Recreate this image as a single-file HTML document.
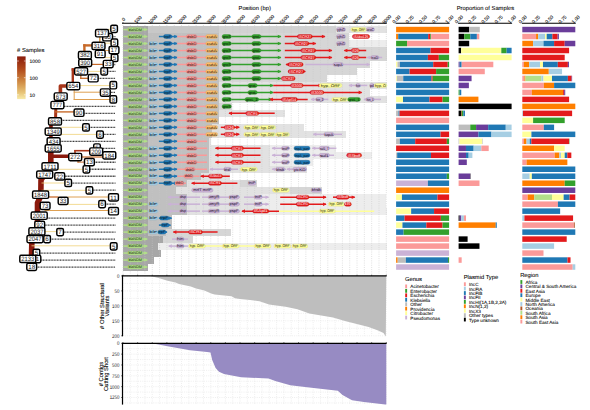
<!DOCTYPE html><html><head><meta charset="utf-8"><style>html,body{margin:0;padding:0;background:#fff;width:590px;height:410px;overflow:hidden}svg{display:block}text{font-family:"Liberation Sans",sans-serif;text-rendering:geometricPrecision}.d{stroke:#000;stroke-width:0.08px}.e{stroke:#000;stroke-width:0.07px}.t{stroke:#000;stroke-width:0.08px}.f{stroke:#111;stroke-width:0.13px}</style></head><body>
<svg width="590" height="410" viewBox="0 0 590 410">
<rect width="590" height="410" fill="#fff"/>
<rect x="122.50" y="26.06" width="25.70" height="6.985" fill="#a7a7a7" shape-rendering="crispEdges"/>
<rect x="148.20" y="26.06" width="70.80" height="6.985" fill="#c8c8c8" shape-rendering="crispEdges"/>
<rect x="219.00" y="26.06" width="117.00" height="6.985" fill="#d2d2d2" shape-rendering="crispEdges"/>
<rect x="336.00" y="26.06" width="50.60" height="6.985" fill="#e2e2e2" shape-rendering="crispEdges"/>
<rect x="122.50" y="33.04" width="25.70" height="6.985" fill="#a7a7a7" shape-rendering="crispEdges"/>
<rect x="148.20" y="33.04" width="70.80" height="6.985" fill="#c0c0c0" shape-rendering="crispEdges"/>
<rect x="219.00" y="33.04" width="130.00" height="6.985" fill="#d6d6d6" shape-rendering="crispEdges"/>
<rect x="122.50" y="40.03" width="25.70" height="6.985" fill="#a7a7a7" shape-rendering="crispEdges"/>
<rect x="148.20" y="40.03" width="70.80" height="6.985" fill="#c0c0c0" shape-rendering="crispEdges"/>
<rect x="219.00" y="40.03" width="130.00" height="6.985" fill="#d6d6d6" shape-rendering="crispEdges"/>
<rect x="349.00" y="40.03" width="37.60" height="6.985" fill="#ededed" shape-rendering="crispEdges"/>
<rect x="122.50" y="47.01" width="25.70" height="6.985" fill="#a7a7a7" shape-rendering="crispEdges"/>
<rect x="148.20" y="47.01" width="70.80" height="6.985" fill="#c0c0c0" shape-rendering="crispEdges"/>
<rect x="219.00" y="47.01" width="167.60" height="6.985" fill="#d6d6d6" shape-rendering="crispEdges"/>
<rect x="122.50" y="54.00" width="25.70" height="6.985" fill="#a7a7a7" shape-rendering="crispEdges"/>
<rect x="148.20" y="54.00" width="70.80" height="6.985" fill="#c0c0c0" shape-rendering="crispEdges"/>
<rect x="219.00" y="54.00" width="167.60" height="6.985" fill="#d6d6d6" shape-rendering="crispEdges"/>
<rect x="122.50" y="60.98" width="25.70" height="6.985" fill="#a7a7a7" shape-rendering="crispEdges"/>
<rect x="148.20" y="60.98" width="70.80" height="6.985" fill="#c0c0c0" shape-rendering="crispEdges"/>
<rect x="219.00" y="60.98" width="151.00" height="6.985" fill="#d6d6d6" shape-rendering="crispEdges"/>
<rect x="122.50" y="67.97" width="25.70" height="6.985" fill="#a7a7a7" shape-rendering="crispEdges"/>
<rect x="148.20" y="67.97" width="70.80" height="6.985" fill="#c0c0c0" shape-rendering="crispEdges"/>
<rect x="219.00" y="67.97" width="138.00" height="6.985" fill="#d6d6d6" shape-rendering="crispEdges"/>
<rect x="122.50" y="74.95" width="25.70" height="6.985" fill="#a7a7a7" shape-rendering="crispEdges"/>
<rect x="148.20" y="74.95" width="70.80" height="6.985" fill="#c0c0c0" shape-rendering="crispEdges"/>
<rect x="219.00" y="74.95" width="108.00" height="6.985" fill="#d6d6d6" shape-rendering="crispEdges"/>
<rect x="122.50" y="81.94" width="25.70" height="6.985" fill="#a7a7a7" shape-rendering="crispEdges"/>
<rect x="148.20" y="81.94" width="70.80" height="6.985" fill="#c0c0c0" shape-rendering="crispEdges"/>
<rect x="219.00" y="81.94" width="167.60" height="6.985" fill="#e2e2e2" shape-rendering="crispEdges"/>
<rect x="122.50" y="88.92" width="25.70" height="6.985" fill="#a7a7a7" shape-rendering="crispEdges"/>
<rect x="148.20" y="88.92" width="70.80" height="6.985" fill="#c0c0c0" shape-rendering="crispEdges"/>
<rect x="219.00" y="88.92" width="151.00" height="6.985" fill="#e2e2e2" shape-rendering="crispEdges"/>
<rect x="122.50" y="95.91" width="25.70" height="6.985" fill="#a7a7a7" shape-rendering="crispEdges"/>
<rect x="148.20" y="95.91" width="70.80" height="6.985" fill="#c0c0c0" shape-rendering="crispEdges"/>
<rect x="219.00" y="95.91" width="167.60" height="6.985" fill="#e2e2e2" shape-rendering="crispEdges"/>
<rect x="122.50" y="102.89" width="25.70" height="6.985" fill="#a7a7a7" shape-rendering="crispEdges"/>
<rect x="148.20" y="102.89" width="70.80" height="6.985" fill="#c0c0c0" shape-rendering="crispEdges"/>
<rect x="219.00" y="102.89" width="13.00" height="6.985" fill="#d6d6d6" shape-rendering="crispEdges"/>
<rect x="122.50" y="109.88" width="25.70" height="6.985" fill="#a7a7a7" shape-rendering="crispEdges"/>
<rect x="148.20" y="109.88" width="70.30" height="6.985" fill="#c0c0c0" shape-rendering="crispEdges"/>
<rect x="218.50" y="109.88" width="66.50" height="6.985" fill="#e2e2e2" shape-rendering="crispEdges"/>
<rect x="122.50" y="116.86" width="25.70" height="6.985" fill="#a7a7a7" shape-rendering="crispEdges"/>
<rect x="148.20" y="116.86" width="70.30" height="6.985" fill="#c0c0c0" shape-rendering="crispEdges"/>
<rect x="122.50" y="123.85" width="25.70" height="6.985" fill="#a7a7a7" shape-rendering="crispEdges"/>
<rect x="148.20" y="123.85" width="63.80" height="6.985" fill="#c0c0c0" shape-rendering="crispEdges"/>
<rect x="212.00" y="123.85" width="92.00" height="6.985" fill="#e2e2e2" shape-rendering="crispEdges"/>
<rect x="122.50" y="130.83" width="25.70" height="6.985" fill="#a7a7a7" shape-rendering="crispEdges"/>
<rect x="148.20" y="130.83" width="63.80" height="6.985" fill="#c0c0c0" shape-rendering="crispEdges"/>
<rect x="212.00" y="130.83" width="133.50" height="6.985" fill="#e2e2e2" shape-rendering="crispEdges"/>
<rect x="122.50" y="137.82" width="25.70" height="6.985" fill="#a7a7a7" shape-rendering="crispEdges"/>
<rect x="148.20" y="137.82" width="60.80" height="6.985" fill="#c0c0c0" shape-rendering="crispEdges"/>
<rect x="209.00" y="137.82" width="1.70" height="6.985" fill="#e2e2e2" shape-rendering="crispEdges"/>
<rect x="122.50" y="144.80" width="25.70" height="6.985" fill="#a7a7a7" shape-rendering="crispEdges"/>
<rect x="148.20" y="144.80" width="60.30" height="6.985" fill="#c0c0c0" shape-rendering="crispEdges"/>
<rect x="208.50" y="144.80" width="61.50" height="6.985" fill="#e2e2e2" shape-rendering="crispEdges"/>
<rect x="270.00" y="144.80" width="66.40" height="6.985" fill="#ededed" shape-rendering="crispEdges"/>
<rect x="122.50" y="151.79" width="25.70" height="6.985" fill="#a7a7a7" shape-rendering="crispEdges"/>
<rect x="148.20" y="151.79" width="60.30" height="6.985" fill="#c0c0c0" shape-rendering="crispEdges"/>
<rect x="208.50" y="151.79" width="61.50" height="6.985" fill="#e2e2e2" shape-rendering="crispEdges"/>
<rect x="270.00" y="151.79" width="102.00" height="6.985" fill="#ededed" shape-rendering="crispEdges"/>
<rect x="122.50" y="158.77" width="25.70" height="6.985" fill="#a7a7a7" shape-rendering="crispEdges"/>
<rect x="148.20" y="158.77" width="60.30" height="6.985" fill="#c0c0c0" shape-rendering="crispEdges"/>
<rect x="208.50" y="158.77" width="61.50" height="6.985" fill="#e2e2e2" shape-rendering="crispEdges"/>
<rect x="270.00" y="158.77" width="43.40" height="6.985" fill="#ededed" shape-rendering="crispEdges"/>
<rect x="122.50" y="165.76" width="25.70" height="6.985" fill="#a7a7a7" shape-rendering="crispEdges"/>
<rect x="148.20" y="165.76" width="60.30" height="6.985" fill="#c0c0c0" shape-rendering="crispEdges"/>
<rect x="208.50" y="165.76" width="98.10" height="6.985" fill="#e2e2e2" shape-rendering="crispEdges"/>
<rect x="122.50" y="172.74" width="25.70" height="6.985" fill="#a7a7a7" shape-rendering="crispEdges"/>
<rect x="148.20" y="172.74" width="52.60" height="6.985" fill="#c0c0c0" shape-rendering="crispEdges"/>
<rect x="200.80" y="172.74" width="29.00" height="6.985" fill="#e2e2e2" shape-rendering="crispEdges"/>
<rect x="122.50" y="179.73" width="25.70" height="6.985" fill="#a7a7a7" shape-rendering="crispEdges"/>
<rect x="148.20" y="179.73" width="38.80" height="6.985" fill="#c0c0c0" shape-rendering="crispEdges"/>
<rect x="187.00" y="179.73" width="53.00" height="6.985" fill="#e2e2e2" shape-rendering="crispEdges"/>
<rect x="240.00" y="179.73" width="16.50" height="6.985" fill="#d6d6d6" shape-rendering="crispEdges"/>
<rect x="122.50" y="186.71" width="25.70" height="6.985" fill="#a7a7a7" shape-rendering="crispEdges"/>
<rect x="148.20" y="186.71" width="28.20" height="6.985" fill="#c0c0c0" shape-rendering="crispEdges"/>
<rect x="176.40" y="186.71" width="113.60" height="6.985" fill="#e2e2e2" shape-rendering="crispEdges"/>
<rect x="290.00" y="186.71" width="31.50" height="6.985" fill="#d6d6d6" shape-rendering="crispEdges"/>
<rect x="122.50" y="193.70" width="25.70" height="6.985" fill="#a7a7a7" shape-rendering="crispEdges"/>
<rect x="148.20" y="193.70" width="38.30" height="6.985" fill="#c0c0c0" shape-rendering="crispEdges"/>
<rect x="186.50" y="193.70" width="68.50" height="6.985" fill="#e2e2e2" shape-rendering="crispEdges"/>
<rect x="255.00" y="193.70" width="130.60" height="6.985" fill="#ededed" shape-rendering="crispEdges"/>
<rect x="122.50" y="200.68" width="25.70" height="6.985" fill="#a7a7a7" shape-rendering="crispEdges"/>
<rect x="148.20" y="200.68" width="38.30" height="6.985" fill="#c0c0c0" shape-rendering="crispEdges"/>
<rect x="186.50" y="200.68" width="68.50" height="6.985" fill="#e2e2e2" shape-rendering="crispEdges"/>
<rect x="255.00" y="200.68" width="130.60" height="6.985" fill="#ededed" shape-rendering="crispEdges"/>
<rect x="122.50" y="207.67" width="25.70" height="6.985" fill="#a7a7a7" shape-rendering="crispEdges"/>
<rect x="148.20" y="207.67" width="38.30" height="6.985" fill="#c0c0c0" shape-rendering="crispEdges"/>
<rect x="186.50" y="207.67" width="68.50" height="6.985" fill="#e2e2e2" shape-rendering="crispEdges"/>
<rect x="255.00" y="207.67" width="131.60" height="6.985" fill="#ededed" shape-rendering="crispEdges"/>
<rect x="122.50" y="214.65" width="25.70" height="6.985" fill="#a7a7a7" shape-rendering="crispEdges"/>
<rect x="148.20" y="214.65" width="23.60" height="6.985" fill="#c0c0c0" shape-rendering="crispEdges"/>
<rect x="122.50" y="221.64" width="25.70" height="6.985" fill="#a7a7a7" shape-rendering="crispEdges"/>
<rect x="148.20" y="221.64" width="23.60" height="6.985" fill="#c0c0c0" shape-rendering="crispEdges"/>
<rect x="122.50" y="228.62" width="25.70" height="6.985" fill="#a7a7a7" shape-rendering="crispEdges"/>
<rect x="148.20" y="228.62" width="17.60" height="6.985" fill="#c0c0c0" shape-rendering="crispEdges"/>
<rect x="165.80" y="228.62" width="65.50" height="6.985" fill="#d6d6d6" shape-rendering="crispEdges"/>
<rect x="122.50" y="235.61" width="40.20" height="6.985" fill="#a7a7a7" shape-rendering="crispEdges"/>
<rect x="162.70" y="235.61" width="30.50" height="6.985" fill="#d6d6d6" shape-rendering="crispEdges"/>
<rect x="122.50" y="242.59" width="35.50" height="6.985" fill="#a7a7a7" shape-rendering="crispEdges"/>
<rect x="158.00" y="242.59" width="228.60" height="6.985" fill="#ededed" shape-rendering="crispEdges"/>
<rect x="122.50" y="249.58" width="38.70" height="6.985" fill="#a7a7a7" shape-rendering="crispEdges"/>
<rect x="122.50" y="256.56" width="31.20" height="6.985" fill="#a7a7a7" shape-rendering="crispEdges"/>
<rect x="122.50" y="263.55" width="25.80" height="6.985" fill="#a7a7a7" shape-rendering="crispEdges"/>
<line x1="123.00" y1="25" x2="123.00" y2="274" stroke="#c8c8c8" stroke-width="0.6" stroke-dasharray="0.9,1.3"/>
<line x1="130.31" y1="25" x2="130.31" y2="274" stroke="#c8c8c8" stroke-width="0.6" stroke-dasharray="0.9,1.3"/>
<line x1="137.63" y1="25" x2="137.63" y2="274" stroke="#c8c8c8" stroke-width="0.6" stroke-dasharray="0.9,1.3"/>
<line x1="144.94" y1="25" x2="144.94" y2="274" stroke="#c8c8c8" stroke-width="0.6" stroke-dasharray="0.9,1.3"/>
<line x1="152.26" y1="25" x2="152.26" y2="274" stroke="#c8c8c8" stroke-width="0.6" stroke-dasharray="0.9,1.3"/>
<line x1="159.57" y1="25" x2="159.57" y2="274" stroke="#c8c8c8" stroke-width="0.6" stroke-dasharray="0.9,1.3"/>
<line x1="166.88" y1="25" x2="166.88" y2="274" stroke="#c8c8c8" stroke-width="0.6" stroke-dasharray="0.9,1.3"/>
<line x1="174.20" y1="25" x2="174.20" y2="274" stroke="#c8c8c8" stroke-width="0.6" stroke-dasharray="0.9,1.3"/>
<line x1="181.51" y1="25" x2="181.51" y2="274" stroke="#c8c8c8" stroke-width="0.6" stroke-dasharray="0.9,1.3"/>
<line x1="188.82" y1="25" x2="188.82" y2="274" stroke="#c8c8c8" stroke-width="0.6" stroke-dasharray="0.9,1.3"/>
<line x1="196.14" y1="25" x2="196.14" y2="274" stroke="#c8c8c8" stroke-width="0.6" stroke-dasharray="0.9,1.3"/>
<line x1="203.45" y1="25" x2="203.45" y2="274" stroke="#c8c8c8" stroke-width="0.6" stroke-dasharray="0.9,1.3"/>
<line x1="210.77" y1="25" x2="210.77" y2="274" stroke="#c8c8c8" stroke-width="0.6" stroke-dasharray="0.9,1.3"/>
<line x1="218.08" y1="25" x2="218.08" y2="274" stroke="#c8c8c8" stroke-width="0.6" stroke-dasharray="0.9,1.3"/>
<line x1="225.39" y1="25" x2="225.39" y2="274" stroke="#c8c8c8" stroke-width="0.6" stroke-dasharray="0.9,1.3"/>
<line x1="232.71" y1="25" x2="232.71" y2="274" stroke="#c8c8c8" stroke-width="0.6" stroke-dasharray="0.9,1.3"/>
<line x1="240.02" y1="25" x2="240.02" y2="274" stroke="#c8c8c8" stroke-width="0.6" stroke-dasharray="0.9,1.3"/>
<line x1="247.34" y1="25" x2="247.34" y2="274" stroke="#c8c8c8" stroke-width="0.6" stroke-dasharray="0.9,1.3"/>
<line x1="254.65" y1="25" x2="254.65" y2="274" stroke="#c8c8c8" stroke-width="0.6" stroke-dasharray="0.9,1.3"/>
<line x1="261.96" y1="25" x2="261.96" y2="274" stroke="#c8c8c8" stroke-width="0.6" stroke-dasharray="0.9,1.3"/>
<line x1="269.28" y1="25" x2="269.28" y2="274" stroke="#c8c8c8" stroke-width="0.6" stroke-dasharray="0.9,1.3"/>
<line x1="276.59" y1="25" x2="276.59" y2="274" stroke="#c8c8c8" stroke-width="0.6" stroke-dasharray="0.9,1.3"/>
<line x1="283.91" y1="25" x2="283.91" y2="274" stroke="#c8c8c8" stroke-width="0.6" stroke-dasharray="0.9,1.3"/>
<line x1="291.22" y1="25" x2="291.22" y2="274" stroke="#c8c8c8" stroke-width="0.6" stroke-dasharray="0.9,1.3"/>
<line x1="298.53" y1="25" x2="298.53" y2="274" stroke="#c8c8c8" stroke-width="0.6" stroke-dasharray="0.9,1.3"/>
<line x1="305.85" y1="25" x2="305.85" y2="274" stroke="#c8c8c8" stroke-width="0.6" stroke-dasharray="0.9,1.3"/>
<line x1="313.16" y1="25" x2="313.16" y2="274" stroke="#c8c8c8" stroke-width="0.6" stroke-dasharray="0.9,1.3"/>
<line x1="320.48" y1="25" x2="320.48" y2="274" stroke="#c8c8c8" stroke-width="0.6" stroke-dasharray="0.9,1.3"/>
<line x1="327.79" y1="25" x2="327.79" y2="274" stroke="#c8c8c8" stroke-width="0.6" stroke-dasharray="0.9,1.3"/>
<line x1="335.10" y1="25" x2="335.10" y2="274" stroke="#c8c8c8" stroke-width="0.6" stroke-dasharray="0.9,1.3"/>
<line x1="342.42" y1="25" x2="342.42" y2="274" stroke="#c8c8c8" stroke-width="0.6" stroke-dasharray="0.9,1.3"/>
<line x1="349.73" y1="25" x2="349.73" y2="274" stroke="#c8c8c8" stroke-width="0.6" stroke-dasharray="0.9,1.3"/>
<line x1="357.04" y1="25" x2="357.04" y2="274" stroke="#c8c8c8" stroke-width="0.6" stroke-dasharray="0.9,1.3"/>
<line x1="364.36" y1="25" x2="364.36" y2="274" stroke="#c8c8c8" stroke-width="0.6" stroke-dasharray="0.9,1.3"/>
<line x1="371.67" y1="25" x2="371.67" y2="274" stroke="#c8c8c8" stroke-width="0.6" stroke-dasharray="0.9,1.3"/>
<line x1="378.99" y1="25" x2="378.99" y2="274" stroke="#c8c8c8" stroke-width="0.6" stroke-dasharray="0.9,1.3"/>
<line x1="386.30" y1="25" x2="386.30" y2="274" stroke="#c8c8c8" stroke-width="0.6" stroke-dasharray="0.9,1.3"/>
<line x1="123.40" y1="29.55" x2="147.20" y2="29.55" stroke="#b2df8a" stroke-width="1.5"/>
<path d="M147.80,29.55 L144.20,27.75 L144.20,31.35Z" fill="#b2df8a"/>
<rect x="127.30" y="27.60" width="15.60" height="3.9" rx="1.9" fill="#b2df8a" stroke="#97bd75" stroke-width="0.4"/>
<text x="135.10" y="30.80" font-size="3.8" text-anchor="middle" fill="#0a2005" textLength="13.42" lengthAdjust="spacingAndGlyphs">blaNDM</text>
<rect x="336.40" y="27.60" width="9.10" height="3.9" rx="1.9" fill="#cab2d6" stroke="#ab97b5" stroke-width="0.4"/>
<text x="340.95" y="30.80" font-size="3.8" text-anchor="middle" fill="#100818" textLength="7.83" lengthAdjust="spacingAndGlyphs">yjhG</text>
<rect x="351.00" y="27.60" width="15.20" height="3.9" rx="1.9" fill="#ffff99" stroke="#d8d882" stroke-width="0.4"/>
<text x="358.60" y="30.80" font-size="3.8" text-anchor="middle" fill="#101000" textLength="13.07" lengthAdjust="spacingAndGlyphs">hyp. ORF</text>
<rect x="366.20" y="27.60" width="8.30" height="3.9" rx="1.9" fill="#cab2d6" stroke="#ab97b5" stroke-width="0.4"/>
<text x="370.35" y="30.80" font-size="3.8" text-anchor="middle" fill="#100818" textLength="7.14" lengthAdjust="spacingAndGlyphs">aroC</text>
<line x1="123.40" y1="36.54" x2="147.20" y2="36.54" stroke="#b2df8a" stroke-width="1.5"/>
<path d="M147.80,36.54 L144.20,34.74 L144.20,38.34Z" fill="#b2df8a"/>
<rect x="127.30" y="34.59" width="15.60" height="3.9" rx="1.9" fill="#b2df8a" stroke="#97bd75" stroke-width="0.4"/>
<text x="135.10" y="37.79" font-size="3.8" text-anchor="middle" fill="#0a2005" textLength="13.42" lengthAdjust="spacingAndGlyphs">blaNDM</text>
<line x1="158.90" y1="36.54" x2="177.20" y2="36.54" stroke="#1f78b4" stroke-width="1.5"/>
<path d="M177.80,36.54 L174.20,34.74 L174.20,38.34Z" fill="#1f78b4"/>
<rect x="163.50" y="34.59" width="8.40" height="3.9" rx="1.9" fill="#1f78b4" stroke="#1a6699" stroke-width="0.4"/>
<text x="167.70" y="37.79" font-size="3.8" text-anchor="middle" fill="#000810" textLength="7.22" lengthAdjust="spacingAndGlyphs">trpF</text>
<line x1="177.20" y1="36.54" x2="206.50" y2="36.54" stroke="#fb9a99" stroke-width="1.5"/>
<rect x="186.40" y="34.59" width="10.60" height="3.9" rx="1.9" fill="#fb9a99" stroke="#d58282" stroke-width="0.4"/>
<text x="191.70" y="37.79" font-size="3.8" text-anchor="middle" fill="#300808" textLength="9.12" lengthAdjust="spacingAndGlyphs">dsbD</text>
<rect x="205.80" y="34.59" width="11.80" height="3.9" rx="1.9" fill="#fdbf6f" stroke="#d7a25e" stroke-width="0.4"/>
<text x="211.70" y="37.79" font-size="3.8" text-anchor="middle" fill="#201000" textLength="10.15" lengthAdjust="spacingAndGlyphs">cutA</text>
<rect x="222.10" y="34.59" width="9.20" height="3.9" rx="1.9" fill="#33a02c" stroke="#2b8825" stroke-width="0.4"/>
<text x="226.70" y="37.79" font-size="3.8" text-anchor="middle" fill="#000a00" textLength="7.91" lengthAdjust="spacingAndGlyphs">groS</text>
<line x1="231.30" y1="36.54" x2="280.80" y2="36.54" stroke="#33a02c" stroke-width="1.5"/>
<path d="M281.40,36.54 L277.80,34.74 L277.80,38.34Z" fill="#33a02c"/>
<rect x="251.90" y="34.59" width="9.10" height="3.9" rx="1.9" fill="#33a02c" stroke="#2b8825" stroke-width="0.4"/>
<text x="256.45" y="37.79" font-size="3.8" text-anchor="middle" fill="#000a00" textLength="7.83" lengthAdjust="spacingAndGlyphs">groL</text>
<line x1="284.80" y1="36.54" x2="324.90" y2="36.54" stroke="#e31a1c" stroke-width="1.5"/>
<path d="M325.50,36.54 L321.90,34.74 L321.90,38.34Z" fill="#e31a1c"/>
<rect x="297.40" y="34.59" width="14.90" height="3.9" rx="1.9" fill="#e31a1c" stroke="#c01617" stroke-width="0.4"/>
<text x="304.85" y="37.79" font-size="3.8" text-anchor="middle" fill="#ffffff" textLength="12.81" lengthAdjust="spacingAndGlyphs">ISCR27</text>
<rect x="336.40" y="34.59" width="9.10" height="3.9" rx="1.9" fill="#cab2d6" stroke="#ab97b5" stroke-width="0.4"/>
<text x="340.95" y="37.79" font-size="3.8" text-anchor="middle" fill="#100818" textLength="7.83" lengthAdjust="spacingAndGlyphs">yjhG</text>
<rect x="352.40" y="34.59" width="17.20" height="3.9" rx="1.9" fill="#e31a1c" stroke="#c01617" stroke-width="0.4"/>
<text x="361.00" y="37.79" font-size="3.8" text-anchor="middle" fill="#ffffff" textLength="14.79" lengthAdjust="spacingAndGlyphs">ISAba125</text>
<line x1="123.40" y1="43.52" x2="147.20" y2="43.52" stroke="#b2df8a" stroke-width="1.5"/>
<path d="M147.80,43.52 L144.20,41.72 L144.20,45.32Z" fill="#b2df8a"/>
<rect x="127.30" y="41.57" width="15.60" height="3.9" rx="1.9" fill="#b2df8a" stroke="#97bd75" stroke-width="0.4"/>
<text x="135.10" y="44.77" font-size="3.8" text-anchor="middle" fill="#0a2005" textLength="13.42" lengthAdjust="spacingAndGlyphs">blaNDM</text>
<line x1="147.80" y1="43.52" x2="158.50" y2="43.52" stroke="#a6cee3" stroke-width="1.5"/>
<rect x="148.60" y="41.57" width="9.00" height="3.9" rx="1.9" fill="#a6cee3" stroke="#8dafc0" stroke-width="0.4"/>
<text x="153.10" y="44.77" font-size="3.8" text-anchor="middle" fill="#05182a" textLength="7.74" lengthAdjust="spacingAndGlyphs">ble</text>
<line x1="158.90" y1="43.52" x2="177.20" y2="43.52" stroke="#1f78b4" stroke-width="1.5"/>
<path d="M177.80,43.52 L174.20,41.72 L174.20,45.32Z" fill="#1f78b4"/>
<rect x="163.50" y="41.57" width="8.40" height="3.9" rx="1.9" fill="#1f78b4" stroke="#1a6699" stroke-width="0.4"/>
<text x="167.70" y="44.77" font-size="3.8" text-anchor="middle" fill="#000810" textLength="7.22" lengthAdjust="spacingAndGlyphs">trpF</text>
<line x1="177.20" y1="43.52" x2="206.50" y2="43.52" stroke="#fb9a99" stroke-width="1.5"/>
<rect x="186.40" y="41.57" width="10.60" height="3.9" rx="1.9" fill="#fb9a99" stroke="#d58282" stroke-width="0.4"/>
<text x="191.70" y="44.77" font-size="3.8" text-anchor="middle" fill="#300808" textLength="9.12" lengthAdjust="spacingAndGlyphs">dsbD</text>
<rect x="205.80" y="41.57" width="11.80" height="3.9" rx="1.9" fill="#fdbf6f" stroke="#d7a25e" stroke-width="0.4"/>
<text x="211.70" y="44.77" font-size="3.8" text-anchor="middle" fill="#201000" textLength="10.15" lengthAdjust="spacingAndGlyphs">cutA</text>
<rect x="222.10" y="41.57" width="9.20" height="3.9" rx="1.9" fill="#33a02c" stroke="#2b8825" stroke-width="0.4"/>
<text x="226.70" y="44.77" font-size="3.8" text-anchor="middle" fill="#000a00" textLength="7.91" lengthAdjust="spacingAndGlyphs">groS</text>
<line x1="231.30" y1="43.52" x2="280.80" y2="43.52" stroke="#33a02c" stroke-width="1.5"/>
<path d="M281.40,43.52 L277.80,41.72 L277.80,45.32Z" fill="#33a02c"/>
<rect x="251.90" y="41.57" width="9.10" height="3.9" rx="1.9" fill="#33a02c" stroke="#2b8825" stroke-width="0.4"/>
<text x="256.45" y="44.77" font-size="3.8" text-anchor="middle" fill="#000a00" textLength="7.83" lengthAdjust="spacingAndGlyphs">groL</text>
<line x1="284.80" y1="43.52" x2="315.70" y2="43.52" stroke="#e31a1c" stroke-width="1.5"/>
<path d="M316.30,43.52 L312.70,41.72 L312.70,45.32Z" fill="#e31a1c"/>
<rect x="294.00" y="41.57" width="14.90" height="3.9" rx="1.9" fill="#e31a1c" stroke="#c01617" stroke-width="0.4"/>
<text x="301.45" y="44.77" font-size="3.8" text-anchor="middle" fill="#ffffff" textLength="12.81" lengthAdjust="spacingAndGlyphs">ISCR27</text>
<rect x="336.40" y="41.57" width="9.10" height="3.9" rx="1.9" fill="#cab2d6" stroke="#ab97b5" stroke-width="0.4"/>
<text x="340.95" y="44.77" font-size="3.8" text-anchor="middle" fill="#100818" textLength="7.83" lengthAdjust="spacingAndGlyphs">yjhG</text>
<line x1="123.40" y1="50.51" x2="147.20" y2="50.51" stroke="#b2df8a" stroke-width="1.5"/>
<path d="M147.80,50.51 L144.20,48.71 L144.20,52.30Z" fill="#b2df8a"/>
<rect x="127.30" y="48.55" width="15.60" height="3.9" rx="1.9" fill="#b2df8a" stroke="#97bd75" stroke-width="0.4"/>
<text x="135.10" y="51.76" font-size="3.8" text-anchor="middle" fill="#0a2005" textLength="13.42" lengthAdjust="spacingAndGlyphs">blaNDM</text>
<line x1="147.80" y1="50.51" x2="158.50" y2="50.51" stroke="#a6cee3" stroke-width="1.5"/>
<rect x="148.60" y="48.55" width="9.00" height="3.9" rx="1.9" fill="#a6cee3" stroke="#8dafc0" stroke-width="0.4"/>
<text x="153.10" y="51.76" font-size="3.8" text-anchor="middle" fill="#05182a" textLength="7.74" lengthAdjust="spacingAndGlyphs">ble</text>
<line x1="158.90" y1="50.51" x2="177.20" y2="50.51" stroke="#1f78b4" stroke-width="1.5"/>
<path d="M177.80,50.51 L174.20,48.71 L174.20,52.30Z" fill="#1f78b4"/>
<rect x="163.50" y="48.55" width="8.40" height="3.9" rx="1.9" fill="#1f78b4" stroke="#1a6699" stroke-width="0.4"/>
<text x="167.70" y="51.76" font-size="3.8" text-anchor="middle" fill="#000810" textLength="7.22" lengthAdjust="spacingAndGlyphs">trpF</text>
<line x1="177.20" y1="50.51" x2="206.50" y2="50.51" stroke="#fb9a99" stroke-width="1.5"/>
<rect x="186.40" y="48.55" width="10.60" height="3.9" rx="1.9" fill="#fb9a99" stroke="#d58282" stroke-width="0.4"/>
<text x="191.70" y="51.76" font-size="3.8" text-anchor="middle" fill="#300808" textLength="9.12" lengthAdjust="spacingAndGlyphs">dsbD</text>
<rect x="205.80" y="48.55" width="11.80" height="3.9" rx="1.9" fill="#fdbf6f" stroke="#d7a25e" stroke-width="0.4"/>
<text x="211.70" y="51.76" font-size="3.8" text-anchor="middle" fill="#201000" textLength="10.15" lengthAdjust="spacingAndGlyphs">cutA</text>
<rect x="222.10" y="48.55" width="9.20" height="3.9" rx="1.9" fill="#33a02c" stroke="#2b8825" stroke-width="0.4"/>
<text x="226.70" y="51.76" font-size="3.8" text-anchor="middle" fill="#000a00" textLength="7.91" lengthAdjust="spacingAndGlyphs">groS</text>
<line x1="231.30" y1="50.51" x2="280.80" y2="50.51" stroke="#33a02c" stroke-width="1.5"/>
<path d="M281.40,50.51 L277.80,48.71 L277.80,52.30Z" fill="#33a02c"/>
<rect x="251.90" y="48.55" width="9.10" height="3.9" rx="1.9" fill="#33a02c" stroke="#2b8825" stroke-width="0.4"/>
<text x="256.45" y="51.76" font-size="3.8" text-anchor="middle" fill="#000a00" textLength="7.83" lengthAdjust="spacingAndGlyphs">groL</text>
<line x1="284.80" y1="50.51" x2="331.80" y2="50.51" stroke="#e31a1c" stroke-width="1.5"/>
<path d="M332.40,50.51 L328.80,48.71 L328.80,52.30Z" fill="#e31a1c"/>
<rect x="300.80" y="48.55" width="14.90" height="3.9" rx="1.9" fill="#e31a1c" stroke="#c01617" stroke-width="0.4"/>
<text x="308.25" y="51.76" font-size="3.8" text-anchor="middle" fill="#ffffff" textLength="12.81" lengthAdjust="spacingAndGlyphs">ISCR27</text>
<line x1="344.40" y1="50.51" x2="366.20" y2="50.51" stroke="#e31a1c" stroke-width="1.5"/>
<path d="M343.80,50.51 L347.40,48.71 L347.40,52.30Z" fill="#e31a1c"/>
<rect x="351.30" y="48.55" width="8.00" height="3.9" rx="1.9" fill="#e31a1c" stroke="#c01617" stroke-width="0.4"/>
<text x="355.30" y="51.76" font-size="3.8" text-anchor="middle" fill="#ffffff" textLength="6.88" lengthAdjust="spacingAndGlyphs">IS26</text>
<line x1="123.40" y1="57.49" x2="147.20" y2="57.49" stroke="#b2df8a" stroke-width="1.5"/>
<path d="M147.80,57.49 L144.20,55.69 L144.20,59.29Z" fill="#b2df8a"/>
<rect x="127.30" y="55.54" width="15.60" height="3.9" rx="1.9" fill="#b2df8a" stroke="#97bd75" stroke-width="0.4"/>
<text x="135.10" y="58.74" font-size="3.8" text-anchor="middle" fill="#0a2005" textLength="13.42" lengthAdjust="spacingAndGlyphs">blaNDM</text>
<line x1="147.80" y1="57.49" x2="158.50" y2="57.49" stroke="#a6cee3" stroke-width="1.5"/>
<rect x="148.60" y="55.54" width="9.00" height="3.9" rx="1.9" fill="#a6cee3" stroke="#8dafc0" stroke-width="0.4"/>
<text x="153.10" y="58.74" font-size="3.8" text-anchor="middle" fill="#05182a" textLength="7.74" lengthAdjust="spacingAndGlyphs">ble</text>
<line x1="158.90" y1="57.49" x2="177.20" y2="57.49" stroke="#1f78b4" stroke-width="1.5"/>
<path d="M177.80,57.49 L174.20,55.69 L174.20,59.29Z" fill="#1f78b4"/>
<rect x="163.50" y="55.54" width="8.40" height="3.9" rx="1.9" fill="#1f78b4" stroke="#1a6699" stroke-width="0.4"/>
<text x="167.70" y="58.74" font-size="3.8" text-anchor="middle" fill="#000810" textLength="7.22" lengthAdjust="spacingAndGlyphs">trpF</text>
<line x1="177.20" y1="57.49" x2="206.50" y2="57.49" stroke="#fb9a99" stroke-width="1.5"/>
<rect x="186.40" y="55.54" width="10.60" height="3.9" rx="1.9" fill="#fb9a99" stroke="#d58282" stroke-width="0.4"/>
<text x="191.70" y="58.74" font-size="3.8" text-anchor="middle" fill="#300808" textLength="9.12" lengthAdjust="spacingAndGlyphs">dsbD</text>
<rect x="205.80" y="55.54" width="11.80" height="3.9" rx="1.9" fill="#fdbf6f" stroke="#d7a25e" stroke-width="0.4"/>
<text x="211.70" y="58.74" font-size="3.8" text-anchor="middle" fill="#201000" textLength="10.15" lengthAdjust="spacingAndGlyphs">cutA</text>
<rect x="222.10" y="55.54" width="9.20" height="3.9" rx="1.9" fill="#33a02c" stroke="#2b8825" stroke-width="0.4"/>
<text x="226.70" y="58.74" font-size="3.8" text-anchor="middle" fill="#000a00" textLength="7.91" lengthAdjust="spacingAndGlyphs">groS</text>
<line x1="231.30" y1="57.49" x2="280.80" y2="57.49" stroke="#33a02c" stroke-width="1.5"/>
<path d="M281.40,57.49 L277.80,55.69 L277.80,59.29Z" fill="#33a02c"/>
<rect x="251.90" y="55.54" width="9.10" height="3.9" rx="1.9" fill="#33a02c" stroke="#2b8825" stroke-width="0.4"/>
<text x="256.45" y="58.74" font-size="3.8" text-anchor="middle" fill="#000a00" textLength="7.83" lengthAdjust="spacingAndGlyphs">groL</text>
<line x1="284.80" y1="57.49" x2="331.80" y2="57.49" stroke="#e31a1c" stroke-width="1.5"/>
<path d="M332.40,57.49 L328.80,55.69 L328.80,59.29Z" fill="#e31a1c"/>
<rect x="300.80" y="55.54" width="14.90" height="3.9" rx="1.9" fill="#e31a1c" stroke="#c01617" stroke-width="0.4"/>
<text x="308.25" y="58.74" font-size="3.8" text-anchor="middle" fill="#ffffff" textLength="12.81" lengthAdjust="spacingAndGlyphs">ISCR27</text>
<line x1="344.40" y1="57.49" x2="366.20" y2="57.49" stroke="#e31a1c" stroke-width="1.5"/>
<path d="M343.80,57.49 L347.40,55.69 L347.40,59.29Z" fill="#e31a1c"/>
<rect x="351.30" y="55.54" width="8.00" height="3.9" rx="1.9" fill="#e31a1c" stroke="#c01617" stroke-width="0.4"/>
<text x="355.30" y="58.74" font-size="3.8" text-anchor="middle" fill="#ffffff" textLength="6.88" lengthAdjust="spacingAndGlyphs">IS26</text>
<line x1="367.30" y1="57.49" x2="382.20" y2="57.49" stroke="#cab2d6" stroke-width="1.5"/>
<path d="M366.70,57.49 L370.30,55.69 L370.30,59.29Z" fill="#cab2d6"/>
<rect x="370.70" y="55.54" width="8.10" height="3.9" rx="1.9" fill="#cab2d6" stroke="#ab97b5" stroke-width="0.4"/>
<text x="374.75" y="58.74" font-size="3.8" text-anchor="middle" fill="#100818" textLength="6.97" lengthAdjust="spacingAndGlyphs">traD</text>
<line x1="123.40" y1="64.48" x2="147.20" y2="64.48" stroke="#b2df8a" stroke-width="1.5"/>
<path d="M147.80,64.48 L144.20,62.68 L144.20,66.28Z" fill="#b2df8a"/>
<rect x="127.30" y="62.53" width="15.60" height="3.9" rx="1.9" fill="#b2df8a" stroke="#97bd75" stroke-width="0.4"/>
<text x="135.10" y="65.73" font-size="3.8" text-anchor="middle" fill="#0a2005" textLength="13.42" lengthAdjust="spacingAndGlyphs">blaNDM</text>
<line x1="147.80" y1="64.48" x2="158.50" y2="64.48" stroke="#a6cee3" stroke-width="1.5"/>
<rect x="148.60" y="62.53" width="9.00" height="3.9" rx="1.9" fill="#a6cee3" stroke="#8dafc0" stroke-width="0.4"/>
<text x="153.10" y="65.73" font-size="3.8" text-anchor="middle" fill="#05182a" textLength="7.74" lengthAdjust="spacingAndGlyphs">ble</text>
<line x1="158.90" y1="64.48" x2="177.20" y2="64.48" stroke="#1f78b4" stroke-width="1.5"/>
<path d="M177.80,64.48 L174.20,62.68 L174.20,66.28Z" fill="#1f78b4"/>
<rect x="163.50" y="62.53" width="8.40" height="3.9" rx="1.9" fill="#1f78b4" stroke="#1a6699" stroke-width="0.4"/>
<text x="167.70" y="65.73" font-size="3.8" text-anchor="middle" fill="#000810" textLength="7.22" lengthAdjust="spacingAndGlyphs">trpF</text>
<line x1="177.20" y1="64.48" x2="206.50" y2="64.48" stroke="#fb9a99" stroke-width="1.5"/>
<rect x="186.40" y="62.53" width="10.60" height="3.9" rx="1.9" fill="#fb9a99" stroke="#d58282" stroke-width="0.4"/>
<text x="191.70" y="65.73" font-size="3.8" text-anchor="middle" fill="#300808" textLength="9.12" lengthAdjust="spacingAndGlyphs">dsbD</text>
<rect x="205.80" y="62.53" width="11.80" height="3.9" rx="1.9" fill="#fdbf6f" stroke="#d7a25e" stroke-width="0.4"/>
<text x="211.70" y="65.73" font-size="3.8" text-anchor="middle" fill="#201000" textLength="10.15" lengthAdjust="spacingAndGlyphs">cutA</text>
<rect x="222.10" y="62.53" width="9.20" height="3.9" rx="1.9" fill="#33a02c" stroke="#2b8825" stroke-width="0.4"/>
<text x="226.70" y="65.73" font-size="3.8" text-anchor="middle" fill="#000a00" textLength="7.91" lengthAdjust="spacingAndGlyphs">groS</text>
<line x1="231.30" y1="64.48" x2="280.80" y2="64.48" stroke="#33a02c" stroke-width="1.5"/>
<path d="M281.40,64.48 L277.80,62.68 L277.80,66.28Z" fill="#33a02c"/>
<rect x="251.90" y="62.53" width="9.10" height="3.9" rx="1.9" fill="#33a02c" stroke="#2b8825" stroke-width="0.4"/>
<text x="256.45" y="65.73" font-size="3.8" text-anchor="middle" fill="#000a00" textLength="7.83" lengthAdjust="spacingAndGlyphs">groL</text>
<line x1="286.00" y1="64.48" x2="303.00" y2="64.48" stroke="#e31a1c" stroke-width="1.5"/>
<path d="M285.40,64.48 L289.00,62.68 L289.00,66.28Z" fill="#e31a1c"/>
<rect x="288.20" y="62.53" width="14.90" height="3.9" rx="1.9" fill="#e31a1c" stroke="#c01617" stroke-width="0.4"/>
<text x="295.65" y="65.73" font-size="3.8" text-anchor="middle" fill="#ffffff" textLength="12.81" lengthAdjust="spacingAndGlyphs">ISCR27</text>
<line x1="305.30" y1="64.48" x2="369.60" y2="64.48" stroke="#cab2d6" stroke-width="1.5"/>
<path d="M370.20,64.48 L366.60,62.68 L366.60,66.28Z" fill="#cab2d6"/>
<rect x="333.00" y="62.53" width="10.20" height="3.9" rx="1.9" fill="#cab2d6" stroke="#ab97b5" stroke-width="0.4"/>
<text x="338.10" y="65.73" font-size="3.8" text-anchor="middle" fill="#100818" textLength="8.77" lengthAdjust="spacingAndGlyphs">sapA</text>
<line x1="123.40" y1="71.46" x2="147.20" y2="71.46" stroke="#b2df8a" stroke-width="1.5"/>
<path d="M147.80,71.46 L144.20,69.66 L144.20,73.26Z" fill="#b2df8a"/>
<rect x="127.30" y="69.51" width="15.60" height="3.9" rx="1.9" fill="#b2df8a" stroke="#97bd75" stroke-width="0.4"/>
<text x="135.10" y="72.71" font-size="3.8" text-anchor="middle" fill="#0a2005" textLength="13.42" lengthAdjust="spacingAndGlyphs">blaNDM</text>
<line x1="147.80" y1="71.46" x2="158.50" y2="71.46" stroke="#a6cee3" stroke-width="1.5"/>
<rect x="148.60" y="69.51" width="9.00" height="3.9" rx="1.9" fill="#a6cee3" stroke="#8dafc0" stroke-width="0.4"/>
<text x="153.10" y="72.71" font-size="3.8" text-anchor="middle" fill="#05182a" textLength="7.74" lengthAdjust="spacingAndGlyphs">ble</text>
<line x1="158.90" y1="71.46" x2="177.20" y2="71.46" stroke="#1f78b4" stroke-width="1.5"/>
<path d="M177.80,71.46 L174.20,69.66 L174.20,73.26Z" fill="#1f78b4"/>
<rect x="163.50" y="69.51" width="8.40" height="3.9" rx="1.9" fill="#1f78b4" stroke="#1a6699" stroke-width="0.4"/>
<text x="167.70" y="72.71" font-size="3.8" text-anchor="middle" fill="#000810" textLength="7.22" lengthAdjust="spacingAndGlyphs">trpF</text>
<line x1="177.20" y1="71.46" x2="206.50" y2="71.46" stroke="#fb9a99" stroke-width="1.5"/>
<rect x="186.40" y="69.51" width="10.60" height="3.9" rx="1.9" fill="#fb9a99" stroke="#d58282" stroke-width="0.4"/>
<text x="191.70" y="72.71" font-size="3.8" text-anchor="middle" fill="#300808" textLength="9.12" lengthAdjust="spacingAndGlyphs">dsbD</text>
<rect x="205.80" y="69.51" width="11.80" height="3.9" rx="1.9" fill="#fdbf6f" stroke="#d7a25e" stroke-width="0.4"/>
<text x="211.70" y="72.71" font-size="3.8" text-anchor="middle" fill="#201000" textLength="10.15" lengthAdjust="spacingAndGlyphs">cutA</text>
<rect x="222.10" y="69.51" width="9.20" height="3.9" rx="1.9" fill="#33a02c" stroke="#2b8825" stroke-width="0.4"/>
<text x="226.70" y="72.71" font-size="3.8" text-anchor="middle" fill="#000a00" textLength="7.91" lengthAdjust="spacingAndGlyphs">groS</text>
<line x1="231.30" y1="71.46" x2="280.80" y2="71.46" stroke="#33a02c" stroke-width="1.5"/>
<path d="M281.40,71.46 L277.80,69.66 L277.80,73.26Z" fill="#33a02c"/>
<rect x="251.90" y="69.51" width="9.10" height="3.9" rx="1.9" fill="#33a02c" stroke="#2b8825" stroke-width="0.4"/>
<text x="256.45" y="72.71" font-size="3.8" text-anchor="middle" fill="#000a00" textLength="7.83" lengthAdjust="spacingAndGlyphs">groL</text>
<line x1="288.20" y1="71.46" x2="305.30" y2="71.46" stroke="#e31a1c" stroke-width="1.5"/>
<path d="M305.90,71.46 L302.30,69.66 L302.30,73.26Z" fill="#e31a1c"/>
<rect x="288.20" y="69.51" width="16.10" height="3.9" rx="1.9" fill="#e31a1c" stroke="#c01617" stroke-width="0.4"/>
<text x="296.25" y="72.71" font-size="3.8" text-anchor="middle" fill="#ffffff" textLength="13.85" lengthAdjust="spacingAndGlyphs">ISCR27</text>
<line x1="123.40" y1="78.45" x2="147.20" y2="78.45" stroke="#b2df8a" stroke-width="1.5"/>
<path d="M147.80,78.45 L144.20,76.65 L144.20,80.25Z" fill="#b2df8a"/>
<rect x="127.30" y="76.50" width="15.60" height="3.9" rx="1.9" fill="#b2df8a" stroke="#97bd75" stroke-width="0.4"/>
<text x="135.10" y="79.70" font-size="3.8" text-anchor="middle" fill="#0a2005" textLength="13.42" lengthAdjust="spacingAndGlyphs">blaNDM</text>
<line x1="147.80" y1="78.45" x2="158.50" y2="78.45" stroke="#a6cee3" stroke-width="1.5"/>
<rect x="148.60" y="76.50" width="9.00" height="3.9" rx="1.9" fill="#a6cee3" stroke="#8dafc0" stroke-width="0.4"/>
<text x="153.10" y="79.70" font-size="3.8" text-anchor="middle" fill="#05182a" textLength="7.74" lengthAdjust="spacingAndGlyphs">ble</text>
<line x1="158.90" y1="78.45" x2="177.20" y2="78.45" stroke="#1f78b4" stroke-width="1.5"/>
<path d="M177.80,78.45 L174.20,76.65 L174.20,80.25Z" fill="#1f78b4"/>
<rect x="163.50" y="76.50" width="8.40" height="3.9" rx="1.9" fill="#1f78b4" stroke="#1a6699" stroke-width="0.4"/>
<text x="167.70" y="79.70" font-size="3.8" text-anchor="middle" fill="#000810" textLength="7.22" lengthAdjust="spacingAndGlyphs">trpF</text>
<line x1="177.20" y1="78.45" x2="206.50" y2="78.45" stroke="#fb9a99" stroke-width="1.5"/>
<rect x="186.40" y="76.50" width="10.60" height="3.9" rx="1.9" fill="#fb9a99" stroke="#d58282" stroke-width="0.4"/>
<text x="191.70" y="79.70" font-size="3.8" text-anchor="middle" fill="#300808" textLength="9.12" lengthAdjust="spacingAndGlyphs">dsbD</text>
<rect x="205.80" y="76.50" width="11.80" height="3.9" rx="1.9" fill="#fdbf6f" stroke="#d7a25e" stroke-width="0.4"/>
<text x="211.70" y="79.70" font-size="3.8" text-anchor="middle" fill="#201000" textLength="10.15" lengthAdjust="spacingAndGlyphs">cutA</text>
<rect x="222.10" y="76.50" width="9.20" height="3.9" rx="1.9" fill="#33a02c" stroke="#2b8825" stroke-width="0.4"/>
<text x="226.70" y="79.70" font-size="3.8" text-anchor="middle" fill="#000a00" textLength="7.91" lengthAdjust="spacingAndGlyphs">groS</text>
<line x1="231.30" y1="78.45" x2="280.80" y2="78.45" stroke="#33a02c" stroke-width="1.5"/>
<path d="M281.40,78.45 L277.80,76.65 L277.80,80.25Z" fill="#33a02c"/>
<rect x="251.90" y="76.50" width="9.10" height="3.9" rx="1.9" fill="#33a02c" stroke="#2b8825" stroke-width="0.4"/>
<text x="256.45" y="79.70" font-size="3.8" text-anchor="middle" fill="#000a00" textLength="7.83" lengthAdjust="spacingAndGlyphs">groL</text>
<rect x="281.40" y="76.50" width="13.70" height="3.9" rx="1.9" fill="#e31a1c" stroke="#c01617" stroke-width="0.4"/>
<text x="288.25" y="79.70" font-size="3.8" text-anchor="middle" fill="#ffffff" textLength="11.78" lengthAdjust="spacingAndGlyphs">ISCR27</text>
<line x1="123.40" y1="85.43" x2="147.20" y2="85.43" stroke="#b2df8a" stroke-width="1.5"/>
<path d="M147.80,85.43 L144.20,83.63 L144.20,87.23Z" fill="#b2df8a"/>
<rect x="127.30" y="83.48" width="15.60" height="3.9" rx="1.9" fill="#b2df8a" stroke="#97bd75" stroke-width="0.4"/>
<text x="135.10" y="86.68" font-size="3.8" text-anchor="middle" fill="#0a2005" textLength="13.42" lengthAdjust="spacingAndGlyphs">blaNDM</text>
<line x1="147.80" y1="85.43" x2="158.50" y2="85.43" stroke="#a6cee3" stroke-width="1.5"/>
<rect x="148.60" y="83.48" width="9.00" height="3.9" rx="1.9" fill="#a6cee3" stroke="#8dafc0" stroke-width="0.4"/>
<text x="153.10" y="86.68" font-size="3.8" text-anchor="middle" fill="#05182a" textLength="7.74" lengthAdjust="spacingAndGlyphs">ble</text>
<line x1="158.90" y1="85.43" x2="177.20" y2="85.43" stroke="#1f78b4" stroke-width="1.5"/>
<path d="M177.80,85.43 L174.20,83.63 L174.20,87.23Z" fill="#1f78b4"/>
<rect x="163.50" y="83.48" width="8.40" height="3.9" rx="1.9" fill="#1f78b4" stroke="#1a6699" stroke-width="0.4"/>
<text x="167.70" y="86.68" font-size="3.8" text-anchor="middle" fill="#000810" textLength="7.22" lengthAdjust="spacingAndGlyphs">trpF</text>
<line x1="177.20" y1="85.43" x2="206.50" y2="85.43" stroke="#fb9a99" stroke-width="1.5"/>
<rect x="186.40" y="83.48" width="10.60" height="3.9" rx="1.9" fill="#fb9a99" stroke="#d58282" stroke-width="0.4"/>
<text x="191.70" y="86.68" font-size="3.8" text-anchor="middle" fill="#300808" textLength="9.12" lengthAdjust="spacingAndGlyphs">dsbD</text>
<rect x="205.80" y="83.48" width="11.80" height="3.9" rx="1.9" fill="#fdbf6f" stroke="#d7a25e" stroke-width="0.4"/>
<text x="211.70" y="86.68" font-size="3.8" text-anchor="middle" fill="#201000" textLength="10.15" lengthAdjust="spacingAndGlyphs">cutA</text>
<rect x="222.10" y="83.48" width="9.20" height="3.9" rx="1.9" fill="#33a02c" stroke="#2b8825" stroke-width="0.4"/>
<text x="226.70" y="86.68" font-size="3.8" text-anchor="middle" fill="#000a00" textLength="7.91" lengthAdjust="spacingAndGlyphs">groS</text>
<line x1="231.30" y1="85.43" x2="273.20" y2="85.43" stroke="#33a02c" stroke-width="1.5"/>
<path d="M273.80,85.43 L270.20,83.63 L270.20,87.23Z" fill="#33a02c"/>
<rect x="248.00" y="83.48" width="9.20" height="3.9" rx="1.9" fill="#33a02c" stroke="#2b8825" stroke-width="0.4"/>
<text x="252.60" y="86.68" font-size="3.8" text-anchor="middle" fill="#000a00" textLength="7.91" lengthAdjust="spacingAndGlyphs">groL</text>
<line x1="273.30" y1="85.43" x2="321.50" y2="85.43" stroke="#e31a1c" stroke-width="1.5"/>
<path d="M322.10,85.43 L318.50,83.63 L318.50,87.23Z" fill="#e31a1c"/>
<rect x="290.50" y="83.48" width="12.60" height="3.9" rx="1.9" fill="#e31a1c" stroke="#c01617" stroke-width="0.4"/>
<text x="296.80" y="86.68" font-size="3.8" text-anchor="middle" fill="#ffffff" textLength="10.84" lengthAdjust="spacingAndGlyphs">IS3000</text>
<rect x="319.20" y="83.48" width="22.80" height="3.9" rx="1.9" fill="#ffff99" stroke="#d8d882" stroke-width="0.4"/>
<text x="330.60" y="86.68" font-size="3.8" text-anchor="middle" fill="#101000" textLength="19.61" lengthAdjust="spacingAndGlyphs">hyp. ORF</text>
<line x1="349.00" y1="85.43" x2="367.30" y2="85.43" stroke="#cab2d6" stroke-width="1.5"/>
<path d="M348.40,85.43 L352.00,83.63 L352.00,87.23Z" fill="#cab2d6"/>
<rect x="355.80" y="83.48" width="4.60" height="3.9" rx="1.9" fill="#cab2d6" stroke="#ab97b5" stroke-width="0.4"/>
<text x="358.10" y="86.68" font-size="3.8" text-anchor="middle" fill="#100818" textLength="3.96" lengthAdjust="spacingAndGlyphs">hin</text>
<rect x="369.60" y="83.48" width="4.60" height="3.9" rx="1.9" fill="#cab2d6" stroke="#ab97b5" stroke-width="0.4"/>
<text x="371.90" y="86.68" font-size="3.8" text-anchor="middle" fill="#100818" textLength="3.96" lengthAdjust="spacingAndGlyphs">pil</text>
<rect x="374.20" y="83.48" width="12.60" height="3.9" rx="1.9" fill="#ffff99" stroke="#d8d882" stroke-width="0.4"/>
<text x="380.50" y="86.68" font-size="3.8" text-anchor="middle" fill="#101000" textLength="10.84" lengthAdjust="spacingAndGlyphs">hyp. O</text>
<line x1="123.40" y1="92.42" x2="147.20" y2="92.42" stroke="#b2df8a" stroke-width="1.5"/>
<path d="M147.80,92.42 L144.20,90.62 L144.20,94.22Z" fill="#b2df8a"/>
<rect x="127.30" y="90.47" width="15.60" height="3.9" rx="1.9" fill="#b2df8a" stroke="#97bd75" stroke-width="0.4"/>
<text x="135.10" y="93.67" font-size="3.8" text-anchor="middle" fill="#0a2005" textLength="13.42" lengthAdjust="spacingAndGlyphs">blaNDM</text>
<line x1="147.80" y1="92.42" x2="158.50" y2="92.42" stroke="#a6cee3" stroke-width="1.5"/>
<rect x="148.60" y="90.47" width="9.00" height="3.9" rx="1.9" fill="#a6cee3" stroke="#8dafc0" stroke-width="0.4"/>
<text x="153.10" y="93.67" font-size="3.8" text-anchor="middle" fill="#05182a" textLength="7.74" lengthAdjust="spacingAndGlyphs">ble</text>
<line x1="158.90" y1="92.42" x2="177.20" y2="92.42" stroke="#1f78b4" stroke-width="1.5"/>
<path d="M177.80,92.42 L174.20,90.62 L174.20,94.22Z" fill="#1f78b4"/>
<rect x="163.50" y="90.47" width="8.40" height="3.9" rx="1.9" fill="#1f78b4" stroke="#1a6699" stroke-width="0.4"/>
<text x="167.70" y="93.67" font-size="3.8" text-anchor="middle" fill="#000810" textLength="7.22" lengthAdjust="spacingAndGlyphs">trpF</text>
<line x1="177.20" y1="92.42" x2="206.50" y2="92.42" stroke="#fb9a99" stroke-width="1.5"/>
<rect x="186.40" y="90.47" width="10.60" height="3.9" rx="1.9" fill="#fb9a99" stroke="#d58282" stroke-width="0.4"/>
<text x="191.70" y="93.67" font-size="3.8" text-anchor="middle" fill="#300808" textLength="9.12" lengthAdjust="spacingAndGlyphs">dsbD</text>
<rect x="205.80" y="90.47" width="11.80" height="3.9" rx="1.9" fill="#fdbf6f" stroke="#d7a25e" stroke-width="0.4"/>
<text x="211.70" y="93.67" font-size="3.8" text-anchor="middle" fill="#201000" textLength="10.15" lengthAdjust="spacingAndGlyphs">cutA</text>
<rect x="222.10" y="90.47" width="9.20" height="3.9" rx="1.9" fill="#33a02c" stroke="#2b8825" stroke-width="0.4"/>
<text x="226.70" y="93.67" font-size="3.8" text-anchor="middle" fill="#000a00" textLength="7.91" lengthAdjust="spacingAndGlyphs">groS</text>
<line x1="231.30" y1="92.42" x2="273.20" y2="92.42" stroke="#33a02c" stroke-width="1.5"/>
<path d="M273.80,92.42 L270.20,90.62 L270.20,94.22Z" fill="#33a02c"/>
<rect x="248.00" y="90.47" width="9.20" height="3.9" rx="1.9" fill="#33a02c" stroke="#2b8825" stroke-width="0.4"/>
<text x="252.60" y="93.67" font-size="3.8" text-anchor="middle" fill="#000a00" textLength="7.91" lengthAdjust="spacingAndGlyphs">groL</text>
<line x1="273.30" y1="92.42" x2="361.60" y2="92.42" stroke="#e31a1c" stroke-width="1.5"/>
<path d="M362.20,92.42 L358.60,90.62 L358.60,94.22Z" fill="#e31a1c"/>
<rect x="310.00" y="90.47" width="13.80" height="3.9" rx="1.9" fill="#e31a1c" stroke="#c01617" stroke-width="0.4"/>
<text x="316.90" y="93.67" font-size="3.8" text-anchor="middle" fill="#ffffff" textLength="11.87" lengthAdjust="spacingAndGlyphs">IS3000</text>
<line x1="123.40" y1="99.40" x2="147.20" y2="99.40" stroke="#b2df8a" stroke-width="1.5"/>
<path d="M147.80,99.40 L144.20,97.60 L144.20,101.20Z" fill="#b2df8a"/>
<rect x="127.30" y="97.45" width="15.60" height="3.9" rx="1.9" fill="#b2df8a" stroke="#97bd75" stroke-width="0.4"/>
<text x="135.10" y="100.65" font-size="3.8" text-anchor="middle" fill="#0a2005" textLength="13.42" lengthAdjust="spacingAndGlyphs">blaNDM</text>
<line x1="147.80" y1="99.40" x2="158.50" y2="99.40" stroke="#a6cee3" stroke-width="1.5"/>
<rect x="148.60" y="97.45" width="9.00" height="3.9" rx="1.9" fill="#a6cee3" stroke="#8dafc0" stroke-width="0.4"/>
<text x="153.10" y="100.65" font-size="3.8" text-anchor="middle" fill="#05182a" textLength="7.74" lengthAdjust="spacingAndGlyphs">ble</text>
<line x1="158.90" y1="99.40" x2="177.20" y2="99.40" stroke="#1f78b4" stroke-width="1.5"/>
<path d="M177.80,99.40 L174.20,97.60 L174.20,101.20Z" fill="#1f78b4"/>
<rect x="163.50" y="97.45" width="8.40" height="3.9" rx="1.9" fill="#1f78b4" stroke="#1a6699" stroke-width="0.4"/>
<text x="167.70" y="100.65" font-size="3.8" text-anchor="middle" fill="#000810" textLength="7.22" lengthAdjust="spacingAndGlyphs">trpF</text>
<line x1="177.20" y1="99.40" x2="206.50" y2="99.40" stroke="#fb9a99" stroke-width="1.5"/>
<rect x="186.40" y="97.45" width="10.60" height="3.9" rx="1.9" fill="#fb9a99" stroke="#d58282" stroke-width="0.4"/>
<text x="191.70" y="100.65" font-size="3.8" text-anchor="middle" fill="#300808" textLength="9.12" lengthAdjust="spacingAndGlyphs">dsbD</text>
<rect x="205.80" y="97.45" width="11.80" height="3.9" rx="1.9" fill="#fdbf6f" stroke="#d7a25e" stroke-width="0.4"/>
<text x="211.70" y="100.65" font-size="3.8" text-anchor="middle" fill="#201000" textLength="10.15" lengthAdjust="spacingAndGlyphs">cutA</text>
<rect x="222.10" y="97.45" width="9.20" height="3.9" rx="1.9" fill="#33a02c" stroke="#2b8825" stroke-width="0.4"/>
<text x="226.70" y="100.65" font-size="3.8" text-anchor="middle" fill="#000a00" textLength="7.91" lengthAdjust="spacingAndGlyphs">groS</text>
<line x1="231.30" y1="99.40" x2="271.70" y2="99.40" stroke="#33a02c" stroke-width="1.5"/>
<path d="M272.30,99.40 L268.70,97.60 L268.70,101.20Z" fill="#33a02c"/>
<rect x="245.00" y="97.45" width="13.70" height="3.9" rx="1.9" fill="#33a02c" stroke="#2b8825" stroke-width="0.4"/>
<text x="251.85" y="100.65" font-size="3.8" text-anchor="middle" fill="#000a00" textLength="11.78" lengthAdjust="spacingAndGlyphs">groL_2</text>
<line x1="269.90" y1="99.40" x2="307.70" y2="99.40" stroke="#e31a1c" stroke-width="1.5"/>
<path d="M269.30,99.40 L272.90,97.60 L272.90,101.20Z" fill="#e31a1c"/>
<rect x="281.40" y="97.45" width="16.00" height="3.9" rx="1.9" fill="#e31a1c" stroke="#c01617" stroke-width="0.4"/>
<text x="289.40" y="100.65" font-size="3.8" text-anchor="middle" fill="#ffffff" textLength="13.76" lengthAdjust="spacingAndGlyphs">ISApl14</text>
<line x1="311.20" y1="99.40" x2="328.30" y2="99.40" stroke="#cab2d6" stroke-width="1.5"/>
<path d="M310.60,99.40 L314.20,97.60 L314.20,101.20Z" fill="#cab2d6"/>
<rect x="315.70" y="97.45" width="8.10" height="3.9" rx="1.9" fill="#cab2d6" stroke="#ab97b5" stroke-width="0.4"/>
<text x="319.75" y="100.65" font-size="3.8" text-anchor="middle" fill="#100818" textLength="6.97" lengthAdjust="spacingAndGlyphs">hin_2</text>
<rect x="331.80" y="97.45" width="16.00" height="3.9" rx="1.9" fill="#ffff99" stroke="#d8d882" stroke-width="0.4"/>
<text x="339.80" y="100.65" font-size="3.8" text-anchor="middle" fill="#101000" textLength="13.76" lengthAdjust="spacingAndGlyphs">hyp. ORF</text>
<rect x="347.80" y="97.45" width="12.60" height="3.9" rx="1.9" fill="#33a02c" stroke="#2b8825" stroke-width="0.4"/>
<text x="354.10" y="100.65" font-size="3.8" text-anchor="middle" fill="#000a00" textLength="10.84" lengthAdjust="spacingAndGlyphs">groL_1</text>
<line x1="364.00" y1="99.40" x2="381.00" y2="99.40" stroke="#cab2d6" stroke-width="1.5"/>
<path d="M363.40,99.40 L367.00,97.60 L367.00,101.20Z" fill="#cab2d6"/>
<rect x="366.20" y="97.45" width="8.00" height="3.9" rx="1.9" fill="#cab2d6" stroke="#ab97b5" stroke-width="0.4"/>
<text x="370.20" y="100.65" font-size="3.8" text-anchor="middle" fill="#100818" textLength="6.88" lengthAdjust="spacingAndGlyphs">hin_1</text>
<line x1="123.40" y1="106.39" x2="147.20" y2="106.39" stroke="#b2df8a" stroke-width="1.5"/>
<path d="M147.80,106.39 L144.20,104.59 L144.20,108.19Z" fill="#b2df8a"/>
<rect x="127.30" y="104.44" width="15.60" height="3.9" rx="1.9" fill="#b2df8a" stroke="#97bd75" stroke-width="0.4"/>
<text x="135.10" y="107.64" font-size="3.8" text-anchor="middle" fill="#0a2005" textLength="13.42" lengthAdjust="spacingAndGlyphs">blaNDM</text>
<line x1="147.80" y1="106.39" x2="158.50" y2="106.39" stroke="#a6cee3" stroke-width="1.5"/>
<rect x="148.60" y="104.44" width="9.00" height="3.9" rx="1.9" fill="#a6cee3" stroke="#8dafc0" stroke-width="0.4"/>
<text x="153.10" y="107.64" font-size="3.8" text-anchor="middle" fill="#05182a" textLength="7.74" lengthAdjust="spacingAndGlyphs">ble</text>
<line x1="158.90" y1="106.39" x2="177.20" y2="106.39" stroke="#1f78b4" stroke-width="1.5"/>
<path d="M177.80,106.39 L174.20,104.59 L174.20,108.19Z" fill="#1f78b4"/>
<rect x="163.50" y="104.44" width="8.40" height="3.9" rx="1.9" fill="#1f78b4" stroke="#1a6699" stroke-width="0.4"/>
<text x="167.70" y="107.64" font-size="3.8" text-anchor="middle" fill="#000810" textLength="7.22" lengthAdjust="spacingAndGlyphs">trpF</text>
<line x1="177.20" y1="106.39" x2="206.50" y2="106.39" stroke="#fb9a99" stroke-width="1.5"/>
<rect x="186.40" y="104.44" width="10.60" height="3.9" rx="1.9" fill="#fb9a99" stroke="#d58282" stroke-width="0.4"/>
<text x="191.70" y="107.64" font-size="3.8" text-anchor="middle" fill="#300808" textLength="9.12" lengthAdjust="spacingAndGlyphs">dsbD</text>
<rect x="205.80" y="104.44" width="11.80" height="3.9" rx="1.9" fill="#fdbf6f" stroke="#d7a25e" stroke-width="0.4"/>
<text x="211.70" y="107.64" font-size="3.8" text-anchor="middle" fill="#201000" textLength="10.15" lengthAdjust="spacingAndGlyphs">cutA</text>
<rect x="222.10" y="104.44" width="9.20" height="3.9" rx="1.9" fill="#33a02c" stroke="#2b8825" stroke-width="0.4"/>
<text x="226.70" y="107.64" font-size="3.8" text-anchor="middle" fill="#000a00" textLength="7.91" lengthAdjust="spacingAndGlyphs">groS</text>
<line x1="123.40" y1="113.37" x2="147.20" y2="113.37" stroke="#b2df8a" stroke-width="1.5"/>
<path d="M147.80,113.37 L144.20,111.57 L144.20,115.17Z" fill="#b2df8a"/>
<rect x="127.30" y="111.42" width="15.60" height="3.9" rx="1.9" fill="#b2df8a" stroke="#97bd75" stroke-width="0.4"/>
<text x="135.10" y="114.62" font-size="3.8" text-anchor="middle" fill="#0a2005" textLength="13.42" lengthAdjust="spacingAndGlyphs">blaNDM</text>
<line x1="147.80" y1="113.37" x2="158.50" y2="113.37" stroke="#a6cee3" stroke-width="1.5"/>
<rect x="148.60" y="111.42" width="9.00" height="3.9" rx="1.9" fill="#a6cee3" stroke="#8dafc0" stroke-width="0.4"/>
<text x="153.10" y="114.62" font-size="3.8" text-anchor="middle" fill="#05182a" textLength="7.74" lengthAdjust="spacingAndGlyphs">ble</text>
<line x1="158.90" y1="113.37" x2="177.20" y2="113.37" stroke="#1f78b4" stroke-width="1.5"/>
<path d="M177.80,113.37 L174.20,111.57 L174.20,115.17Z" fill="#1f78b4"/>
<rect x="163.50" y="111.42" width="8.40" height="3.9" rx="1.9" fill="#1f78b4" stroke="#1a6699" stroke-width="0.4"/>
<text x="167.70" y="114.62" font-size="3.8" text-anchor="middle" fill="#000810" textLength="7.22" lengthAdjust="spacingAndGlyphs">trpF</text>
<line x1="177.20" y1="113.37" x2="206.50" y2="113.37" stroke="#fb9a99" stroke-width="1.5"/>
<rect x="186.40" y="111.42" width="10.60" height="3.9" rx="1.9" fill="#fb9a99" stroke="#d58282" stroke-width="0.4"/>
<text x="191.70" y="114.62" font-size="3.8" text-anchor="middle" fill="#300808" textLength="9.12" lengthAdjust="spacingAndGlyphs">dsbD</text>
<rect x="205.80" y="111.42" width="11.80" height="3.9" rx="1.9" fill="#fdbf6f" stroke="#d7a25e" stroke-width="0.4"/>
<text x="211.70" y="114.62" font-size="3.8" text-anchor="middle" fill="#201000" textLength="10.15" lengthAdjust="spacingAndGlyphs">cutA</text>
<line x1="229.00" y1="113.37" x2="274.70" y2="113.37" stroke="#e31a1c" stroke-width="1.5"/>
<path d="M228.40,113.37 L232.00,111.57 L232.00,115.17Z" fill="#e31a1c"/>
<rect x="245.80" y="111.42" width="12.90" height="3.9" rx="1.9" fill="#e31a1c" stroke="#c01617" stroke-width="0.4"/>
<text x="252.25" y="114.62" font-size="3.8" text-anchor="middle" fill="#ffffff" textLength="11.09" lengthAdjust="spacingAndGlyphs">ISCR1</text>
<line x1="123.40" y1="120.36" x2="147.20" y2="120.36" stroke="#b2df8a" stroke-width="1.5"/>
<path d="M147.80,120.36 L144.20,118.56 L144.20,122.16Z" fill="#b2df8a"/>
<rect x="127.30" y="118.41" width="15.60" height="3.9" rx="1.9" fill="#b2df8a" stroke="#97bd75" stroke-width="0.4"/>
<text x="135.10" y="121.61" font-size="3.8" text-anchor="middle" fill="#0a2005" textLength="13.42" lengthAdjust="spacingAndGlyphs">blaNDM</text>
<line x1="147.80" y1="120.36" x2="158.50" y2="120.36" stroke="#a6cee3" stroke-width="1.5"/>
<rect x="148.60" y="118.41" width="9.00" height="3.9" rx="1.9" fill="#a6cee3" stroke="#8dafc0" stroke-width="0.4"/>
<text x="153.10" y="121.61" font-size="3.8" text-anchor="middle" fill="#05182a" textLength="7.74" lengthAdjust="spacingAndGlyphs">ble</text>
<line x1="158.90" y1="120.36" x2="177.20" y2="120.36" stroke="#1f78b4" stroke-width="1.5"/>
<path d="M177.80,120.36 L174.20,118.56 L174.20,122.16Z" fill="#1f78b4"/>
<rect x="163.50" y="118.41" width="8.40" height="3.9" rx="1.9" fill="#1f78b4" stroke="#1a6699" stroke-width="0.4"/>
<text x="167.70" y="121.61" font-size="3.8" text-anchor="middle" fill="#000810" textLength="7.22" lengthAdjust="spacingAndGlyphs">trpF</text>
<line x1="177.20" y1="120.36" x2="206.50" y2="120.36" stroke="#fb9a99" stroke-width="1.5"/>
<rect x="186.40" y="118.41" width="10.60" height="3.9" rx="1.9" fill="#fb9a99" stroke="#d58282" stroke-width="0.4"/>
<text x="191.70" y="121.61" font-size="3.8" text-anchor="middle" fill="#300808" textLength="9.12" lengthAdjust="spacingAndGlyphs">dsbD</text>
<rect x="205.80" y="118.41" width="11.80" height="3.9" rx="1.9" fill="#fdbf6f" stroke="#d7a25e" stroke-width="0.4"/>
<text x="211.70" y="121.61" font-size="3.8" text-anchor="middle" fill="#201000" textLength="10.15" lengthAdjust="spacingAndGlyphs">cutA</text>
<line x1="123.40" y1="127.34" x2="147.20" y2="127.34" stroke="#b2df8a" stroke-width="1.5"/>
<path d="M147.80,127.34 L144.20,125.54 L144.20,129.14Z" fill="#b2df8a"/>
<rect x="127.30" y="125.39" width="15.60" height="3.9" rx="1.9" fill="#b2df8a" stroke="#97bd75" stroke-width="0.4"/>
<text x="135.10" y="128.59" font-size="3.8" text-anchor="middle" fill="#0a2005" textLength="13.42" lengthAdjust="spacingAndGlyphs">blaNDM</text>
<line x1="147.80" y1="127.34" x2="158.50" y2="127.34" stroke="#a6cee3" stroke-width="1.5"/>
<rect x="148.60" y="125.39" width="9.00" height="3.9" rx="1.9" fill="#a6cee3" stroke="#8dafc0" stroke-width="0.4"/>
<text x="153.10" y="128.59" font-size="3.8" text-anchor="middle" fill="#05182a" textLength="7.74" lengthAdjust="spacingAndGlyphs">ble</text>
<line x1="158.90" y1="127.34" x2="177.20" y2="127.34" stroke="#1f78b4" stroke-width="1.5"/>
<path d="M177.80,127.34 L174.20,125.54 L174.20,129.14Z" fill="#1f78b4"/>
<rect x="163.50" y="125.39" width="8.40" height="3.9" rx="1.9" fill="#1f78b4" stroke="#1a6699" stroke-width="0.4"/>
<text x="167.70" y="128.59" font-size="3.8" text-anchor="middle" fill="#000810" textLength="7.22" lengthAdjust="spacingAndGlyphs">trpF</text>
<line x1="177.20" y1="127.34" x2="206.50" y2="127.34" stroke="#fb9a99" stroke-width="1.5"/>
<rect x="186.40" y="125.39" width="10.60" height="3.9" rx="1.9" fill="#fb9a99" stroke="#d58282" stroke-width="0.4"/>
<text x="191.70" y="128.59" font-size="3.8" text-anchor="middle" fill="#300808" textLength="9.12" lengthAdjust="spacingAndGlyphs">dsbD</text>
<rect x="205.80" y="125.39" width="11.80" height="3.9" rx="1.9" fill="#fdbf6f" stroke="#d7a25e" stroke-width="0.4"/>
<text x="211.70" y="128.59" font-size="3.8" text-anchor="middle" fill="#201000" textLength="10.15" lengthAdjust="spacingAndGlyphs">cutA</text>
<line x1="220.80" y1="127.34" x2="239.20" y2="127.34" stroke="#e31a1c" stroke-width="1.5"/>
<path d="M239.80,127.34 L236.20,125.54 L236.20,129.14Z" fill="#e31a1c"/>
<rect x="224.30" y="125.39" width="10.30" height="3.9" rx="1.9" fill="#e31a1c" stroke="#c01617" stroke-width="0.4"/>
<text x="229.45" y="128.59" font-size="3.8" text-anchor="middle" fill="#ffffff" textLength="8.86" lengthAdjust="spacingAndGlyphs">IS26</text>
<line x1="123.40" y1="134.33" x2="147.20" y2="134.33" stroke="#b2df8a" stroke-width="1.5"/>
<path d="M147.80,134.33 L144.20,132.53 L144.20,136.13Z" fill="#b2df8a"/>
<rect x="127.30" y="132.38" width="15.60" height="3.9" rx="1.9" fill="#b2df8a" stroke="#97bd75" stroke-width="0.4"/>
<text x="135.10" y="135.58" font-size="3.8" text-anchor="middle" fill="#0a2005" textLength="13.42" lengthAdjust="spacingAndGlyphs">blaNDM</text>
<line x1="147.80" y1="134.33" x2="158.50" y2="134.33" stroke="#a6cee3" stroke-width="1.5"/>
<rect x="148.60" y="132.38" width="9.00" height="3.9" rx="1.9" fill="#a6cee3" stroke="#8dafc0" stroke-width="0.4"/>
<text x="153.10" y="135.58" font-size="3.8" text-anchor="middle" fill="#05182a" textLength="7.74" lengthAdjust="spacingAndGlyphs">ble</text>
<line x1="158.90" y1="134.33" x2="177.20" y2="134.33" stroke="#1f78b4" stroke-width="1.5"/>
<path d="M177.80,134.33 L174.20,132.53 L174.20,136.13Z" fill="#1f78b4"/>
<rect x="163.50" y="132.38" width="8.40" height="3.9" rx="1.9" fill="#1f78b4" stroke="#1a6699" stroke-width="0.4"/>
<text x="167.70" y="135.58" font-size="3.8" text-anchor="middle" fill="#000810" textLength="7.22" lengthAdjust="spacingAndGlyphs">trpF</text>
<line x1="177.20" y1="134.33" x2="206.50" y2="134.33" stroke="#fb9a99" stroke-width="1.5"/>
<rect x="186.40" y="132.38" width="10.60" height="3.9" rx="1.9" fill="#fb9a99" stroke="#d58282" stroke-width="0.4"/>
<text x="191.70" y="135.58" font-size="3.8" text-anchor="middle" fill="#300808" textLength="9.12" lengthAdjust="spacingAndGlyphs">dsbD</text>
<rect x="205.80" y="132.38" width="11.80" height="3.9" rx="1.9" fill="#fdbf6f" stroke="#d7a25e" stroke-width="0.4"/>
<text x="211.70" y="135.58" font-size="3.8" text-anchor="middle" fill="#201000" textLength="10.15" lengthAdjust="spacingAndGlyphs">cutA</text>
<line x1="220.80" y1="134.33" x2="239.20" y2="134.33" stroke="#e31a1c" stroke-width="1.5"/>
<path d="M239.80,134.33 L236.20,132.53 L236.20,136.13Z" fill="#e31a1c"/>
<rect x="224.30" y="132.38" width="10.30" height="3.9" rx="1.9" fill="#e31a1c" stroke="#c01617" stroke-width="0.4"/>
<text x="229.45" y="135.58" font-size="3.8" text-anchor="middle" fill="#ffffff" textLength="8.86" lengthAdjust="spacingAndGlyphs">IS26</text>
<rect x="243.80" y="125.39" width="15.70" height="3.9" rx="1.9" fill="#ffff99" stroke="#d8d882" stroke-width="0.4"/>
<text x="251.65" y="128.59" font-size="3.8" text-anchor="middle" fill="#101000" textLength="13.50" lengthAdjust="spacingAndGlyphs">hyp. ORF</text>
<rect x="259.80" y="125.39" width="15.80" height="3.9" rx="1.9" fill="#ffff99" stroke="#d8d882" stroke-width="0.4"/>
<text x="267.70" y="128.59" font-size="3.8" text-anchor="middle" fill="#101000" textLength="13.59" lengthAdjust="spacingAndGlyphs">hyp. ORF</text>
<rect x="243.80" y="132.38" width="15.70" height="3.9" rx="1.9" fill="#ffff99" stroke="#d8d882" stroke-width="0.4"/>
<text x="251.65" y="135.58" font-size="3.8" text-anchor="middle" fill="#101000" textLength="13.50" lengthAdjust="spacingAndGlyphs">hyp. ORF</text>
<rect x="259.80" y="132.38" width="15.80" height="3.9" rx="1.9" fill="#ffff99" stroke="#d8d882" stroke-width="0.4"/>
<text x="267.70" y="135.58" font-size="3.8" text-anchor="middle" fill="#101000" textLength="13.59" lengthAdjust="spacingAndGlyphs">hyp. ORF</text>
<rect x="275.80" y="132.38" width="13.60" height="3.9" rx="1.9" fill="#ffff99" stroke="#d8d882" stroke-width="0.4"/>
<text x="282.60" y="135.58" font-size="3.8" text-anchor="middle" fill="#101000" textLength="11.70" lengthAdjust="spacingAndGlyphs">hyp. ORF</text>
<line x1="313.40" y1="134.33" x2="342.00" y2="134.33" stroke="#cab2d6" stroke-width="1.5"/>
<path d="M312.80,134.33 L316.40,132.53 L316.40,136.13Z" fill="#cab2d6"/>
<rect x="323.80" y="132.38" width="10.20" height="3.9" rx="1.9" fill="#cab2d6" stroke="#ab97b5" stroke-width="0.4"/>
<text x="328.90" y="135.58" font-size="3.8" text-anchor="middle" fill="#100818" textLength="8.77" lengthAdjust="spacingAndGlyphs">tapA</text>
<line x1="123.40" y1="141.31" x2="147.20" y2="141.31" stroke="#b2df8a" stroke-width="1.5"/>
<path d="M147.80,141.31 L144.20,139.51 L144.20,143.11Z" fill="#b2df8a"/>
<rect x="127.30" y="139.36" width="15.60" height="3.9" rx="1.9" fill="#b2df8a" stroke="#97bd75" stroke-width="0.4"/>
<text x="135.10" y="142.56" font-size="3.8" text-anchor="middle" fill="#0a2005" textLength="13.42" lengthAdjust="spacingAndGlyphs">blaNDM</text>
<line x1="158.90" y1="141.31" x2="177.20" y2="141.31" stroke="#1f78b4" stroke-width="1.5"/>
<path d="M177.80,141.31 L174.20,139.51 L174.20,143.11Z" fill="#1f78b4"/>
<rect x="163.50" y="139.36" width="8.40" height="3.9" rx="1.9" fill="#1f78b4" stroke="#1a6699" stroke-width="0.4"/>
<text x="167.70" y="142.56" font-size="3.8" text-anchor="middle" fill="#000810" textLength="7.22" lengthAdjust="spacingAndGlyphs">trpF</text>
<line x1="177.20" y1="141.31" x2="207.00" y2="141.31" stroke="#fb9a99" stroke-width="1.5"/>
<rect x="186.40" y="139.36" width="10.60" height="3.9" rx="1.9" fill="#fb9a99" stroke="#d58282" stroke-width="0.4"/>
<text x="191.70" y="142.56" font-size="3.8" text-anchor="middle" fill="#300808" textLength="9.12" lengthAdjust="spacingAndGlyphs">dsbD</text>
<line x1="123.40" y1="148.30" x2="147.20" y2="148.30" stroke="#b2df8a" stroke-width="1.5"/>
<path d="M147.80,148.30 L144.20,146.50 L144.20,150.10Z" fill="#b2df8a"/>
<rect x="127.30" y="146.35" width="15.60" height="3.9" rx="1.9" fill="#b2df8a" stroke="#97bd75" stroke-width="0.4"/>
<text x="135.10" y="149.55" font-size="3.8" text-anchor="middle" fill="#0a2005" textLength="13.42" lengthAdjust="spacingAndGlyphs">blaNDM</text>
<line x1="147.80" y1="148.30" x2="158.50" y2="148.30" stroke="#a6cee3" stroke-width="1.5"/>
<rect x="148.60" y="146.35" width="9.00" height="3.9" rx="1.9" fill="#a6cee3" stroke="#8dafc0" stroke-width="0.4"/>
<text x="153.10" y="149.55" font-size="3.8" text-anchor="middle" fill="#05182a" textLength="7.74" lengthAdjust="spacingAndGlyphs">ble</text>
<line x1="158.90" y1="148.30" x2="177.20" y2="148.30" stroke="#1f78b4" stroke-width="1.5"/>
<path d="M177.80,148.30 L174.20,146.50 L174.20,150.10Z" fill="#1f78b4"/>
<rect x="163.50" y="146.35" width="8.40" height="3.9" rx="1.9" fill="#1f78b4" stroke="#1a6699" stroke-width="0.4"/>
<text x="167.70" y="149.55" font-size="3.8" text-anchor="middle" fill="#000810" textLength="7.22" lengthAdjust="spacingAndGlyphs">trpF</text>
<line x1="177.20" y1="148.30" x2="207.00" y2="148.30" stroke="#fb9a99" stroke-width="1.5"/>
<rect x="186.40" y="146.35" width="10.60" height="3.9" rx="1.9" fill="#fb9a99" stroke="#d58282" stroke-width="0.4"/>
<text x="191.70" y="149.55" font-size="3.8" text-anchor="middle" fill="#300808" textLength="9.12" lengthAdjust="spacingAndGlyphs">dsbD</text>
<line x1="215.50" y1="148.30" x2="260.50" y2="148.30" stroke="#e31a1c" stroke-width="1.5"/>
<path d="M214.90,148.30 L218.50,146.50 L218.50,150.10Z" fill="#e31a1c"/>
<rect x="231.30" y="146.35" width="12.20" height="3.9" rx="1.9" fill="#e31a1c" stroke="#c01617" stroke-width="0.4"/>
<text x="237.40" y="149.55" font-size="3.8" text-anchor="middle" fill="#ffffff" textLength="10.49" lengthAdjust="spacingAndGlyphs">ISCR1</text>
<line x1="272.20" y1="148.30" x2="290.00" y2="148.30" stroke="#cab2d6" stroke-width="1.5"/>
<path d="M271.60,148.30 L275.20,146.50 L275.20,150.10Z" fill="#cab2d6"/>
<rect x="281.40" y="146.35" width="8.00" height="3.9" rx="1.9" fill="#cab2d6" stroke="#ab97b5" stroke-width="0.4"/>
<text x="285.40" y="149.55" font-size="3.8" text-anchor="middle" fill="#100818" textLength="6.88" lengthAdjust="spacingAndGlyphs">tniP</text>
<rect x="294.00" y="146.35" width="16.00" height="3.9" rx="1.9" fill="#1f78b4" stroke="#1a6699" stroke-width="0.4"/>
<text x="302.00" y="149.55" font-size="3.8" text-anchor="middle" fill="#000810" textLength="13.76" lengthAdjust="spacingAndGlyphs">tnpA_part</text>
<line x1="123.40" y1="155.28" x2="147.20" y2="155.28" stroke="#b2df8a" stroke-width="1.5"/>
<path d="M147.80,155.28 L144.20,153.48 L144.20,157.08Z" fill="#b2df8a"/>
<rect x="127.30" y="153.33" width="15.60" height="3.9" rx="1.9" fill="#b2df8a" stroke="#97bd75" stroke-width="0.4"/>
<text x="135.10" y="156.53" font-size="3.8" text-anchor="middle" fill="#0a2005" textLength="13.42" lengthAdjust="spacingAndGlyphs">blaNDM</text>
<line x1="147.80" y1="155.28" x2="158.50" y2="155.28" stroke="#a6cee3" stroke-width="1.5"/>
<rect x="148.60" y="153.33" width="9.00" height="3.9" rx="1.9" fill="#a6cee3" stroke="#8dafc0" stroke-width="0.4"/>
<text x="153.10" y="156.53" font-size="3.8" text-anchor="middle" fill="#05182a" textLength="7.74" lengthAdjust="spacingAndGlyphs">ble</text>
<line x1="158.90" y1="155.28" x2="177.20" y2="155.28" stroke="#1f78b4" stroke-width="1.5"/>
<path d="M177.80,155.28 L174.20,153.48 L174.20,157.08Z" fill="#1f78b4"/>
<rect x="163.50" y="153.33" width="8.40" height="3.9" rx="1.9" fill="#1f78b4" stroke="#1a6699" stroke-width="0.4"/>
<text x="167.70" y="156.53" font-size="3.8" text-anchor="middle" fill="#000810" textLength="7.22" lengthAdjust="spacingAndGlyphs">trpF</text>
<line x1="177.20" y1="155.28" x2="207.00" y2="155.28" stroke="#fb9a99" stroke-width="1.5"/>
<rect x="186.40" y="153.33" width="10.60" height="3.9" rx="1.9" fill="#fb9a99" stroke="#d58282" stroke-width="0.4"/>
<text x="191.70" y="156.53" font-size="3.8" text-anchor="middle" fill="#300808" textLength="9.12" lengthAdjust="spacingAndGlyphs">dsbD</text>
<line x1="215.50" y1="155.28" x2="260.50" y2="155.28" stroke="#e31a1c" stroke-width="1.5"/>
<path d="M214.90,155.28 L218.50,153.48 L218.50,157.08Z" fill="#e31a1c"/>
<rect x="231.30" y="153.33" width="12.20" height="3.9" rx="1.9" fill="#e31a1c" stroke="#c01617" stroke-width="0.4"/>
<text x="237.40" y="156.53" font-size="3.8" text-anchor="middle" fill="#ffffff" textLength="10.49" lengthAdjust="spacingAndGlyphs">ISCR1</text>
<line x1="272.20" y1="155.28" x2="290.00" y2="155.28" stroke="#cab2d6" stroke-width="1.5"/>
<path d="M271.60,155.28 L275.20,153.48 L275.20,157.08Z" fill="#cab2d6"/>
<rect x="281.40" y="153.33" width="8.00" height="3.9" rx="1.9" fill="#cab2d6" stroke="#ab97b5" stroke-width="0.4"/>
<text x="285.40" y="156.53" font-size="3.8" text-anchor="middle" fill="#100818" textLength="6.88" lengthAdjust="spacingAndGlyphs">tniP</text>
<rect x="294.00" y="153.33" width="16.00" height="3.9" rx="1.9" fill="#1f78b4" stroke="#1a6699" stroke-width="0.4"/>
<text x="302.00" y="156.53" font-size="3.8" text-anchor="middle" fill="#000810" textLength="13.76" lengthAdjust="spacingAndGlyphs">tnpA_part</text>
<line x1="123.40" y1="162.27" x2="147.20" y2="162.27" stroke="#b2df8a" stroke-width="1.5"/>
<path d="M147.80,162.27 L144.20,160.47 L144.20,164.07Z" fill="#b2df8a"/>
<rect x="127.30" y="160.32" width="15.60" height="3.9" rx="1.9" fill="#b2df8a" stroke="#97bd75" stroke-width="0.4"/>
<text x="135.10" y="163.52" font-size="3.8" text-anchor="middle" fill="#0a2005" textLength="13.42" lengthAdjust="spacingAndGlyphs">blaNDM</text>
<line x1="147.80" y1="162.27" x2="158.50" y2="162.27" stroke="#a6cee3" stroke-width="1.5"/>
<rect x="148.60" y="160.32" width="9.00" height="3.9" rx="1.9" fill="#a6cee3" stroke="#8dafc0" stroke-width="0.4"/>
<text x="153.10" y="163.52" font-size="3.8" text-anchor="middle" fill="#05182a" textLength="7.74" lengthAdjust="spacingAndGlyphs">ble</text>
<line x1="158.90" y1="162.27" x2="177.20" y2="162.27" stroke="#1f78b4" stroke-width="1.5"/>
<path d="M177.80,162.27 L174.20,160.47 L174.20,164.07Z" fill="#1f78b4"/>
<rect x="163.50" y="160.32" width="8.40" height="3.9" rx="1.9" fill="#1f78b4" stroke="#1a6699" stroke-width="0.4"/>
<text x="167.70" y="163.52" font-size="3.8" text-anchor="middle" fill="#000810" textLength="7.22" lengthAdjust="spacingAndGlyphs">trpF</text>
<line x1="177.20" y1="162.27" x2="207.00" y2="162.27" stroke="#fb9a99" stroke-width="1.5"/>
<rect x="186.40" y="160.32" width="10.60" height="3.9" rx="1.9" fill="#fb9a99" stroke="#d58282" stroke-width="0.4"/>
<text x="191.70" y="163.52" font-size="3.8" text-anchor="middle" fill="#300808" textLength="9.12" lengthAdjust="spacingAndGlyphs">dsbD</text>
<line x1="215.50" y1="162.27" x2="260.50" y2="162.27" stroke="#e31a1c" stroke-width="1.5"/>
<path d="M214.90,162.27 L218.50,160.47 L218.50,164.07Z" fill="#e31a1c"/>
<rect x="231.30" y="160.32" width="12.20" height="3.9" rx="1.9" fill="#e31a1c" stroke="#c01617" stroke-width="0.4"/>
<text x="237.40" y="163.52" font-size="3.8" text-anchor="middle" fill="#ffffff" textLength="10.49" lengthAdjust="spacingAndGlyphs">ISCR1</text>
<line x1="272.20" y1="162.27" x2="290.00" y2="162.27" stroke="#cab2d6" stroke-width="1.5"/>
<path d="M271.60,162.27 L275.20,160.47 L275.20,164.07Z" fill="#cab2d6"/>
<rect x="281.40" y="160.32" width="8.00" height="3.9" rx="1.9" fill="#cab2d6" stroke="#ab97b5" stroke-width="0.4"/>
<text x="285.40" y="163.52" font-size="3.8" text-anchor="middle" fill="#100818" textLength="6.88" lengthAdjust="spacingAndGlyphs">tniP</text>
<rect x="294.00" y="160.32" width="16.00" height="3.9" rx="1.9" fill="#1f78b4" stroke="#1a6699" stroke-width="0.4"/>
<text x="302.00" y="163.52" font-size="3.8" text-anchor="middle" fill="#000810" textLength="13.76" lengthAdjust="spacingAndGlyphs">tnpA_part</text>
<line x1="312.30" y1="148.30" x2="336.40" y2="148.30" stroke="#cab2d6" stroke-width="1.5"/>
<path d="M311.70,148.30 L315.30,146.50 L315.30,150.10Z" fill="#cab2d6"/>
<rect x="319.20" y="146.35" width="10.30" height="3.9" rx="1.9" fill="#cab2d6" stroke="#ab97b5" stroke-width="0.4"/>
<text x="324.35" y="149.55" font-size="3.8" text-anchor="middle" fill="#100818" textLength="8.86" lengthAdjust="spacingAndGlyphs">sul1_T</text>
<line x1="312.30" y1="155.28" x2="334.00" y2="155.28" stroke="#cab2d6" stroke-width="1.5"/>
<path d="M311.70,155.28 L315.30,153.48 L315.30,157.08Z" fill="#cab2d6"/>
<rect x="319.20" y="153.33" width="10.30" height="3.9" rx="1.9" fill="#cab2d6" stroke="#ab97b5" stroke-width="0.4"/>
<text x="324.35" y="156.53" font-size="3.8" text-anchor="middle" fill="#100818" textLength="8.86" lengthAdjust="spacingAndGlyphs">sul1</text>
<rect x="346.70" y="153.33" width="14.90" height="3.9" rx="1.9" fill="#e31a1c" stroke="#c01617" stroke-width="0.4"/>
<text x="354.15" y="156.53" font-size="3.8" text-anchor="middle" fill="#ffffff" textLength="12.81" lengthAdjust="spacingAndGlyphs">ISSbo8</text>
<line x1="123.40" y1="169.25" x2="147.20" y2="169.25" stroke="#b2df8a" stroke-width="1.5"/>
<path d="M147.80,169.25 L144.20,167.45 L144.20,171.05Z" fill="#b2df8a"/>
<rect x="127.30" y="167.30" width="15.60" height="3.9" rx="1.9" fill="#b2df8a" stroke="#97bd75" stroke-width="0.4"/>
<text x="135.10" y="170.50" font-size="3.8" text-anchor="middle" fill="#0a2005" textLength="13.42" lengthAdjust="spacingAndGlyphs">blaNDM</text>
<line x1="147.80" y1="169.25" x2="158.50" y2="169.25" stroke="#a6cee3" stroke-width="1.5"/>
<rect x="148.60" y="167.30" width="9.00" height="3.9" rx="1.9" fill="#a6cee3" stroke="#8dafc0" stroke-width="0.4"/>
<text x="153.10" y="170.50" font-size="3.8" text-anchor="middle" fill="#05182a" textLength="7.74" lengthAdjust="spacingAndGlyphs">ble</text>
<line x1="158.90" y1="169.25" x2="177.20" y2="169.25" stroke="#1f78b4" stroke-width="1.5"/>
<path d="M177.80,169.25 L174.20,167.45 L174.20,171.05Z" fill="#1f78b4"/>
<rect x="163.50" y="167.30" width="8.40" height="3.9" rx="1.9" fill="#1f78b4" stroke="#1a6699" stroke-width="0.4"/>
<text x="167.70" y="170.50" font-size="3.8" text-anchor="middle" fill="#000810" textLength="7.22" lengthAdjust="spacingAndGlyphs">trpF</text>
<line x1="177.20" y1="169.25" x2="207.00" y2="169.25" stroke="#fb9a99" stroke-width="1.5"/>
<rect x="185.00" y="167.30" width="10.00" height="3.9" rx="1.9" fill="#fb9a99" stroke="#d58282" stroke-width="0.4"/>
<text x="190.00" y="170.50" font-size="3.8" text-anchor="middle" fill="#300808" textLength="8.60" lengthAdjust="spacingAndGlyphs">dsbD</text>
<line x1="210.00" y1="169.25" x2="238.00" y2="169.25" stroke="#cab2d6" stroke-width="1.5"/>
<path d="M209.40,169.25 L213.00,167.45 L213.00,171.05Z" fill="#cab2d6"/>
<rect x="223.70" y="167.30" width="7.60" height="3.9" rx="1.9" fill="#cab2d6" stroke="#ab97b5" stroke-width="0.4"/>
<text x="227.50" y="170.50" font-size="3.8" text-anchor="middle" fill="#100818" textLength="6.54" lengthAdjust="spacingAndGlyphs">bhsE</text>
<rect x="240.50" y="167.30" width="16.80" height="3.9" rx="1.9" fill="#ffff99" stroke="#d8d882" stroke-width="0.4"/>
<text x="248.90" y="170.50" font-size="3.8" text-anchor="middle" fill="#101000" textLength="14.45" lengthAdjust="spacingAndGlyphs">hyp. ORF</text>
<line x1="272.20" y1="169.25" x2="286.00" y2="169.25" stroke="#cab2d6" stroke-width="1.5"/>
<path d="M271.60,169.25 L275.20,167.45 L275.20,171.05Z" fill="#cab2d6"/>
<rect x="275.60" y="167.30" width="9.20" height="3.9" rx="1.9" fill="#cab2d6" stroke="#ab97b5" stroke-width="0.4"/>
<text x="280.20" y="170.50" font-size="3.8" text-anchor="middle" fill="#100818" textLength="7.91" lengthAdjust="spacingAndGlyphs">bhsB</text>
<line x1="287.00" y1="169.25" x2="306.60" y2="169.25" stroke="#cab2d6" stroke-width="1.5"/>
<path d="M286.40,169.25 L290.00,167.45 L290.00,171.05Z" fill="#cab2d6"/>
<rect x="292.80" y="167.30" width="13.80" height="3.9" rx="1.9" fill="#cab2d6" stroke="#ab97b5" stroke-width="0.4"/>
<text x="299.70" y="170.50" font-size="3.8" text-anchor="middle" fill="#100818" textLength="11.87" lengthAdjust="spacingAndGlyphs">yicKD</text>
<line x1="123.40" y1="176.24" x2="147.20" y2="176.24" stroke="#b2df8a" stroke-width="1.5"/>
<path d="M147.80,176.24 L144.20,174.44 L144.20,178.04Z" fill="#b2df8a"/>
<rect x="127.30" y="174.29" width="15.60" height="3.9" rx="1.9" fill="#b2df8a" stroke="#97bd75" stroke-width="0.4"/>
<text x="135.10" y="177.49" font-size="3.8" text-anchor="middle" fill="#0a2005" textLength="13.42" lengthAdjust="spacingAndGlyphs">blaNDM</text>
<line x1="147.80" y1="176.24" x2="158.50" y2="176.24" stroke="#a6cee3" stroke-width="1.5"/>
<rect x="148.60" y="174.29" width="9.00" height="3.9" rx="1.9" fill="#a6cee3" stroke="#8dafc0" stroke-width="0.4"/>
<text x="153.10" y="177.49" font-size="3.8" text-anchor="middle" fill="#05182a" textLength="7.74" lengthAdjust="spacingAndGlyphs">ble</text>
<line x1="158.90" y1="176.24" x2="177.20" y2="176.24" stroke="#1f78b4" stroke-width="1.5"/>
<path d="M177.80,176.24 L174.20,174.44 L174.20,178.04Z" fill="#1f78b4"/>
<rect x="163.50" y="174.29" width="8.40" height="3.9" rx="1.9" fill="#1f78b4" stroke="#1a6699" stroke-width="0.4"/>
<text x="167.70" y="177.49" font-size="3.8" text-anchor="middle" fill="#000810" textLength="7.22" lengthAdjust="spacingAndGlyphs">trpF</text>
<line x1="177.20" y1="176.24" x2="199.50" y2="176.24" stroke="#fb9a99" stroke-width="1.5"/>
<rect x="184.00" y="174.29" width="9.20" height="3.9" rx="1.9" fill="#fb9a99" stroke="#d58282" stroke-width="0.4"/>
<text x="188.60" y="177.49" font-size="3.8" text-anchor="middle" fill="#300808" textLength="7.91" lengthAdjust="spacingAndGlyphs">dsbD</text>
<line x1="200.80" y1="176.24" x2="229.80" y2="176.24" stroke="#e31a1c" stroke-width="1.5"/>
<path d="M200.20,176.24 L203.80,174.44 L203.80,178.04Z" fill="#e31a1c"/>
<rect x="208.50" y="174.29" width="14.00" height="3.9" rx="1.9" fill="#e31a1c" stroke="#c01617" stroke-width="0.4"/>
<text x="215.50" y="177.49" font-size="3.8" text-anchor="middle" fill="#ffffff" textLength="12.04" lengthAdjust="spacingAndGlyphs">ISAba14</text>
<line x1="123.40" y1="183.22" x2="147.20" y2="183.22" stroke="#b2df8a" stroke-width="1.5"/>
<path d="M147.80,183.22 L144.20,181.42 L144.20,185.02Z" fill="#b2df8a"/>
<rect x="127.30" y="181.27" width="15.60" height="3.9" rx="1.9" fill="#b2df8a" stroke="#97bd75" stroke-width="0.4"/>
<text x="135.10" y="184.47" font-size="3.8" text-anchor="middle" fill="#0a2005" textLength="13.42" lengthAdjust="spacingAndGlyphs">blaNDM</text>
<line x1="147.80" y1="183.22" x2="158.50" y2="183.22" stroke="#a6cee3" stroke-width="1.5"/>
<rect x="148.60" y="181.27" width="9.00" height="3.9" rx="1.9" fill="#a6cee3" stroke="#8dafc0" stroke-width="0.4"/>
<text x="153.10" y="184.47" font-size="3.8" text-anchor="middle" fill="#05182a" textLength="7.74" lengthAdjust="spacingAndGlyphs">ble</text>
<line x1="158.90" y1="183.22" x2="177.20" y2="183.22" stroke="#1f78b4" stroke-width="1.5"/>
<path d="M177.80,183.22 L174.20,181.42 L174.20,185.02Z" fill="#1f78b4"/>
<rect x="163.50" y="181.27" width="8.40" height="3.9" rx="1.9" fill="#1f78b4" stroke="#1a6699" stroke-width="0.4"/>
<text x="167.70" y="184.47" font-size="3.8" text-anchor="middle" fill="#000810" textLength="7.22" lengthAdjust="spacingAndGlyphs">trpF</text>
<line x1="177.20" y1="183.22" x2="186.00" y2="183.22" stroke="#fb9a99" stroke-width="1.5"/>
<rect x="175.00" y="181.27" width="9.00" height="3.9" rx="1.9" fill="#fb9a99" stroke="#d58282" stroke-width="0.4"/>
<text x="179.50" y="184.47" font-size="3.8" text-anchor="middle" fill="#300808" textLength="7.74" lengthAdjust="spacingAndGlyphs">dsbD</text>
<line x1="191.70" y1="183.22" x2="237.40" y2="183.22" stroke="#e31a1c" stroke-width="1.5"/>
<path d="M191.10,183.22 L194.70,181.42 L194.70,185.02Z" fill="#e31a1c"/>
<rect x="208.50" y="181.27" width="13.00" height="3.9" rx="1.9" fill="#e31a1c" stroke="#c01617" stroke-width="0.4"/>
<text x="215.00" y="184.47" font-size="3.8" text-anchor="middle" fill="#ffffff" textLength="11.18" lengthAdjust="spacingAndGlyphs">ISCR1</text>
<rect x="248.00" y="181.27" width="7.80" height="3.9" rx="1.9" fill="#cab2d6" stroke="#ab97b5" stroke-width="0.4"/>
<text x="251.90" y="184.47" font-size="3.8" text-anchor="middle" fill="#100818" textLength="6.71" lengthAdjust="spacingAndGlyphs">tniP</text>
<line x1="123.40" y1="190.21" x2="147.20" y2="190.21" stroke="#b2df8a" stroke-width="1.5"/>
<path d="M147.80,190.21 L144.20,188.41 L144.20,192.01Z" fill="#b2df8a"/>
<rect x="127.30" y="188.26" width="15.60" height="3.9" rx="1.9" fill="#b2df8a" stroke="#97bd75" stroke-width="0.4"/>
<text x="135.10" y="191.46" font-size="3.8" text-anchor="middle" fill="#0a2005" textLength="13.42" lengthAdjust="spacingAndGlyphs">blaNDM</text>
<rect x="191.70" y="188.26" width="21.30" height="3.9" rx="1.9" fill="#cab2d6" stroke="#ab97b5" stroke-width="0.4"/>
<text x="202.35" y="191.46" font-size="3.8" text-anchor="middle" fill="#100818" textLength="18.32" lengthAdjust="spacingAndGlyphs">mrfT mrfP</text>
<rect x="272.50" y="188.26" width="16.80" height="3.9" rx="1.9" fill="#ffff99" stroke="#d8d882" stroke-width="0.4"/>
<text x="280.90" y="191.46" font-size="3.8" text-anchor="middle" fill="#101000" textLength="14.45" lengthAdjust="spacingAndGlyphs">hyp. ORF</text>
<rect x="311.00" y="188.26" width="10.50" height="3.9" rx="1.9" fill="#cab2d6" stroke="#ab97b5" stroke-width="0.4"/>
<text x="316.25" y="191.46" font-size="3.8" text-anchor="middle" fill="#100818" textLength="9.03" lengthAdjust="spacingAndGlyphs">bhsB</text>
<line x1="123.40" y1="197.19" x2="147.20" y2="197.19" stroke="#b2df8a" stroke-width="1.5"/>
<path d="M147.80,197.19 L144.20,195.39 L144.20,198.99Z" fill="#b2df8a"/>
<rect x="127.30" y="195.24" width="15.60" height="3.9" rx="1.9" fill="#b2df8a" stroke="#97bd75" stroke-width="0.4"/>
<text x="135.10" y="198.44" font-size="3.8" text-anchor="middle" fill="#0a2005" textLength="13.42" lengthAdjust="spacingAndGlyphs">blaNDM</text>
<line x1="168.10" y1="197.19" x2="200.00" y2="197.19" stroke="#cab2d6" stroke-width="1.5"/>
<path d="M167.50,197.19 L171.10,195.39 L171.10,198.99Z" fill="#cab2d6"/>
<rect x="179.60" y="195.24" width="6.90" height="3.9" rx="1.9" fill="#cab2d6" stroke="#ab97b5" stroke-width="0.4"/>
<text x="183.05" y="198.44" font-size="3.8" text-anchor="middle" fill="#100818" textLength="5.93" lengthAdjust="spacingAndGlyphs">dsp</text>
<line x1="202.00" y1="197.19" x2="226.00" y2="197.19" stroke="#cab2d6" stroke-width="1.5"/>
<rect x="208.20" y="195.24" width="11.50" height="3.9" rx="1.9" fill="#cab2d6" stroke="#ab97b5" stroke-width="0.4"/>
<text x="213.95" y="198.44" font-size="3.8" text-anchor="middle" fill="#100818" textLength="9.89" lengthAdjust="spacingAndGlyphs">amyR</text>
<line x1="226.00" y1="197.19" x2="240.00" y2="197.19" stroke="#cab2d6" stroke-width="1.5"/>
<rect x="228.90" y="195.24" width="10.30" height="3.9" rx="1.9" fill="#cab2d6" stroke="#ab97b5" stroke-width="0.4"/>
<text x="234.05" y="198.44" font-size="3.8" text-anchor="middle" fill="#100818" textLength="8.86" lengthAdjust="spacingAndGlyphs">pspF</text>
<line x1="244.00" y1="197.19" x2="268.50" y2="197.19" stroke="#cab2d6" stroke-width="1.5"/>
<path d="M269.10,197.19 L265.50,195.39 L265.50,198.99Z" fill="#cab2d6"/>
<rect x="254.20" y="195.24" width="8.00" height="3.9" rx="1.9" fill="#cab2d6" stroke="#ab97b5" stroke-width="0.4"/>
<text x="258.20" y="198.44" font-size="3.8" text-anchor="middle" fill="#100818" textLength="6.88" lengthAdjust="spacingAndGlyphs">tniP</text>
<line x1="123.40" y1="204.18" x2="147.20" y2="204.18" stroke="#b2df8a" stroke-width="1.5"/>
<path d="M147.80,204.18 L144.20,202.38 L144.20,205.98Z" fill="#b2df8a"/>
<rect x="127.30" y="202.23" width="15.60" height="3.9" rx="1.9" fill="#b2df8a" stroke="#97bd75" stroke-width="0.4"/>
<text x="135.10" y="205.43" font-size="3.8" text-anchor="middle" fill="#0a2005" textLength="13.42" lengthAdjust="spacingAndGlyphs">blaNDM</text>
<line x1="147.80" y1="204.18" x2="158.50" y2="204.18" stroke="#a6cee3" stroke-width="1.5"/>
<rect x="148.60" y="202.23" width="9.00" height="3.9" rx="1.9" fill="#a6cee3" stroke="#8dafc0" stroke-width="0.4"/>
<text x="153.10" y="205.43" font-size="3.8" text-anchor="middle" fill="#05182a" textLength="7.74" lengthAdjust="spacingAndGlyphs">ble</text>
<line x1="168.10" y1="204.18" x2="200.00" y2="204.18" stroke="#cab2d6" stroke-width="1.5"/>
<path d="M167.50,204.18 L171.10,202.38 L171.10,205.98Z" fill="#cab2d6"/>
<rect x="179.60" y="202.23" width="6.90" height="3.9" rx="1.9" fill="#cab2d6" stroke="#ab97b5" stroke-width="0.4"/>
<text x="183.05" y="205.43" font-size="3.8" text-anchor="middle" fill="#100818" textLength="5.93" lengthAdjust="spacingAndGlyphs">dsp</text>
<line x1="202.00" y1="204.18" x2="226.00" y2="204.18" stroke="#cab2d6" stroke-width="1.5"/>
<rect x="208.20" y="202.23" width="11.50" height="3.9" rx="1.9" fill="#cab2d6" stroke="#ab97b5" stroke-width="0.4"/>
<text x="213.95" y="205.43" font-size="3.8" text-anchor="middle" fill="#100818" textLength="9.89" lengthAdjust="spacingAndGlyphs">amyR</text>
<line x1="226.00" y1="204.18" x2="240.00" y2="204.18" stroke="#cab2d6" stroke-width="1.5"/>
<rect x="228.90" y="202.23" width="10.30" height="3.9" rx="1.9" fill="#cab2d6" stroke="#ab97b5" stroke-width="0.4"/>
<text x="234.05" y="205.43" font-size="3.8" text-anchor="middle" fill="#100818" textLength="8.86" lengthAdjust="spacingAndGlyphs">pspF</text>
<line x1="244.00" y1="204.18" x2="268.50" y2="204.18" stroke="#cab2d6" stroke-width="1.5"/>
<path d="M269.10,204.18 L265.50,202.38 L265.50,205.98Z" fill="#cab2d6"/>
<rect x="254.20" y="202.23" width="8.00" height="3.9" rx="1.9" fill="#cab2d6" stroke="#ab97b5" stroke-width="0.4"/>
<text x="258.20" y="205.43" font-size="3.8" text-anchor="middle" fill="#100818" textLength="6.88" lengthAdjust="spacingAndGlyphs">tniP</text>
<line x1="123.40" y1="211.16" x2="147.20" y2="211.16" stroke="#b2df8a" stroke-width="1.5"/>
<path d="M147.80,211.16 L144.20,209.36 L144.20,212.96Z" fill="#b2df8a"/>
<rect x="127.30" y="209.21" width="15.60" height="3.9" rx="1.9" fill="#b2df8a" stroke="#97bd75" stroke-width="0.4"/>
<text x="135.10" y="212.41" font-size="3.8" text-anchor="middle" fill="#0a2005" textLength="13.42" lengthAdjust="spacingAndGlyphs">blaNDM</text>
<line x1="147.80" y1="211.16" x2="158.50" y2="211.16" stroke="#a6cee3" stroke-width="1.5"/>
<rect x="148.60" y="209.21" width="9.00" height="3.9" rx="1.9" fill="#a6cee3" stroke="#8dafc0" stroke-width="0.4"/>
<text x="153.10" y="212.41" font-size="3.8" text-anchor="middle" fill="#05182a" textLength="7.74" lengthAdjust="spacingAndGlyphs">ble</text>
<line x1="168.10" y1="211.16" x2="200.00" y2="211.16" stroke="#cab2d6" stroke-width="1.5"/>
<path d="M167.50,211.16 L171.10,209.36 L171.10,212.96Z" fill="#cab2d6"/>
<rect x="179.60" y="209.21" width="6.90" height="3.9" rx="1.9" fill="#cab2d6" stroke="#ab97b5" stroke-width="0.4"/>
<text x="183.05" y="212.41" font-size="3.8" text-anchor="middle" fill="#100818" textLength="5.93" lengthAdjust="spacingAndGlyphs">dsp</text>
<line x1="202.00" y1="211.16" x2="226.00" y2="211.16" stroke="#cab2d6" stroke-width="1.5"/>
<rect x="208.20" y="209.21" width="11.50" height="3.9" rx="1.9" fill="#cab2d6" stroke="#ab97b5" stroke-width="0.4"/>
<text x="213.95" y="212.41" font-size="3.8" text-anchor="middle" fill="#100818" textLength="9.89" lengthAdjust="spacingAndGlyphs">amyR</text>
<line x1="226.00" y1="211.16" x2="240.00" y2="211.16" stroke="#cab2d6" stroke-width="1.5"/>
<rect x="228.90" y="209.21" width="10.30" height="3.9" rx="1.9" fill="#cab2d6" stroke="#ab97b5" stroke-width="0.4"/>
<text x="234.05" y="212.41" font-size="3.8" text-anchor="middle" fill="#100818" textLength="8.86" lengthAdjust="spacingAndGlyphs">pspF</text>
<line x1="280.20" y1="197.19" x2="326.00" y2="197.19" stroke="#e31a1c" stroke-width="1.5"/>
<path d="M326.60,197.19 L323.00,195.39 L323.00,198.99Z" fill="#e31a1c"/>
<rect x="296.30" y="195.24" width="12.60" height="3.9" rx="1.9" fill="#e31a1c" stroke="#c01617" stroke-width="0.4"/>
<text x="302.60" y="198.44" font-size="3.8" text-anchor="middle" fill="#ffffff" textLength="10.84" lengthAdjust="spacingAndGlyphs">ISCR1</text>
<line x1="280.20" y1="204.18" x2="326.00" y2="204.18" stroke="#e31a1c" stroke-width="1.5"/>
<path d="M326.60,204.18 L323.00,202.38 L323.00,205.98Z" fill="#e31a1c"/>
<rect x="296.30" y="202.23" width="12.60" height="3.9" rx="1.9" fill="#e31a1c" stroke="#c01617" stroke-width="0.4"/>
<text x="302.60" y="205.43" font-size="3.8" text-anchor="middle" fill="#ffffff" textLength="10.84" lengthAdjust="spacingAndGlyphs">ISCR1</text>
<line x1="333.00" y1="197.19" x2="354.70" y2="197.19" stroke="#e31a1c" stroke-width="1.5"/>
<path d="M355.30,197.19 L351.70,195.39 L351.70,198.99Z" fill="#e31a1c"/>
<rect x="336.40" y="195.24" width="12.60" height="3.9" rx="1.9" fill="#e31a1c" stroke="#c01617" stroke-width="0.4"/>
<text x="342.70" y="198.44" font-size="3.8" text-anchor="middle" fill="#ffffff" textLength="10.84" lengthAdjust="spacingAndGlyphs">ISSbo8</text>
<rect x="328.30" y="202.23" width="16.10" height="3.9" rx="1.9" fill="#ffff99" stroke="#d8d882" stroke-width="0.4"/>
<text x="336.35" y="205.43" font-size="3.8" text-anchor="middle" fill="#101000" textLength="13.85" lengthAdjust="spacingAndGlyphs">hyp. ORF</text>
<rect x="344.40" y="202.23" width="6.90" height="3.9" rx="1.9" fill="#e31a1c" stroke="#c01617" stroke-width="0.4"/>
<text x="347.85" y="205.43" font-size="3.8" text-anchor="middle" fill="#ffffff" textLength="5.93" lengthAdjust="spacingAndGlyphs">IS</text>
<line x1="242.00" y1="211.16" x2="279.00" y2="211.16" stroke="#e31a1c" stroke-width="1.5"/>
<path d="M241.40,211.16 L245.00,209.36 L245.00,212.96Z" fill="#e31a1c"/>
<rect x="252.70" y="209.21" width="16.10" height="3.9" rx="1.9" fill="#e31a1c" stroke="#c01617" stroke-width="0.4"/>
<text x="260.75" y="212.41" font-size="3.8" text-anchor="middle" fill="#ffffff" textLength="13.85" lengthAdjust="spacingAndGlyphs">ISApl1</text>
<line x1="279.00" y1="211.16" x2="374.20" y2="211.16" stroke="#ffff99" stroke-width="1.5"/>
<rect x="319.20" y="209.21" width="16.00" height="3.9" rx="1.9" fill="#ffff99" stroke="#d8d882" stroke-width="0.4"/>
<text x="327.20" y="212.41" font-size="3.8" text-anchor="middle" fill="#101000" textLength="13.76" lengthAdjust="spacingAndGlyphs">hyp. ORF</text>
<line x1="123.40" y1="218.15" x2="147.20" y2="218.15" stroke="#b2df8a" stroke-width="1.5"/>
<path d="M147.80,218.15 L144.20,216.34 L144.20,219.95Z" fill="#b2df8a"/>
<rect x="127.30" y="216.20" width="15.60" height="3.9" rx="1.9" fill="#b2df8a" stroke="#97bd75" stroke-width="0.4"/>
<text x="135.10" y="219.40" font-size="3.8" text-anchor="middle" fill="#0a2005" textLength="13.42" lengthAdjust="spacingAndGlyphs">blaNDM</text>
<line x1="147.80" y1="218.15" x2="158.50" y2="218.15" stroke="#a6cee3" stroke-width="1.5"/>
<rect x="148.60" y="216.20" width="9.00" height="3.9" rx="1.9" fill="#a6cee3" stroke="#8dafc0" stroke-width="0.4"/>
<text x="153.10" y="219.40" font-size="3.8" text-anchor="middle" fill="#05182a" textLength="7.74" lengthAdjust="spacingAndGlyphs">ble</text>
<line x1="158.90" y1="218.15" x2="171.60" y2="218.15" stroke="#1f78b4" stroke-width="1.5"/>
<path d="M172.20,218.15 L168.60,216.34 L168.60,219.95Z" fill="#1f78b4"/>
<rect x="159.70" y="216.20" width="9.10" height="3.9" rx="1.9" fill="#1f78b4" stroke="#1a6699" stroke-width="0.4"/>
<text x="164.25" y="219.40" font-size="3.8" text-anchor="middle" fill="#000810" textLength="7.83" lengthAdjust="spacingAndGlyphs">trpF</text>
<line x1="123.40" y1="225.13" x2="147.20" y2="225.13" stroke="#b2df8a" stroke-width="1.5"/>
<path d="M147.80,225.13 L144.20,223.33 L144.20,226.93Z" fill="#b2df8a"/>
<rect x="127.30" y="223.18" width="15.60" height="3.9" rx="1.9" fill="#b2df8a" stroke="#97bd75" stroke-width="0.4"/>
<text x="135.10" y="226.38" font-size="3.8" text-anchor="middle" fill="#0a2005" textLength="13.42" lengthAdjust="spacingAndGlyphs">blaNDM</text>
<line x1="158.90" y1="225.13" x2="170.50" y2="225.13" stroke="#1f78b4" stroke-width="1.5"/>
<path d="M171.10,225.13 L167.50,223.33 L167.50,226.93Z" fill="#1f78b4"/>
<rect x="161.20" y="223.18" width="7.60" height="3.9" rx="1.9" fill="#1f78b4" stroke="#1a6699" stroke-width="0.4"/>
<text x="165.00" y="226.38" font-size="3.8" text-anchor="middle" fill="#000810" textLength="6.54" lengthAdjust="spacingAndGlyphs">trpF</text>
<line x1="123.40" y1="232.12" x2="147.20" y2="232.12" stroke="#b2df8a" stroke-width="1.5"/>
<path d="M147.80,232.12 L144.20,230.31 L144.20,233.92Z" fill="#b2df8a"/>
<rect x="127.30" y="230.17" width="15.60" height="3.9" rx="1.9" fill="#b2df8a" stroke="#97bd75" stroke-width="0.4"/>
<text x="135.10" y="233.37" font-size="3.8" text-anchor="middle" fill="#0a2005" textLength="13.42" lengthAdjust="spacingAndGlyphs">blaNDM</text>
<line x1="147.80" y1="232.12" x2="158.50" y2="232.12" stroke="#a6cee3" stroke-width="1.5"/>
<rect x="148.60" y="230.17" width="9.00" height="3.9" rx="1.9" fill="#a6cee3" stroke="#8dafc0" stroke-width="0.4"/>
<text x="153.10" y="233.37" font-size="3.8" text-anchor="middle" fill="#05182a" textLength="7.74" lengthAdjust="spacingAndGlyphs">ble</text>
<line x1="158.90" y1="232.12" x2="167.00" y2="232.12" stroke="#1f78b4" stroke-width="1.5"/>
<path d="M167.60,232.12 L164.00,230.31 L164.00,233.92Z" fill="#1f78b4"/>
<rect x="158.00" y="230.17" width="7.80" height="3.9" rx="1.9" fill="#1f78b4" stroke="#1a6699" stroke-width="0.4"/>
<text x="161.90" y="233.37" font-size="3.8" text-anchor="middle" fill="#000810" textLength="6.71" lengthAdjust="spacingAndGlyphs">trpF</text>
<line x1="173.40" y1="232.12" x2="217.60" y2="232.12" stroke="#e31a1c" stroke-width="1.5"/>
<path d="M172.80,232.12 L176.40,230.31 L176.40,233.92Z" fill="#e31a1c"/>
<rect x="188.60" y="230.17" width="13.80" height="3.9" rx="1.9" fill="#e31a1c" stroke="#c01617" stroke-width="0.4"/>
<text x="195.50" y="233.37" font-size="3.8" text-anchor="middle" fill="#ffffff" textLength="11.87" lengthAdjust="spacingAndGlyphs">ISCR1</text>
<line x1="123.40" y1="239.10" x2="147.20" y2="239.10" stroke="#b2df8a" stroke-width="1.5"/>
<path d="M147.80,239.10 L144.20,237.30 L144.20,240.90Z" fill="#b2df8a"/>
<rect x="127.30" y="237.15" width="15.60" height="3.9" rx="1.9" fill="#b2df8a" stroke="#97bd75" stroke-width="0.4"/>
<text x="135.10" y="240.35" font-size="3.8" text-anchor="middle" fill="#0a2005" textLength="13.42" lengthAdjust="spacingAndGlyphs">blaNDM</text>
<line x1="172.00" y1="239.10" x2="188.00" y2="239.10" stroke="#cab2d6" stroke-width="1.5"/>
<rect x="176.40" y="237.15" width="7.60" height="3.9" rx="1.9" fill="#cab2d6" stroke="#ab97b5" stroke-width="0.4"/>
<text x="180.20" y="240.35" font-size="3.8" text-anchor="middle" fill="#100818" textLength="6.54" lengthAdjust="spacingAndGlyphs">hin</text>
<line x1="123.40" y1="246.09" x2="147.20" y2="246.09" stroke="#b2df8a" stroke-width="1.5"/>
<path d="M147.80,246.09 L144.20,244.28 L144.20,247.89Z" fill="#b2df8a"/>
<rect x="127.30" y="244.14" width="15.60" height="3.9" rx="1.9" fill="#b2df8a" stroke="#97bd75" stroke-width="0.4"/>
<text x="135.10" y="247.34" font-size="3.8" text-anchor="middle" fill="#0a2005" textLength="13.42" lengthAdjust="spacingAndGlyphs">blaNDM</text>
<line x1="168.80" y1="246.09" x2="188.00" y2="246.09" stroke="#cab2d6" stroke-width="1.5"/>
<path d="M168.20,246.09 L171.80,244.28 L171.80,247.89Z" fill="#cab2d6"/>
<rect x="176.40" y="244.14" width="7.60" height="3.9" rx="1.9" fill="#cab2d6" stroke="#ab97b5" stroke-width="0.4"/>
<text x="180.20" y="247.34" font-size="3.8" text-anchor="middle" fill="#100818" textLength="6.54" lengthAdjust="spacingAndGlyphs">hin</text>
<line x1="205.00" y1="246.09" x2="256.00" y2="246.09" stroke="#ffff99" stroke-width="1.5"/>
<rect x="188.60" y="244.14" width="16.80" height="3.9" rx="1.9" fill="#ffff99" stroke="#d8d882" stroke-width="0.4"/>
<text x="197.00" y="247.34" font-size="3.8" text-anchor="middle" fill="#101000" textLength="14.45" lengthAdjust="spacingAndGlyphs">hyp. ORF</text>
<rect x="222.20" y="244.14" width="16.80" height="3.9" rx="1.9" fill="#ffff99" stroke="#d8d882" stroke-width="0.4"/>
<text x="230.60" y="247.34" font-size="3.8" text-anchor="middle" fill="#101000" textLength="14.45" lengthAdjust="spacingAndGlyphs">hyp. ORF</text>
<rect x="254.20" y="244.14" width="16.80" height="3.9" rx="1.9" fill="#ffff99" stroke="#d8d882" stroke-width="0.4"/>
<text x="262.60" y="247.34" font-size="3.8" text-anchor="middle" fill="#101000" textLength="14.45" lengthAdjust="spacingAndGlyphs">hyp. ORF</text>
<rect x="274.00" y="244.14" width="16.80" height="3.9" rx="1.9" fill="#ffff99" stroke="#d8d882" stroke-width="0.4"/>
<text x="282.40" y="247.34" font-size="3.8" text-anchor="middle" fill="#101000" textLength="14.45" lengthAdjust="spacingAndGlyphs">hyp. ORF</text>
<rect x="292.00" y="244.14" width="15.70" height="3.9" rx="1.9" fill="#ffff99" stroke="#d8d882" stroke-width="0.4"/>
<text x="299.85" y="247.34" font-size="3.8" text-anchor="middle" fill="#101000" textLength="13.50" lengthAdjust="spacingAndGlyphs">hyp. ORF</text>
<line x1="123.40" y1="253.07" x2="147.20" y2="253.07" stroke="#b2df8a" stroke-width="1.5"/>
<path d="M147.80,253.07 L144.20,251.27 L144.20,254.87Z" fill="#b2df8a"/>
<rect x="127.30" y="251.12" width="15.60" height="3.9" rx="1.9" fill="#b2df8a" stroke="#97bd75" stroke-width="0.4"/>
<text x="135.10" y="254.32" font-size="3.8" text-anchor="middle" fill="#0a2005" textLength="13.42" lengthAdjust="spacingAndGlyphs">blaNDM</text>
<line x1="123.40" y1="260.06" x2="147.20" y2="260.06" stroke="#b2df8a" stroke-width="1.5"/>
<path d="M147.80,260.06 L144.20,258.25 L144.20,261.86Z" fill="#b2df8a"/>
<rect x="127.30" y="258.11" width="15.60" height="3.9" rx="1.9" fill="#b2df8a" stroke="#97bd75" stroke-width="0.4"/>
<text x="135.10" y="261.31" font-size="3.8" text-anchor="middle" fill="#0a2005" textLength="13.42" lengthAdjust="spacingAndGlyphs">blaNDM</text>
<line x1="123.40" y1="267.04" x2="147.20" y2="267.04" stroke="#b2df8a" stroke-width="1.5"/>
<path d="M147.80,267.04 L144.20,265.24 L144.20,268.84Z" fill="#b2df8a"/>
<rect x="127.30" y="265.09" width="15.60" height="3.9" rx="1.9" fill="#b2df8a" stroke="#97bd75" stroke-width="0.4"/>
<text x="135.10" y="268.29" font-size="3.8" text-anchor="middle" fill="#0a2005" textLength="13.42" lengthAdjust="spacingAndGlyphs">blaNDM</text>
<line x1="122.0" y1="23.2" x2="386.8" y2="23.2" stroke="#000" stroke-width="1.1"/>
<line x1="123.00" y1="23.2" x2="123.00" y2="22" stroke="#000" stroke-width="0.5"/>
<text x="0" y="1.65" font-size="4.8" class="e" text-anchor="middle" transform="translate(123.50,19.4) rotate(-45)" fill="#111">0</text>
<line x1="137.63" y1="23.2" x2="137.63" y2="22" stroke="#000" stroke-width="0.5"/>
<text x="0" y="1.65" font-size="4.8" class="e" text-anchor="middle" transform="translate(138.13,19.4) rotate(-45)" fill="#111">500</text>
<line x1="152.26" y1="23.2" x2="152.26" y2="22" stroke="#000" stroke-width="0.5"/>
<text x="0" y="1.65" font-size="4.8" class="e" text-anchor="middle" transform="translate(152.76,19.4) rotate(-45)" fill="#111">1000</text>
<line x1="166.88" y1="23.2" x2="166.88" y2="22" stroke="#000" stroke-width="0.5"/>
<text x="0" y="1.65" font-size="4.8" class="e" text-anchor="middle" transform="translate(167.38,19.4) rotate(-45)" fill="#111">1500</text>
<line x1="181.51" y1="23.2" x2="181.51" y2="22" stroke="#000" stroke-width="0.5"/>
<text x="0" y="1.65" font-size="4.8" class="e" text-anchor="middle" transform="translate(182.01,19.4) rotate(-45)" fill="#111">2000</text>
<line x1="196.14" y1="23.2" x2="196.14" y2="22" stroke="#000" stroke-width="0.5"/>
<text x="0" y="1.65" font-size="4.8" class="e" text-anchor="middle" transform="translate(196.64,19.4) rotate(-45)" fill="#111">2500</text>
<line x1="210.77" y1="23.2" x2="210.77" y2="22" stroke="#000" stroke-width="0.5"/>
<text x="0" y="1.65" font-size="4.8" class="e" text-anchor="middle" transform="translate(211.27,19.4) rotate(-45)" fill="#111">3000</text>
<line x1="225.39" y1="23.2" x2="225.39" y2="22" stroke="#000" stroke-width="0.5"/>
<text x="0" y="1.65" font-size="4.8" class="e" text-anchor="middle" transform="translate(225.89,19.4) rotate(-45)" fill="#111">3500</text>
<line x1="240.02" y1="23.2" x2="240.02" y2="22" stroke="#000" stroke-width="0.5"/>
<text x="0" y="1.65" font-size="4.8" class="e" text-anchor="middle" transform="translate(240.52,19.4) rotate(-45)" fill="#111">4000</text>
<line x1="254.65" y1="23.2" x2="254.65" y2="22" stroke="#000" stroke-width="0.5"/>
<text x="0" y="1.65" font-size="4.8" class="e" text-anchor="middle" transform="translate(255.15,19.4) rotate(-45)" fill="#111">4500</text>
<line x1="269.28" y1="23.2" x2="269.28" y2="22" stroke="#000" stroke-width="0.5"/>
<text x="0" y="1.65" font-size="4.8" class="e" text-anchor="middle" transform="translate(269.78,19.4) rotate(-45)" fill="#111">5000</text>
<line x1="283.91" y1="23.2" x2="283.91" y2="22" stroke="#000" stroke-width="0.5"/>
<text x="0" y="1.65" font-size="4.8" class="e" text-anchor="middle" transform="translate(284.41,19.4) rotate(-45)" fill="#111">5500</text>
<line x1="298.53" y1="23.2" x2="298.53" y2="22" stroke="#000" stroke-width="0.5"/>
<text x="0" y="1.65" font-size="4.8" class="e" text-anchor="middle" transform="translate(299.03,19.4) rotate(-45)" fill="#111">6000</text>
<line x1="313.16" y1="23.2" x2="313.16" y2="22" stroke="#000" stroke-width="0.5"/>
<text x="0" y="1.65" font-size="4.8" class="e" text-anchor="middle" transform="translate(313.66,19.4) rotate(-45)" fill="#111">6500</text>
<line x1="327.79" y1="23.2" x2="327.79" y2="22" stroke="#000" stroke-width="0.5"/>
<text x="0" y="1.65" font-size="4.8" class="e" text-anchor="middle" transform="translate(328.29,19.4) rotate(-45)" fill="#111">7000</text>
<line x1="342.42" y1="23.2" x2="342.42" y2="22" stroke="#000" stroke-width="0.5"/>
<text x="0" y="1.65" font-size="4.8" class="e" text-anchor="middle" transform="translate(342.92,19.4) rotate(-45)" fill="#111">7500</text>
<line x1="357.04" y1="23.2" x2="357.04" y2="22" stroke="#000" stroke-width="0.5"/>
<text x="0" y="1.65" font-size="4.8" class="e" text-anchor="middle" transform="translate(357.54,19.4) rotate(-45)" fill="#111">8000</text>
<line x1="371.67" y1="23.2" x2="371.67" y2="22" stroke="#000" stroke-width="0.5"/>
<text x="0" y="1.65" font-size="4.8" class="e" text-anchor="middle" transform="translate(372.17,19.4) rotate(-45)" fill="#111">8500</text>
<line x1="386.30" y1="23.2" x2="386.30" y2="22" stroke="#000" stroke-width="0.5"/>
<text x="0" y="1.65" font-size="4.8" class="e" text-anchor="middle" transform="translate(386.80,19.4) rotate(-45)" fill="#111">9000</text>
<text x="254.7" y="9.9" font-size="5.75" class="t" text-anchor="middle" fill="#000">Position (bp)</text>
<text x="485.4" y="10.1" font-size="5.8" class="t" text-anchor="middle" fill="#000">Proportion of Samples</text>
<line x1="395.6" y1="23.2" x2="449.6" y2="23.2" stroke="#000" stroke-width="1.1"/>
<text x="0" y="1.65" font-size="4.8" class="e" text-anchor="middle" transform="translate(396.50,19.4) rotate(-45)" fill="#111">0.00</text>
<text x="0" y="1.65" font-size="4.8" class="e" text-anchor="middle" transform="translate(409.75,19.4) rotate(-45)" fill="#111">0.25</text>
<text x="0" y="1.65" font-size="4.8" class="e" text-anchor="middle" transform="translate(423.00,19.4) rotate(-45)" fill="#111">0.50</text>
<text x="0" y="1.65" font-size="4.8" class="e" text-anchor="middle" transform="translate(436.25,19.4) rotate(-45)" fill="#111">0.75</text>
<text x="0" y="1.65" font-size="4.8" class="e" text-anchor="middle" transform="translate(449.50,19.4) rotate(-45)" fill="#111">1.00</text>
<line x1="458.1" y1="23.2" x2="512.1" y2="23.2" stroke="#000" stroke-width="1.1"/>
<text x="0" y="1.65" font-size="4.8" class="e" text-anchor="middle" transform="translate(459.00,19.4) rotate(-45)" fill="#111">0.00</text>
<text x="0" y="1.65" font-size="4.8" class="e" text-anchor="middle" transform="translate(472.25,19.4) rotate(-45)" fill="#111">0.25</text>
<text x="0" y="1.65" font-size="4.8" class="e" text-anchor="middle" transform="translate(485.50,19.4) rotate(-45)" fill="#111">0.50</text>
<text x="0" y="1.65" font-size="4.8" class="e" text-anchor="middle" transform="translate(498.75,19.4) rotate(-45)" fill="#111">0.75</text>
<text x="0" y="1.65" font-size="4.8" class="e" text-anchor="middle" transform="translate(512.00,19.4) rotate(-45)" fill="#111">1.00</text>
<line x1="521.8" y1="23.2" x2="575.8" y2="23.2" stroke="#000" stroke-width="1.1"/>
<text x="0" y="1.65" font-size="4.8" class="e" text-anchor="middle" transform="translate(522.70,19.4) rotate(-45)" fill="#111">0.00</text>
<text x="0" y="1.65" font-size="4.8" class="e" text-anchor="middle" transform="translate(535.95,19.4) rotate(-45)" fill="#111">0.25</text>
<text x="0" y="1.65" font-size="4.8" class="e" text-anchor="middle" transform="translate(549.20,19.4) rotate(-45)" fill="#111">0.50</text>
<text x="0" y="1.65" font-size="4.8" class="e" text-anchor="middle" transform="translate(562.45,19.4) rotate(-45)" fill="#111">0.75</text>
<text x="0" y="1.65" font-size="4.8" class="e" text-anchor="middle" transform="translate(575.70,19.4) rotate(-45)" fill="#111">1.00</text>
<rect x="396.10" y="26.80" width="53.00" height="5.5" fill="#ff7f00"/>
<rect x="396.10" y="33.79" width="2.12" height="5.5" fill="#ff7f00"/>
<rect x="398.22" y="33.79" width="29.94" height="5.5" fill="#1f78b4"/>
<rect x="428.17" y="33.79" width="2.12" height="5.5" fill="#e31a1c"/>
<rect x="430.29" y="33.79" width="0.80" height="5.5" fill="#33a02c"/>
<rect x="431.08" y="33.79" width="18.02" height="5.5" fill="#fb9a99"/>
<rect x="396.10" y="40.77" width="10.92" height="5.5" fill="#33a02c"/>
<rect x="407.02" y="40.77" width="42.08" height="5.5" fill="#fb9a99"/>
<rect x="396.10" y="47.76" width="34.45" height="5.5" fill="#1f78b4"/>
<rect x="430.55" y="47.76" width="18.55" height="5.5" fill="#e31a1c"/>
<rect x="396.10" y="54.74" width="31.80" height="5.5" fill="#1f78b4"/>
<rect x="427.90" y="54.74" width="10.92" height="5.5" fill="#e31a1c"/>
<rect x="438.82" y="54.74" width="10.28" height="5.5" fill="#33a02c"/>
<rect x="396.10" y="61.73" width="1.38" height="5.5" fill="#ffff99"/>
<rect x="397.48" y="61.73" width="2.33" height="5.5" fill="#bdbdbd"/>
<rect x="399.81" y="61.73" width="33.39" height="5.5" fill="#1f78b4"/>
<rect x="433.20" y="61.73" width="14.52" height="5.5" fill="#e31a1c"/>
<rect x="447.72" y="61.73" width="1.38" height="5.5" fill="#33a02c"/>
<rect x="396.10" y="68.71" width="13.52" height="5.5" fill="#1f78b4"/>
<rect x="409.62" y="68.71" width="26.50" height="5.5" fill="#e31a1c"/>
<rect x="436.12" y="68.71" width="12.98" height="5.5" fill="#33a02c"/>
<rect x="396.10" y="75.70" width="0.79" height="5.5" fill="#ffff99"/>
<rect x="396.90" y="75.70" width="6.36" height="5.5" fill="#bdbdbd"/>
<rect x="403.25" y="75.70" width="28.25" height="5.5" fill="#1f78b4"/>
<rect x="431.50" y="75.70" width="1.17" height="5.5" fill="#e31a1c"/>
<rect x="432.67" y="75.70" width="16.43" height="5.5" fill="#33a02c"/>
<rect x="396.10" y="82.68" width="53.00" height="5.5" fill="#1f78b4"/>
<rect x="396.10" y="89.67" width="53.00" height="5.5" fill="#1f78b4"/>
<rect x="396.10" y="96.65" width="6.89" height="5.5" fill="#ffff99"/>
<rect x="402.99" y="96.65" width="26.50" height="5.5" fill="#1f78b4"/>
<rect x="429.49" y="96.65" width="13.09" height="5.5" fill="#e31a1c"/>
<rect x="442.58" y="96.65" width="6.52" height="5.5" fill="#33a02c"/>
<rect x="396.10" y="103.64" width="53.00" height="5.5" fill="#1f78b4"/>
<rect x="396.10" y="110.62" width="2.38" height="5.5" fill="#bdbdbd"/>
<rect x="398.49" y="110.62" width="1.06" height="5.5" fill="#1f78b4"/>
<rect x="399.55" y="110.62" width="49.55" height="5.5" fill="#e31a1c"/>
<rect x="396.10" y="117.61" width="53.00" height="5.5" fill="#fb9a99"/>
<rect x="396.10" y="124.59" width="53.00" height="5.5" fill="#1f78b4"/>
<rect x="396.10" y="131.58" width="44.47" height="5.5" fill="#1f78b4"/>
<rect x="440.57" y="131.58" width="8.53" height="5.5" fill="#e31a1c"/>
<rect x="396.10" y="138.56" width="3.71" height="5.5" fill="#bdbdbd"/>
<rect x="399.81" y="138.56" width="15.37" height="5.5" fill="#1f78b4"/>
<rect x="415.18" y="138.56" width="31.69" height="5.5" fill="#e31a1c"/>
<rect x="446.87" y="138.56" width="2.23" height="5.5" fill="#33a02c"/>
<rect x="396.10" y="145.55" width="53.00" height="5.5" fill="#e31a1c"/>
<rect x="396.10" y="152.53" width="1.06" height="5.5" fill="#bdbdbd"/>
<rect x="397.16" y="152.53" width="33.81" height="5.5" fill="#1f78b4"/>
<rect x="430.97" y="152.53" width="18.13" height="5.5" fill="#e31a1c"/>
<rect x="396.10" y="159.52" width="53.00" height="5.5" fill="#1f78b4"/>
<rect x="396.10" y="166.50" width="53.00" height="5.5" fill="#1f78b4"/>
<rect x="396.10" y="173.49" width="50.77" height="5.5" fill="#1f78b4"/>
<rect x="446.87" y="173.49" width="2.23" height="5.5" fill="#33a02c"/>
<rect x="396.10" y="180.47" width="31.80" height="5.5" fill="#cab2d6"/>
<rect x="427.90" y="180.47" width="21.20" height="5.5" fill="#1f78b4"/>
<rect x="396.10" y="187.46" width="53.00" height="5.5" fill="#ff7f00"/>
<rect x="396.10" y="194.44" width="5.83" height="5.5" fill="#ffff99"/>
<rect x="401.93" y="194.44" width="35.51" height="5.5" fill="#1f78b4"/>
<rect x="437.44" y="194.44" width="11.66" height="5.5" fill="#e31a1c"/>
<rect x="396.10" y="201.43" width="53.00" height="5.5" fill="#1f78b4"/>
<rect x="396.10" y="208.41" width="15.05" height="5.5" fill="#ffff99"/>
<rect x="411.15" y="208.41" width="22.90" height="5.5" fill="#1f78b4"/>
<rect x="434.05" y="208.41" width="15.05" height="5.5" fill="#e31a1c"/>
<rect x="396.10" y="215.40" width="8.48" height="5.5" fill="#1f78b4"/>
<rect x="404.58" y="215.40" width="36.30" height="5.5" fill="#e31a1c"/>
<rect x="440.88" y="215.40" width="8.22" height="5.5" fill="#33a02c"/>
<rect x="396.10" y="222.38" width="6.36" height="5.5" fill="#ffff99"/>
<rect x="402.46" y="222.38" width="23.85" height="5.5" fill="#1f78b4"/>
<rect x="426.31" y="222.38" width="16.27" height="5.5" fill="#e31a1c"/>
<rect x="442.58" y="222.38" width="6.52" height="5.5" fill="#33a02c"/>
<rect x="396.10" y="229.37" width="7.53" height="5.5" fill="#1f78b4"/>
<rect x="403.63" y="229.37" width="45.47" height="5.5" fill="#33a02c"/>
<rect x="396.10" y="236.35" width="53.00" height="5.5" fill="#fb9a99"/>
<rect x="396.10" y="243.34" width="53.00" height="5.5" fill="#fb9a99"/>
<rect x="396.10" y="250.32" width="53.00" height="5.5" fill="#cab2d6"/>
<rect x="396.10" y="257.31" width="1.59" height="5.5" fill="#ff7f00"/>
<rect x="397.69" y="257.31" width="8.16" height="5.5" fill="#bdbdbd"/>
<rect x="405.85" y="257.31" width="42.19" height="5.5" fill="#1f78b4"/>
<rect x="448.04" y="257.31" width="1.06" height="5.5" fill="#33a02c"/>
<rect x="396.10" y="264.29" width="53.00" height="5.5" fill="#cab2d6"/>
<rect x="458.60" y="26.80" width="10.60" height="5.5" fill="#000000"/>
<rect x="469.20" y="26.80" width="10.60" height="5.5" fill="#bdbdbd"/>
<rect x="458.60" y="33.79" width="5.62" height="5.5" fill="#000000"/>
<rect x="464.22" y="33.79" width="6.04" height="5.5" fill="#33a02c"/>
<rect x="470.26" y="33.79" width="6.62" height="5.5" fill="#1f78b4"/>
<rect x="476.89" y="33.79" width="2.39" height="5.5" fill="#fb9a99"/>
<rect x="458.60" y="40.77" width="10.60" height="5.5" fill="#000000"/>
<rect x="458.60" y="47.76" width="2.54" height="5.5" fill="#000000"/>
<rect x="461.14" y="47.76" width="40.17" height="5.5" fill="#ffff99"/>
<rect x="501.32" y="47.76" width="5.30" height="5.5" fill="#33a02c"/>
<rect x="506.62" y="47.76" width="4.98" height="5.5" fill="#1f78b4"/>
<rect x="458.60" y="54.74" width="53.00" height="5.5" fill="#ffff99"/>
<rect x="458.60" y="61.73" width="1.06" height="5.5" fill="#6a3d9a"/>
<rect x="459.66" y="61.73" width="2.01" height="5.5" fill="#1f78b4"/>
<rect x="461.67" y="61.73" width="31.64" height="5.5" fill="#fb9a99"/>
<rect x="458.60" y="68.71" width="26.18" height="5.5" fill="#fb9a99"/>
<rect x="458.60" y="75.70" width="12.98" height="5.5" fill="#6a3d9a"/>
<rect x="458.60" y="82.68" width="10.28" height="5.5" fill="#6a3d9a"/>
<rect x="458.60" y="89.67" width="1.06" height="5.5" fill="#33a02c"/>
<rect x="459.66" y="89.67" width="1.59" height="5.5" fill="#1f78b4"/>
<rect x="458.60" y="96.65" width="19.82" height="5.5" fill="#ff7f00"/>
<rect x="458.60" y="103.64" width="53.00" height="5.5" fill="#000000"/>
<rect x="458.60" y="110.62" width="2.38" height="5.5" fill="#000000"/>
<rect x="460.99" y="110.62" width="0.79" height="5.5" fill="#b15928"/>
<rect x="461.78" y="110.62" width="1.59" height="5.5" fill="#33a02c"/>
<rect x="463.37" y="110.62" width="1.59" height="5.5" fill="#1f78b4"/>
<rect x="458.60" y="124.59" width="11.66" height="5.5" fill="#bdbdbd"/>
<rect x="470.26" y="124.59" width="5.83" height="5.5" fill="#33a02c"/>
<rect x="476.09" y="124.59" width="12.08" height="5.5" fill="#6a3d9a"/>
<rect x="488.17" y="124.59" width="17.60" height="5.5" fill="#1f78b4"/>
<rect x="505.77" y="124.59" width="5.83" height="5.5" fill="#a6cee3"/>
<rect x="458.60" y="131.58" width="19.82" height="5.5" fill="#6a3d9a"/>
<rect x="478.42" y="131.58" width="13.04" height="5.5" fill="#1f78b4"/>
<rect x="491.46" y="131.58" width="20.14" height="5.5" fill="#a6cee3"/>
<rect x="458.60" y="138.56" width="0.79" height="5.5" fill="#bdbdbd"/>
<rect x="459.40" y="138.56" width="22.79" height="5.5" fill="#ffff99"/>
<rect x="482.19" y="138.56" width="0.53" height="5.5" fill="#bdbdbd"/>
<rect x="458.60" y="145.55" width="7.37" height="5.5" fill="#6a3d9a"/>
<rect x="465.97" y="145.55" width="7.68" height="5.5" fill="#1f78b4"/>
<rect x="473.65" y="145.55" width="7.69" height="5.5" fill="#a6cee3"/>
<rect x="481.34" y="145.55" width="7.37" height="5.5" fill="#fb9a99"/>
<rect x="458.60" y="152.53" width="7.42" height="5.5" fill="#6a3d9a"/>
<rect x="466.02" y="152.53" width="2.65" height="5.5" fill="#1f78b4"/>
<rect x="468.67" y="152.53" width="3.71" height="5.5" fill="#a6cee3"/>
<rect x="458.60" y="159.52" width="8.21" height="5.5" fill="#6a3d9a"/>
<rect x="458.60" y="173.49" width="11.66" height="5.5" fill="#6a3d9a"/>
<rect x="470.26" y="173.49" width="0.32" height="5.5" fill="#000000"/>
<rect x="458.60" y="180.47" width="20.88" height="5.5" fill="#fb9a99"/>
<rect x="458.60" y="215.40" width="1.06" height="5.5" fill="#000000"/>
<rect x="459.66" y="215.40" width="1.59" height="5.5" fill="#6a3d9a"/>
<rect x="461.25" y="215.40" width="2.65" height="5.5" fill="#a6cee3"/>
<rect x="463.90" y="215.40" width="2.12" height="5.5" fill="#fb9a99"/>
<rect x="458.60" y="222.38" width="37.10" height="5.5" fill="#ff7f00"/>
<rect x="495.70" y="222.38" width="1.06" height="5.5" fill="#1f78b4"/>
<rect x="458.60" y="236.35" width="9.01" height="5.5" fill="#000000"/>
<rect x="458.60" y="243.34" width="20.88" height="5.5" fill="#000000"/>
<rect x="458.60" y="257.31" width="3.07" height="5.5" fill="#fb9a99"/>
<rect x="522.30" y="26.80" width="53.00" height="5.5" fill="#6a3d9a"/>
<rect x="522.30" y="33.79" width="13.78" height="5.5" fill="#fb9a99"/>
<rect x="536.08" y="33.79" width="2.12" height="5.5" fill="#ff7f00"/>
<rect x="538.20" y="33.79" width="6.89" height="5.5" fill="#a6cee3"/>
<rect x="545.09" y="33.79" width="1.59" height="5.5" fill="#ffff99"/>
<rect x="546.68" y="33.79" width="5.72" height="5.5" fill="#1f78b4"/>
<rect x="552.40" y="33.79" width="5.19" height="5.5" fill="#e31a1c"/>
<rect x="557.60" y="33.79" width="1.27" height="5.5" fill="#6a3d9a"/>
<rect x="522.30" y="40.77" width="10.81" height="5.5" fill="#ff7f00"/>
<rect x="533.11" y="40.77" width="10.39" height="5.5" fill="#a6cee3"/>
<rect x="543.50" y="40.77" width="10.60" height="5.5" fill="#1f78b4"/>
<rect x="554.10" y="40.77" width="10.60" height="5.5" fill="#e31a1c"/>
<rect x="564.70" y="40.77" width="10.60" height="5.5" fill="#6a3d9a"/>
<rect x="522.30" y="47.76" width="46.80" height="5.5" fill="#e31a1c"/>
<rect x="522.30" y="54.74" width="42.40" height="5.5" fill="#e31a1c"/>
<rect x="522.30" y="61.73" width="1.59" height="5.5" fill="#fb9a99"/>
<rect x="523.89" y="61.73" width="5.30" height="5.5" fill="#ff7f00"/>
<rect x="529.19" y="61.73" width="10.81" height="5.5" fill="#a6cee3"/>
<rect x="540.00" y="61.73" width="2.97" height="5.5" fill="#ffff99"/>
<rect x="542.97" y="61.73" width="14.84" height="5.5" fill="#1f78b4"/>
<rect x="557.81" y="61.73" width="10.07" height="5.5" fill="#e31a1c"/>
<rect x="567.88" y="61.73" width="1.06" height="5.5" fill="#6a3d9a"/>
<rect x="522.30" y="68.71" width="26.50" height="5.5" fill="#ff7f00"/>
<rect x="548.80" y="68.71" width="13.25" height="5.5" fill="#a6cee3"/>
<rect x="522.30" y="75.70" width="2.12" height="5.5" fill="#fb9a99"/>
<rect x="524.42" y="75.70" width="1.06" height="5.5" fill="#ff7f00"/>
<rect x="525.48" y="75.70" width="15.90" height="5.5" fill="#b2df8a"/>
<rect x="541.38" y="75.70" width="2.12" height="5.5" fill="#a6cee3"/>
<rect x="543.50" y="75.70" width="8.48" height="5.5" fill="#ffff99"/>
<rect x="551.98" y="75.70" width="15.90" height="5.5" fill="#1f78b4"/>
<rect x="567.88" y="75.70" width="3.71" height="5.5" fill="#e31a1c"/>
<rect x="571.59" y="75.70" width="0.53" height="5.5" fill="#6a3d9a"/>
<rect x="522.30" y="82.68" width="21.52" height="5.5" fill="#fb9a99"/>
<rect x="543.82" y="82.68" width="10.28" height="5.5" fill="#ff7f00"/>
<rect x="554.10" y="82.68" width="21.20" height="5.5" fill="#1f78b4"/>
<rect x="522.30" y="89.67" width="9.54" height="5.5" fill="#fb9a99"/>
<rect x="531.84" y="89.67" width="31.27" height="5.5" fill="#ff7f00"/>
<rect x="563.11" y="89.67" width="1.06" height="5.5" fill="#e31a1c"/>
<rect x="564.17" y="89.67" width="1.06" height="5.5" fill="#6a3d9a"/>
<rect x="522.30" y="96.65" width="46.80" height="5.5" fill="#e31a1c"/>
<rect x="522.30" y="103.64" width="53.00" height="5.5" fill="#ff7f00"/>
<rect x="522.30" y="110.62" width="0.64" height="5.5" fill="#a6cee3"/>
<rect x="522.94" y="110.62" width="49.18" height="5.5" fill="#e31a1c"/>
<rect x="522.30" y="117.61" width="10.81" height="5.5" fill="#ffff99"/>
<rect x="533.11" y="117.61" width="31.59" height="5.5" fill="#33a02c"/>
<rect x="522.30" y="124.59" width="21.52" height="5.5" fill="#fb9a99"/>
<rect x="543.82" y="124.59" width="10.28" height="5.5" fill="#1f78b4"/>
<rect x="522.30" y="131.58" width="9.12" height="5.5" fill="#ffff99"/>
<rect x="531.42" y="131.58" width="43.88" height="5.5" fill="#1f78b4"/>
<rect x="522.30" y="138.56" width="1.59" height="5.5" fill="#fb9a99"/>
<rect x="523.89" y="138.56" width="2.65" height="5.5" fill="#ff7f00"/>
<rect x="526.54" y="138.56" width="3.18" height="5.5" fill="#a6cee3"/>
<rect x="529.72" y="138.56" width="1.59" height="5.5" fill="#1f78b4"/>
<rect x="531.31" y="138.56" width="37.79" height="5.5" fill="#e31a1c"/>
<rect x="569.10" y="138.56" width="0.37" height="5.5" fill="#33a02c"/>
<rect x="522.30" y="145.55" width="31.80" height="5.5" fill="#ff7f00"/>
<rect x="554.10" y="145.55" width="10.60" height="5.5" fill="#ffff99"/>
<rect x="522.30" y="152.53" width="32.33" height="5.5" fill="#fb9a99"/>
<rect x="554.63" y="152.53" width="4.77" height="5.5" fill="#ff7f00"/>
<rect x="559.40" y="152.53" width="1.59" height="5.5" fill="#a6cee3"/>
<rect x="560.99" y="152.53" width="3.71" height="5.5" fill="#ffff99"/>
<rect x="564.70" y="152.53" width="2.65" height="5.5" fill="#1f78b4"/>
<rect x="567.35" y="152.53" width="3.98" height="5.5" fill="#e31a1c"/>
<rect x="522.30" y="159.52" width="4.24" height="5.5" fill="#fb9a99"/>
<rect x="526.54" y="159.52" width="40.81" height="5.5" fill="#ff7f00"/>
<rect x="522.30" y="166.50" width="53.00" height="5.5" fill="#1f78b4"/>
<rect x="522.30" y="173.49" width="7.42" height="5.5" fill="#a6cee3"/>
<rect x="529.72" y="173.49" width="2.12" height="5.5" fill="#ffff99"/>
<rect x="531.84" y="173.49" width="43.46" height="5.5" fill="#1f78b4"/>
<rect x="522.30" y="180.47" width="42.40" height="5.5" fill="#ff7f00"/>
<rect x="564.70" y="180.47" width="10.60" height="5.5" fill="#33a02c"/>
<rect x="522.30" y="187.46" width="53.00" height="5.5" fill="#6a3d9a"/>
<rect x="522.30" y="194.44" width="5.30" height="5.5" fill="#fb9a99"/>
<rect x="527.60" y="194.44" width="6.73" height="5.5" fill="#ff7f00"/>
<rect x="534.33" y="194.44" width="17.65" height="5.5" fill="#b2df8a"/>
<rect x="551.98" y="194.44" width="11.66" height="5.5" fill="#ffff99"/>
<rect x="563.64" y="194.44" width="5.99" height="5.5" fill="#1f78b4"/>
<rect x="569.63" y="194.44" width="5.67" height="5.5" fill="#e31a1c"/>
<rect x="522.30" y="201.43" width="35.62" height="5.5" fill="#fb9a99"/>
<rect x="557.92" y="201.43" width="17.38" height="5.5" fill="#1f78b4"/>
<rect x="522.30" y="208.41" width="37.84" height="5.5" fill="#1f78b4"/>
<rect x="522.30" y="215.40" width="2.12" height="5.5" fill="#a6cee3"/>
<rect x="524.42" y="215.40" width="48.65" height="5.5" fill="#e31a1c"/>
<rect x="522.30" y="222.38" width="51.62" height="5.5" fill="#fb9a99"/>
<rect x="573.92" y="222.38" width="0.85" height="5.5" fill="#b15928"/>
<rect x="522.30" y="229.37" width="53.00" height="5.5" fill="#1f78b4"/>
<rect x="522.30" y="236.35" width="44.41" height="5.5" fill="#e31a1c"/>
<rect x="522.30" y="243.34" width="31.80" height="5.5" fill="#a6cee3"/>
<rect x="522.30" y="250.32" width="21.20" height="5.5" fill="#fb9a99"/>
<rect x="522.30" y="257.31" width="45.21" height="5.5" fill="#1f78b4"/>
<rect x="567.51" y="257.31" width="3.02" height="5.5" fill="#e31a1c"/>
<rect x="522.30" y="264.29" width="50.40" height="5.5" fill="#fb9a99"/>
<rect x="572.70" y="264.29" width="2.60" height="5.5" fill="#a6cee3"/>
<text x="405" y="281.10" font-size="5.75" class="t" fill="#000">Genus</text>
<rect x="405.20" y="284.50" width="1.9" height="3.8" fill="#fb9a99"/>
<text x="410.30" y="288.40" font-size="4.65" class="e" fill="#000">Acinetobacter</text>
<rect x="405.20" y="288.95" width="1.9" height="3.8" fill="#33a02c"/>
<text x="410.30" y="292.85" font-size="4.65" class="e" fill="#000">Enterobacter</text>
<rect x="405.20" y="293.40" width="1.9" height="3.8" fill="#e31a1c"/>
<text x="410.30" y="297.30" font-size="4.65" class="e" fill="#000">Escherichia</text>
<rect x="405.20" y="297.85" width="1.9" height="3.8" fill="#1f78b4"/>
<text x="410.30" y="301.75" font-size="4.65" class="e" fill="#000">Klebsiella</text>
<rect x="405.20" y="302.30" width="1.9" height="3.8" fill="#bdbdbd"/>
<text x="410.30" y="306.20" font-size="4.65" class="e" fill="#000">Other</text>
<rect x="405.20" y="306.75" width="1.9" height="3.8" fill="#ff7f00"/>
<text x="410.30" y="310.65" font-size="4.65" class="e" fill="#000">Providencia</text>
<rect x="405.20" y="311.20" width="1.9" height="3.8" fill="#ffff99"/>
<text x="410.30" y="315.10" font-size="4.65" class="e" fill="#000">Citrobacter</text>
<rect x="405.20" y="315.65" width="1.9" height="3.8" fill="#cab2d6"/>
<text x="410.30" y="319.55" font-size="4.65" class="e" fill="#000">Pseudomonas</text>
<text x="463.7" y="278.60" font-size="5.75" class="t" fill="#000">Plasmid Type</text>
<rect x="463.90" y="282.30" width="1.9" height="3.8" fill="#fb9a99"/>
<text x="469.00" y="286.20" font-size="4.65" class="e" fill="#000">IncC</text>
<rect x="463.90" y="286.72" width="1.9" height="3.8" fill="#a6cee3"/>
<text x="469.00" y="290.62" font-size="4.65" class="e" fill="#000">IncFIA</text>
<rect x="463.90" y="291.14" width="1.9" height="3.8" fill="#1f78b4"/>
<text x="469.00" y="295.04" font-size="4.65" class="e" fill="#000">IncFIB</text>
<rect x="463.90" y="295.56" width="1.9" height="3.8" fill="#6a3d9a"/>
<text x="469.00" y="299.46" font-size="4.65" class="e" fill="#000">IncFII</text>
<rect x="463.90" y="299.98" width="1.9" height="3.8" fill="#33a02c"/>
<text x="469.00" y="303.88" font-size="4.65" class="e" fill="#000">IncHI(1A,1B,2,2A)</text>
<rect x="463.90" y="304.40" width="1.9" height="3.8" fill="#ff7f00"/>
<text x="469.00" y="308.30" font-size="4.65" class="e" fill="#000">IncN(1,2)</text>
<rect x="463.90" y="308.82" width="1.9" height="3.8" fill="#ffff99"/>
<text x="469.00" y="312.72" font-size="4.65" class="e" fill="#000">IncX3</text>
<rect x="463.90" y="313.24" width="1.9" height="3.8" fill="#bdbdbd"/>
<text x="469.00" y="317.14" font-size="4.65" class="e" fill="#000">Other types</text>
<rect x="463.90" y="317.66" width="1.9" height="3.8" fill="#000000"/>
<text x="469.00" y="321.56" font-size="4.65" class="e" fill="#000">Type unknown</text>
<text x="520.2" y="276.80" font-size="5.75" class="t" fill="#000">Region</text>
<rect x="520.40" y="280.10" width="1.9" height="3.8" fill="#33a02c"/>
<text x="525.50" y="284.00" font-size="4.65" class="e" fill="#000">Africa</text>
<rect x="520.40" y="284.50" width="1.9" height="3.8" fill="#6a3d9a"/>
<text x="525.50" y="288.40" font-size="4.65" class="e" fill="#000">Central &amp; South America</text>
<rect x="520.40" y="288.90" width="1.9" height="3.8" fill="#e31a1c"/>
<text x="525.50" y="292.80" font-size="4.65" class="e" fill="#000">East Asia</text>
<rect x="520.40" y="293.30" width="1.9" height="3.8" fill="#1f78b4"/>
<text x="525.50" y="297.20" font-size="4.65" class="e" fill="#000">Europe</text>
<rect x="520.40" y="297.70" width="1.9" height="3.8" fill="#ffff99"/>
<text x="525.50" y="301.60" font-size="4.65" class="e" fill="#000">Middle East</text>
<rect x="520.40" y="302.10" width="1.9" height="3.8" fill="#a6cee3"/>
<text x="525.50" y="306.00" font-size="4.65" class="e" fill="#000">North America</text>
<rect x="520.40" y="306.50" width="1.9" height="3.8" fill="#b15928"/>
<text x="525.50" y="310.40" font-size="4.65" class="e" fill="#000">Oceania</text>
<rect x="520.40" y="310.90" width="1.9" height="3.8" fill="#b2df8a"/>
<text x="525.50" y="314.80" font-size="4.65" class="e" fill="#000">South Africa</text>
<rect x="520.40" y="315.30" width="1.9" height="3.8" fill="#ff7f00"/>
<text x="525.50" y="319.20" font-size="4.65" class="e" fill="#000">South Asia</text>
<rect x="520.40" y="319.70" width="1.9" height="3.8" fill="#fb9a99"/>
<text x="525.50" y="323.60" font-size="4.65" class="e" fill="#000">South East Asia</text>
<line x1="122.5" y1="275.90" x2="386.3" y2="275.90" stroke="#dcdcdc" stroke-width="0.5" stroke-dasharray="1,1.2"/>
<line x1="122.5" y1="283.39" x2="386.3" y2="283.39" stroke="#dcdcdc" stroke-width="0.5" stroke-dasharray="1,1.2"/>
<line x1="122.5" y1="290.88" x2="386.3" y2="290.88" stroke="#dcdcdc" stroke-width="0.5" stroke-dasharray="1,1.2"/>
<line x1="122.5" y1="298.36" x2="386.3" y2="298.36" stroke="#dcdcdc" stroke-width="0.5" stroke-dasharray="1,1.2"/>
<line x1="122.5" y1="305.85" x2="386.3" y2="305.85" stroke="#dcdcdc" stroke-width="0.5" stroke-dasharray="1,1.2"/>
<line x1="122.5" y1="313.34" x2="386.3" y2="313.34" stroke="#dcdcdc" stroke-width="0.5" stroke-dasharray="1,1.2"/>
<line x1="122.5" y1="320.82" x2="386.3" y2="320.82" stroke="#dcdcdc" stroke-width="0.5" stroke-dasharray="1,1.2"/>
<line x1="122.5" y1="328.31" x2="386.3" y2="328.31" stroke="#dcdcdc" stroke-width="0.5" stroke-dasharray="1,1.2"/>
<line x1="122.5" y1="335.80" x2="386.3" y2="335.80" stroke="#dcdcdc" stroke-width="0.5" stroke-dasharray="1,1.2"/>
<line x1="123.00" y1="275.9" x2="123.00" y2="335.8" stroke="#dcdcdc" stroke-width="0.5" stroke-dasharray="1,1.2"/>
<line x1="130.31" y1="275.9" x2="130.31" y2="335.8" stroke="#dcdcdc" stroke-width="0.5" stroke-dasharray="1,1.2"/>
<line x1="137.63" y1="275.9" x2="137.63" y2="335.8" stroke="#dcdcdc" stroke-width="0.5" stroke-dasharray="1,1.2"/>
<line x1="144.94" y1="275.9" x2="144.94" y2="335.8" stroke="#dcdcdc" stroke-width="0.5" stroke-dasharray="1,1.2"/>
<line x1="152.26" y1="275.9" x2="152.26" y2="335.8" stroke="#dcdcdc" stroke-width="0.5" stroke-dasharray="1,1.2"/>
<line x1="159.57" y1="275.9" x2="159.57" y2="335.8" stroke="#dcdcdc" stroke-width="0.5" stroke-dasharray="1,1.2"/>
<line x1="166.88" y1="275.9" x2="166.88" y2="335.8" stroke="#dcdcdc" stroke-width="0.5" stroke-dasharray="1,1.2"/>
<line x1="174.20" y1="275.9" x2="174.20" y2="335.8" stroke="#dcdcdc" stroke-width="0.5" stroke-dasharray="1,1.2"/>
<line x1="181.51" y1="275.9" x2="181.51" y2="335.8" stroke="#dcdcdc" stroke-width="0.5" stroke-dasharray="1,1.2"/>
<line x1="188.82" y1="275.9" x2="188.82" y2="335.8" stroke="#dcdcdc" stroke-width="0.5" stroke-dasharray="1,1.2"/>
<line x1="196.14" y1="275.9" x2="196.14" y2="335.8" stroke="#dcdcdc" stroke-width="0.5" stroke-dasharray="1,1.2"/>
<line x1="203.45" y1="275.9" x2="203.45" y2="335.8" stroke="#dcdcdc" stroke-width="0.5" stroke-dasharray="1,1.2"/>
<line x1="210.77" y1="275.9" x2="210.77" y2="335.8" stroke="#dcdcdc" stroke-width="0.5" stroke-dasharray="1,1.2"/>
<line x1="218.08" y1="275.9" x2="218.08" y2="335.8" stroke="#dcdcdc" stroke-width="0.5" stroke-dasharray="1,1.2"/>
<line x1="225.39" y1="275.9" x2="225.39" y2="335.8" stroke="#dcdcdc" stroke-width="0.5" stroke-dasharray="1,1.2"/>
<line x1="232.71" y1="275.9" x2="232.71" y2="335.8" stroke="#dcdcdc" stroke-width="0.5" stroke-dasharray="1,1.2"/>
<line x1="240.02" y1="275.9" x2="240.02" y2="335.8" stroke="#dcdcdc" stroke-width="0.5" stroke-dasharray="1,1.2"/>
<line x1="247.34" y1="275.9" x2="247.34" y2="335.8" stroke="#dcdcdc" stroke-width="0.5" stroke-dasharray="1,1.2"/>
<line x1="254.65" y1="275.9" x2="254.65" y2="335.8" stroke="#dcdcdc" stroke-width="0.5" stroke-dasharray="1,1.2"/>
<line x1="261.96" y1="275.9" x2="261.96" y2="335.8" stroke="#dcdcdc" stroke-width="0.5" stroke-dasharray="1,1.2"/>
<line x1="269.28" y1="275.9" x2="269.28" y2="335.8" stroke="#dcdcdc" stroke-width="0.5" stroke-dasharray="1,1.2"/>
<line x1="276.59" y1="275.9" x2="276.59" y2="335.8" stroke="#dcdcdc" stroke-width="0.5" stroke-dasharray="1,1.2"/>
<line x1="283.91" y1="275.9" x2="283.91" y2="335.8" stroke="#dcdcdc" stroke-width="0.5" stroke-dasharray="1,1.2"/>
<line x1="291.22" y1="275.9" x2="291.22" y2="335.8" stroke="#dcdcdc" stroke-width="0.5" stroke-dasharray="1,1.2"/>
<line x1="298.53" y1="275.9" x2="298.53" y2="335.8" stroke="#dcdcdc" stroke-width="0.5" stroke-dasharray="1,1.2"/>
<line x1="305.85" y1="275.9" x2="305.85" y2="335.8" stroke="#dcdcdc" stroke-width="0.5" stroke-dasharray="1,1.2"/>
<line x1="313.16" y1="275.9" x2="313.16" y2="335.8" stroke="#dcdcdc" stroke-width="0.5" stroke-dasharray="1,1.2"/>
<line x1="320.48" y1="275.9" x2="320.48" y2="335.8" stroke="#dcdcdc" stroke-width="0.5" stroke-dasharray="1,1.2"/>
<line x1="327.79" y1="275.9" x2="327.79" y2="335.8" stroke="#dcdcdc" stroke-width="0.5" stroke-dasharray="1,1.2"/>
<line x1="335.10" y1="275.9" x2="335.10" y2="335.8" stroke="#dcdcdc" stroke-width="0.5" stroke-dasharray="1,1.2"/>
<line x1="342.42" y1="275.9" x2="342.42" y2="335.8" stroke="#dcdcdc" stroke-width="0.5" stroke-dasharray="1,1.2"/>
<line x1="349.73" y1="275.9" x2="349.73" y2="335.8" stroke="#dcdcdc" stroke-width="0.5" stroke-dasharray="1,1.2"/>
<line x1="357.04" y1="275.9" x2="357.04" y2="335.8" stroke="#dcdcdc" stroke-width="0.5" stroke-dasharray="1,1.2"/>
<line x1="364.36" y1="275.9" x2="364.36" y2="335.8" stroke="#dcdcdc" stroke-width="0.5" stroke-dasharray="1,1.2"/>
<line x1="371.67" y1="275.9" x2="371.67" y2="335.8" stroke="#dcdcdc" stroke-width="0.5" stroke-dasharray="1,1.2"/>
<line x1="378.99" y1="275.9" x2="378.99" y2="335.8" stroke="#dcdcdc" stroke-width="0.5" stroke-dasharray="1,1.2"/>
<line x1="386.30" y1="275.9" x2="386.30" y2="335.8" stroke="#dcdcdc" stroke-width="0.5" stroke-dasharray="1,1.2"/>
<path d="M122.5,275.9 L150.2,276.0 L158.6,278.0 L167.5,280.7 L175.6,282.5 L179.0,284.0 L190.8,286.6 L196.0,288.5 L204.4,290.5 L211.2,293.5 L214.6,294.5 L231.5,296.2 L235.0,298.3 L240.0,299.0 L250.0,300.1 L259.5,301.3 L269.0,304.4 L285.6,306.8 L297.5,309.2 L309.3,313.4 L321.2,315.6 L333.0,317.5 L345.0,321.0 L356.8,324.1 L368.6,327.0 L378.1,330.5 L383.5,333.0 L385.8,336.4 L386.3,275.9 Z" fill="#bebebe"/>
<line x1="122.2" y1="275.9" x2="386.6" y2="275.9" stroke="#000" stroke-width="1.2"/>
<line x1="122.5" y1="275.4" x2="122.5" y2="336.3" stroke="#000" stroke-width="1.2"/>
<line x1="121.0" y1="275.90" x2="122.5" y2="275.90" stroke="#000" stroke-width="0.5"/>
<text x="119.4" y="277.75" font-size="5.2" text-anchor="end" fill="#222" textLength="2.43" lengthAdjust="spacingAndGlyphs">0</text>
<line x1="121.0" y1="290.88" x2="122.5" y2="290.88" stroke="#000" stroke-width="0.5"/>
<text x="119.4" y="292.73" font-size="5.2" text-anchor="end" fill="#222" textLength="4.86" lengthAdjust="spacingAndGlyphs">50</text>
<line x1="121.0" y1="305.85" x2="122.5" y2="305.85" stroke="#000" stroke-width="0.5"/>
<text x="119.4" y="307.70" font-size="5.2" text-anchor="end" fill="#222" textLength="7.29" lengthAdjust="spacingAndGlyphs">100</text>
<line x1="121.0" y1="320.82" x2="122.5" y2="320.82" stroke="#000" stroke-width="0.5"/>
<text x="119.4" y="322.68" font-size="5.2" text-anchor="end" fill="#222" textLength="7.29" lengthAdjust="spacingAndGlyphs">150</text>
<line x1="121.0" y1="335.80" x2="122.5" y2="335.80" stroke="#000" stroke-width="0.5"/>
<text x="119.4" y="337.65" font-size="5.2" text-anchor="end" fill="#222" textLength="7.29" lengthAdjust="spacingAndGlyphs">200</text>
<text x="0" y="0" font-size="5.8" class="t" text-anchor="middle" transform="translate(104.0,306) rotate(-90)" fill="#000">&#35; Other Structural</text>
<text x="0" y="0" font-size="5.8" class="t" text-anchor="middle" transform="translate(109.2,306) rotate(-90)" fill="#000">Variants</text>
<line x1="122.5" y1="343.30" x2="386.3" y2="343.30" stroke="#dcdcdc" stroke-width="0.5" stroke-dasharray="1,1.2"/>
<line x1="122.5" y1="348.72" x2="386.3" y2="348.72" stroke="#dcdcdc" stroke-width="0.5" stroke-dasharray="1,1.2"/>
<line x1="122.5" y1="354.14" x2="386.3" y2="354.14" stroke="#dcdcdc" stroke-width="0.5" stroke-dasharray="1,1.2"/>
<line x1="122.5" y1="359.56" x2="386.3" y2="359.56" stroke="#dcdcdc" stroke-width="0.5" stroke-dasharray="1,1.2"/>
<line x1="122.5" y1="364.98" x2="386.3" y2="364.98" stroke="#dcdcdc" stroke-width="0.5" stroke-dasharray="1,1.2"/>
<line x1="122.5" y1="370.40" x2="386.3" y2="370.40" stroke="#dcdcdc" stroke-width="0.5" stroke-dasharray="1,1.2"/>
<line x1="122.5" y1="375.82" x2="386.3" y2="375.82" stroke="#dcdcdc" stroke-width="0.5" stroke-dasharray="1,1.2"/>
<line x1="122.5" y1="381.24" x2="386.3" y2="381.24" stroke="#dcdcdc" stroke-width="0.5" stroke-dasharray="1,1.2"/>
<line x1="122.5" y1="386.66" x2="386.3" y2="386.66" stroke="#dcdcdc" stroke-width="0.5" stroke-dasharray="1,1.2"/>
<line x1="122.5" y1="392.08" x2="386.3" y2="392.08" stroke="#dcdcdc" stroke-width="0.5" stroke-dasharray="1,1.2"/>
<line x1="122.5" y1="397.50" x2="386.3" y2="397.50" stroke="#dcdcdc" stroke-width="0.5" stroke-dasharray="1,1.2"/>
<line x1="122.5" y1="402.92" x2="386.3" y2="402.92" stroke="#dcdcdc" stroke-width="0.5" stroke-dasharray="1,1.2"/>
<line x1="123.00" y1="343.3" x2="123.00" y2="404.6" stroke="#dcdcdc" stroke-width="0.5" stroke-dasharray="1,1.2"/>
<line x1="130.31" y1="343.3" x2="130.31" y2="404.6" stroke="#dcdcdc" stroke-width="0.5" stroke-dasharray="1,1.2"/>
<line x1="137.63" y1="343.3" x2="137.63" y2="404.6" stroke="#dcdcdc" stroke-width="0.5" stroke-dasharray="1,1.2"/>
<line x1="144.94" y1="343.3" x2="144.94" y2="404.6" stroke="#dcdcdc" stroke-width="0.5" stroke-dasharray="1,1.2"/>
<line x1="152.26" y1="343.3" x2="152.26" y2="404.6" stroke="#dcdcdc" stroke-width="0.5" stroke-dasharray="1,1.2"/>
<line x1="159.57" y1="343.3" x2="159.57" y2="404.6" stroke="#dcdcdc" stroke-width="0.5" stroke-dasharray="1,1.2"/>
<line x1="166.88" y1="343.3" x2="166.88" y2="404.6" stroke="#dcdcdc" stroke-width="0.5" stroke-dasharray="1,1.2"/>
<line x1="174.20" y1="343.3" x2="174.20" y2="404.6" stroke="#dcdcdc" stroke-width="0.5" stroke-dasharray="1,1.2"/>
<line x1="181.51" y1="343.3" x2="181.51" y2="404.6" stroke="#dcdcdc" stroke-width="0.5" stroke-dasharray="1,1.2"/>
<line x1="188.82" y1="343.3" x2="188.82" y2="404.6" stroke="#dcdcdc" stroke-width="0.5" stroke-dasharray="1,1.2"/>
<line x1="196.14" y1="343.3" x2="196.14" y2="404.6" stroke="#dcdcdc" stroke-width="0.5" stroke-dasharray="1,1.2"/>
<line x1="203.45" y1="343.3" x2="203.45" y2="404.6" stroke="#dcdcdc" stroke-width="0.5" stroke-dasharray="1,1.2"/>
<line x1="210.77" y1="343.3" x2="210.77" y2="404.6" stroke="#dcdcdc" stroke-width="0.5" stroke-dasharray="1,1.2"/>
<line x1="218.08" y1="343.3" x2="218.08" y2="404.6" stroke="#dcdcdc" stroke-width="0.5" stroke-dasharray="1,1.2"/>
<line x1="225.39" y1="343.3" x2="225.39" y2="404.6" stroke="#dcdcdc" stroke-width="0.5" stroke-dasharray="1,1.2"/>
<line x1="232.71" y1="343.3" x2="232.71" y2="404.6" stroke="#dcdcdc" stroke-width="0.5" stroke-dasharray="1,1.2"/>
<line x1="240.02" y1="343.3" x2="240.02" y2="404.6" stroke="#dcdcdc" stroke-width="0.5" stroke-dasharray="1,1.2"/>
<line x1="247.34" y1="343.3" x2="247.34" y2="404.6" stroke="#dcdcdc" stroke-width="0.5" stroke-dasharray="1,1.2"/>
<line x1="254.65" y1="343.3" x2="254.65" y2="404.6" stroke="#dcdcdc" stroke-width="0.5" stroke-dasharray="1,1.2"/>
<line x1="261.96" y1="343.3" x2="261.96" y2="404.6" stroke="#dcdcdc" stroke-width="0.5" stroke-dasharray="1,1.2"/>
<line x1="269.28" y1="343.3" x2="269.28" y2="404.6" stroke="#dcdcdc" stroke-width="0.5" stroke-dasharray="1,1.2"/>
<line x1="276.59" y1="343.3" x2="276.59" y2="404.6" stroke="#dcdcdc" stroke-width="0.5" stroke-dasharray="1,1.2"/>
<line x1="283.91" y1="343.3" x2="283.91" y2="404.6" stroke="#dcdcdc" stroke-width="0.5" stroke-dasharray="1,1.2"/>
<line x1="291.22" y1="343.3" x2="291.22" y2="404.6" stroke="#dcdcdc" stroke-width="0.5" stroke-dasharray="1,1.2"/>
<line x1="298.53" y1="343.3" x2="298.53" y2="404.6" stroke="#dcdcdc" stroke-width="0.5" stroke-dasharray="1,1.2"/>
<line x1="305.85" y1="343.3" x2="305.85" y2="404.6" stroke="#dcdcdc" stroke-width="0.5" stroke-dasharray="1,1.2"/>
<line x1="313.16" y1="343.3" x2="313.16" y2="404.6" stroke="#dcdcdc" stroke-width="0.5" stroke-dasharray="1,1.2"/>
<line x1="320.48" y1="343.3" x2="320.48" y2="404.6" stroke="#dcdcdc" stroke-width="0.5" stroke-dasharray="1,1.2"/>
<line x1="327.79" y1="343.3" x2="327.79" y2="404.6" stroke="#dcdcdc" stroke-width="0.5" stroke-dasharray="1,1.2"/>
<line x1="335.10" y1="343.3" x2="335.10" y2="404.6" stroke="#dcdcdc" stroke-width="0.5" stroke-dasharray="1,1.2"/>
<line x1="342.42" y1="343.3" x2="342.42" y2="404.6" stroke="#dcdcdc" stroke-width="0.5" stroke-dasharray="1,1.2"/>
<line x1="349.73" y1="343.3" x2="349.73" y2="404.6" stroke="#dcdcdc" stroke-width="0.5" stroke-dasharray="1,1.2"/>
<line x1="357.04" y1="343.3" x2="357.04" y2="404.6" stroke="#dcdcdc" stroke-width="0.5" stroke-dasharray="1,1.2"/>
<line x1="364.36" y1="343.3" x2="364.36" y2="404.6" stroke="#dcdcdc" stroke-width="0.5" stroke-dasharray="1,1.2"/>
<line x1="371.67" y1="343.3" x2="371.67" y2="404.6" stroke="#dcdcdc" stroke-width="0.5" stroke-dasharray="1,1.2"/>
<line x1="378.99" y1="343.3" x2="378.99" y2="404.6" stroke="#dcdcdc" stroke-width="0.5" stroke-dasharray="1,1.2"/>
<line x1="386.30" y1="343.3" x2="386.30" y2="404.6" stroke="#dcdcdc" stroke-width="0.5" stroke-dasharray="1,1.2"/>
<path d="M122.5,343.3 L153.2,343.5 L167.5,346.3 L181.7,348.7 L190.0,350.2 L207.0,352.0 L210.5,352.5 L212.2,360.0 L215.6,368.0 L219.0,371.7 L224.0,374.0 L234.4,376.0 L241.2,377.2 L258.3,378.0 L268.5,378.5 L275.3,381.0 L290.3,385.2 L309.3,387.4 L337.8,390.7 L342.5,395.0 L352.0,400.2 L363.9,402.0 L385.3,404.4 L386.3,404.6 L386.3,343.3 Z" fill="#978bc3"/>
<line x1="122.2" y1="343.3" x2="386.6" y2="343.3" stroke="#000" stroke-width="1.2"/>
<line x1="122.5" y1="342.8" x2="122.5" y2="404.6" stroke="#000" stroke-width="1.2"/>
<line x1="121.0" y1="343.30" x2="122.5" y2="343.30" stroke="#000" stroke-width="0.5"/>
<text x="119.4" y="345.15" font-size="5.2" text-anchor="end" fill="#222" textLength="2.43" lengthAdjust="spacingAndGlyphs">0</text>
<line x1="121.0" y1="354.14" x2="122.5" y2="354.14" stroke="#000" stroke-width="0.5"/>
<text x="119.4" y="355.99" font-size="5.2" text-anchor="end" fill="#222" textLength="7.29" lengthAdjust="spacingAndGlyphs">250</text>
<line x1="121.0" y1="364.98" x2="122.5" y2="364.98" stroke="#000" stroke-width="0.5"/>
<text x="119.4" y="366.83" font-size="5.2" text-anchor="end" fill="#222" textLength="7.29" lengthAdjust="spacingAndGlyphs">500</text>
<line x1="121.0" y1="375.82" x2="122.5" y2="375.82" stroke="#000" stroke-width="0.5"/>
<text x="119.4" y="377.67" font-size="5.2" text-anchor="end" fill="#222" textLength="7.29" lengthAdjust="spacingAndGlyphs">750</text>
<line x1="121.0" y1="386.66" x2="122.5" y2="386.66" stroke="#000" stroke-width="0.5"/>
<text x="119.4" y="388.51" font-size="5.2" text-anchor="end" fill="#222" textLength="9.71" lengthAdjust="spacingAndGlyphs">1000</text>
<line x1="121.0" y1="397.50" x2="122.5" y2="397.50" stroke="#000" stroke-width="0.5"/>
<text x="119.4" y="399.35" font-size="5.2" text-anchor="end" fill="#222" textLength="9.71" lengthAdjust="spacingAndGlyphs">1250</text>
<text x="0" y="0" font-size="5.8" class="t" text-anchor="middle" transform="translate(102.7,374) rotate(-90)" fill="#000">&#35; Contigs</text>
<text x="0" y="0" font-size="5.8" class="t" text-anchor="middle" transform="translate(107.9,374) rotate(-90)" fill="#000">Cutting Short</text>
<line x1="123.00" y1="275.9" x2="123.00" y2="274.59999999999997" stroke="#000" stroke-width="0.5"/>
<line x1="137.63" y1="275.9" x2="137.63" y2="274.59999999999997" stroke="#000" stroke-width="0.5"/>
<line x1="152.26" y1="275.9" x2="152.26" y2="274.59999999999997" stroke="#000" stroke-width="0.5"/>
<line x1="166.88" y1="275.9" x2="166.88" y2="274.59999999999997" stroke="#000" stroke-width="0.5"/>
<line x1="181.51" y1="275.9" x2="181.51" y2="274.59999999999997" stroke="#000" stroke-width="0.5"/>
<line x1="196.14" y1="275.9" x2="196.14" y2="274.59999999999997" stroke="#000" stroke-width="0.5"/>
<line x1="210.77" y1="275.9" x2="210.77" y2="274.59999999999997" stroke="#000" stroke-width="0.5"/>
<line x1="225.39" y1="275.9" x2="225.39" y2="274.59999999999997" stroke="#000" stroke-width="0.5"/>
<line x1="240.02" y1="275.9" x2="240.02" y2="274.59999999999997" stroke="#000" stroke-width="0.5"/>
<line x1="254.65" y1="275.9" x2="254.65" y2="274.59999999999997" stroke="#000" stroke-width="0.5"/>
<line x1="269.28" y1="275.9" x2="269.28" y2="274.59999999999997" stroke="#000" stroke-width="0.5"/>
<line x1="283.91" y1="275.9" x2="283.91" y2="274.59999999999997" stroke="#000" stroke-width="0.5"/>
<line x1="298.53" y1="275.9" x2="298.53" y2="274.59999999999997" stroke="#000" stroke-width="0.5"/>
<line x1="313.16" y1="275.9" x2="313.16" y2="274.59999999999997" stroke="#000" stroke-width="0.5"/>
<line x1="327.79" y1="275.9" x2="327.79" y2="274.59999999999997" stroke="#000" stroke-width="0.5"/>
<line x1="342.42" y1="275.9" x2="342.42" y2="274.59999999999997" stroke="#000" stroke-width="0.5"/>
<line x1="357.04" y1="275.9" x2="357.04" y2="274.59999999999997" stroke="#000" stroke-width="0.5"/>
<line x1="371.67" y1="275.9" x2="371.67" y2="274.59999999999997" stroke="#000" stroke-width="0.5"/>
<line x1="386.30" y1="275.9" x2="386.30" y2="274.59999999999997" stroke="#000" stroke-width="0.5"/>
<line x1="123.00" y1="343.3" x2="123.00" y2="342.0" stroke="#000" stroke-width="0.5"/>
<line x1="137.63" y1="343.3" x2="137.63" y2="342.0" stroke="#000" stroke-width="0.5"/>
<line x1="152.26" y1="343.3" x2="152.26" y2="342.0" stroke="#000" stroke-width="0.5"/>
<line x1="166.88" y1="343.3" x2="166.88" y2="342.0" stroke="#000" stroke-width="0.5"/>
<line x1="181.51" y1="343.3" x2="181.51" y2="342.0" stroke="#000" stroke-width="0.5"/>
<line x1="196.14" y1="343.3" x2="196.14" y2="342.0" stroke="#000" stroke-width="0.5"/>
<line x1="210.77" y1="343.3" x2="210.77" y2="342.0" stroke="#000" stroke-width="0.5"/>
<line x1="225.39" y1="343.3" x2="225.39" y2="342.0" stroke="#000" stroke-width="0.5"/>
<line x1="240.02" y1="343.3" x2="240.02" y2="342.0" stroke="#000" stroke-width="0.5"/>
<line x1="254.65" y1="343.3" x2="254.65" y2="342.0" stroke="#000" stroke-width="0.5"/>
<line x1="269.28" y1="343.3" x2="269.28" y2="342.0" stroke="#000" stroke-width="0.5"/>
<line x1="283.91" y1="343.3" x2="283.91" y2="342.0" stroke="#000" stroke-width="0.5"/>
<line x1="298.53" y1="343.3" x2="298.53" y2="342.0" stroke="#000" stroke-width="0.5"/>
<line x1="313.16" y1="343.3" x2="313.16" y2="342.0" stroke="#000" stroke-width="0.5"/>
<line x1="327.79" y1="343.3" x2="327.79" y2="342.0" stroke="#000" stroke-width="0.5"/>
<line x1="342.42" y1="343.3" x2="342.42" y2="342.0" stroke="#000" stroke-width="0.5"/>
<line x1="357.04" y1="343.3" x2="357.04" y2="342.0" stroke="#000" stroke-width="0.5"/>
<line x1="371.67" y1="343.3" x2="371.67" y2="342.0" stroke="#000" stroke-width="0.5"/>
<line x1="386.30" y1="343.3" x2="386.30" y2="342.0" stroke="#000" stroke-width="0.5"/>
<defs><linearGradient id="sg" x1="0" y1="0" x2="0" y2="1"><stop offset="0" stop-color="#8a1c0c"/><stop offset="0.3" stop-color="#b14a1c"/><stop offset="0.6" stop-color="#d08c45"/><stop offset="0.85" stop-color="#e8c578"/><stop offset="1" stop-color="#f8eaa8"/></linearGradient></defs>
<text x="17.1" y="52.3" font-size="5.75" class="t" fill="#000">&#35; Samples</text>
<rect x="17.1" y="56.4" width="8.5" height="42.7" fill="url(#sg)"/>
<line x1="17.1" y1="61" x2="18.8" y2="61" stroke="#fff" stroke-width="0.6"/>
<line x1="23.9" y1="61" x2="25.6" y2="61" stroke="#fff" stroke-width="0.6"/>
<text x="29.4" y="62.8" font-size="5.0" class="d" fill="#000">1000</text>
<line x1="17.1" y1="77.7" x2="18.8" y2="77.7" stroke="#fff" stroke-width="0.6"/>
<line x1="23.9" y1="77.7" x2="25.6" y2="77.7" stroke="#fff" stroke-width="0.6"/>
<text x="29.4" y="79.5" font-size="5.0" class="d" fill="#000">100</text>
<line x1="17.1" y1="94.8" x2="18.8" y2="94.8" stroke="#fff" stroke-width="0.6"/>
<line x1="23.9" y1="94.8" x2="25.6" y2="94.8" stroke="#fff" stroke-width="0.6"/>
<text x="29.4" y="96.6" font-size="5.0" class="d" fill="#000">10</text>
<line x1="112.00" y1="36.54" x2="115.50" y2="36.54" stroke="#3a3a3a" stroke-width="1.3" stroke-dasharray="1,0.55"/>
<line x1="107.00" y1="71.46" x2="115.50" y2="71.46" stroke="#3a3a3a" stroke-width="1.3" stroke-dasharray="1,0.55"/>
<line x1="98.40" y1="78.45" x2="115.50" y2="78.45" stroke="#3a3a3a" stroke-width="1.3" stroke-dasharray="1,0.55"/>
<line x1="109.30" y1="92.42" x2="115.50" y2="92.42" stroke="#3a3a3a" stroke-width="1.3" stroke-dasharray="1,0.55"/>
<line x1="64.00" y1="106.39" x2="115.50" y2="106.39" stroke="#3a3a3a" stroke-width="1.3" stroke-dasharray="1,0.55"/>
<line x1="84.50" y1="113.37" x2="115.50" y2="113.37" stroke="#3a3a3a" stroke-width="1.3" stroke-dasharray="1,0.55"/>
<line x1="61.40" y1="120.36" x2="115.50" y2="120.36" stroke="#3a3a3a" stroke-width="1.3" stroke-dasharray="1,0.55"/>
<line x1="89.40" y1="127.34" x2="115.50" y2="127.34" stroke="#3a3a3a" stroke-width="1.3" stroke-dasharray="1,0.55"/>
<line x1="103.80" y1="134.33" x2="115.50" y2="134.33" stroke="#3a3a3a" stroke-width="1.3" stroke-dasharray="1,0.55"/>
<line x1="60.60" y1="141.31" x2="115.50" y2="141.31" stroke="#3a3a3a" stroke-width="1.3" stroke-dasharray="1,0.55"/>
<line x1="103.00" y1="148.30" x2="115.50" y2="148.30" stroke="#3a3a3a" stroke-width="1.3" stroke-dasharray="1,0.55"/>
<line x1="94.50" y1="162.27" x2="115.50" y2="162.27" stroke="#3a3a3a" stroke-width="1.3" stroke-dasharray="1,0.55"/>
<line x1="90.30" y1="169.25" x2="115.50" y2="169.25" stroke="#3a3a3a" stroke-width="1.3" stroke-dasharray="1,0.55"/>
<line x1="64.80" y1="176.24" x2="115.50" y2="176.24" stroke="#3a3a3a" stroke-width="1.3" stroke-dasharray="1,0.55"/>
<line x1="71.60" y1="183.22" x2="115.50" y2="183.22" stroke="#3a3a3a" stroke-width="1.3" stroke-dasharray="1,0.55"/>
<line x1="92.80" y1="190.21" x2="115.50" y2="190.21" stroke="#3a3a3a" stroke-width="1.3" stroke-dasharray="1,0.55"/>
<line x1="105.50" y1="204.18" x2="115.50" y2="204.18" stroke="#3a3a3a" stroke-width="1.3" stroke-dasharray="1,0.55"/>
<line x1="47.60" y1="218.15" x2="115.50" y2="218.15" stroke="#3a3a3a" stroke-width="1.3" stroke-dasharray="1,0.55"/>
<line x1="44.80" y1="225.13" x2="115.50" y2="225.13" stroke="#3a3a3a" stroke-width="1.3" stroke-dasharray="1,0.55"/>
<line x1="63.80" y1="232.12" x2="115.50" y2="232.12" stroke="#3a3a3a" stroke-width="1.3" stroke-dasharray="1,0.55"/>
<line x1="50.40" y1="239.10" x2="115.50" y2="239.10" stroke="#3a3a3a" stroke-width="1.3" stroke-dasharray="1,0.55"/>
<line x1="39.20" y1="253.07" x2="115.50" y2="253.07" stroke="#3a3a3a" stroke-width="1.3" stroke-dasharray="1,0.55"/>
<line x1="38.30" y1="260.06" x2="115.50" y2="260.06" stroke="#3a3a3a" stroke-width="1.3" stroke-dasharray="1,0.55"/>
<line x1="36.40" y1="267.04" x2="115.50" y2="267.04" stroke="#3a3a3a" stroke-width="1.3" stroke-dasharray="1,0.55"/>
<line x1="113.70" y1="64.48" x2="115.50" y2="64.48" stroke="#3a3a3a" stroke-width="1.3" stroke-dasharray="1,0.55"/>
<line x1="118.30" y1="50.51" x2="115.50" y2="50.51" stroke="#3a3a3a" stroke-width="1.3" stroke-dasharray="1,0.55"/>
<line x1="119.00" y1="197.19" x2="115.50" y2="197.19" stroke="#3a3a3a" stroke-width="1.3" stroke-dasharray="1,0.55"/>
<line x1="119.00" y1="211.16" x2="115.50" y2="211.16" stroke="#3a3a3a" stroke-width="1.3" stroke-dasharray="1,0.55"/>
<line x1="117.50" y1="246.09" x2="115.50" y2="246.09" stroke="#3a3a3a" stroke-width="1.3" stroke-dasharray="1,0.55"/>
<path d="M67,86 L60.4,86 L60.4,97" fill="none" stroke="#a8361a" stroke-width="3.6" stroke-linejoin="round" stroke-linecap="round"/>
<path d="M59,98 L56,100 L55.5,121" fill="none" stroke="#a8361a" stroke-width="3.0" stroke-linejoin="round" stroke-linecap="round"/>
<path d="M55.5,121 L51,124 L50.8,150" fill="none" stroke="#8b1a0c" stroke-width="3.6" stroke-linejoin="round" stroke-linecap="round"/>
<path d="M50.8,150 L50.8,166" fill="none" stroke="#8b1a0c" stroke-width="5.6" stroke-linejoin="round" stroke-linecap="round"/>
<path d="M51,156.3 L69,156.3" fill="none" stroke="#8b1a0c" stroke-width="3.6" stroke-linejoin="round" stroke-linecap="round"/>
<path d="M50.5,166 L47,171 L41,180 L40.8,196 L37.5,203 L37.5,228 L32,236 L31.5,257" fill="none" stroke="#8b1a0c" stroke-width="5.6" stroke-linejoin="round" stroke-linecap="round"/>
<line x1="72.80" y1="69.50" x2="72.80" y2="86.00" stroke="#a8361a" stroke-width="2.4" stroke-linecap="square"/>
<line x1="72.80" y1="69.50" x2="75.00" y2="69.50" stroke="#a8361a" stroke-width="2.4" stroke-linecap="square"/>
<line x1="84.40" y1="45.40" x2="84.40" y2="55.00" stroke="#c76a2a" stroke-width="2.4" stroke-linecap="square"/>
<line x1="84.40" y1="45.40" x2="92.00" y2="45.40" stroke="#c76a2a" stroke-width="2.4" stroke-linecap="square"/>
<line x1="82.00" y1="59.00" x2="82.00" y2="68.00" stroke="#a8361a" stroke-width="2.0" stroke-linecap="square"/>
<line x1="99.80" y1="37.00" x2="99.80" y2="42.00" stroke="#dea052" stroke-width="1.6" stroke-linecap="square"/>
<line x1="80.80" y1="74.60" x2="80.80" y2="78.30" stroke="#c76a2a" stroke-width="1.3" stroke-linecap="square"/>
<line x1="80.80" y1="78.30" x2="88.00" y2="78.30" stroke="#c76a2a" stroke-width="1.3" stroke-linecap="square"/>
<line x1="74.20" y1="90.00" x2="74.20" y2="99.50" stroke="#dea052" stroke-width="1.0" stroke-linecap="square"/>
<line x1="74.20" y1="92.20" x2="101.00" y2="92.20" stroke="#dea052" stroke-width="1.0" stroke-linecap="square"/>
<line x1="74.20" y1="99.50" x2="110.00" y2="99.50" stroke="#dea052" stroke-width="1.0" stroke-linecap="square"/>
<line x1="80.00" y1="85.60" x2="110.00" y2="85.60" stroke="#f0d27a" stroke-width="0.8" stroke-linecap="square"/>
<line x1="88.00" y1="71.40" x2="101.00" y2="71.40" stroke="#f0d27a" stroke-width="0.8" stroke-linecap="square"/>
<line x1="91.80" y1="64.40" x2="102.70" y2="64.40" stroke="#c76a2a" stroke-width="1.2" stroke-linecap="square"/>
<line x1="108.50" y1="29.30" x2="110.50" y2="29.30" stroke="#f0d27a" stroke-width="0.8" stroke-linecap="square"/>
<line x1="105.00" y1="43.20" x2="111.00" y2="43.20" stroke="#f0d27a" stroke-width="0.8" stroke-linecap="square"/>
<line x1="105.00" y1="50.50" x2="108.50" y2="50.50" stroke="#dea052" stroke-width="0.9" stroke-linecap="square"/>
<line x1="105.00" y1="57.60" x2="111.50" y2="57.60" stroke="#f0d27a" stroke-width="0.8" stroke-linecap="square"/>
<line x1="55.50" y1="111.90" x2="73.50" y2="111.90" stroke="#c76a2a" stroke-width="1.4" stroke-linecap="square"/>
<line x1="61.40" y1="127.30" x2="82.60" y2="127.30" stroke="#f0d27a" stroke-width="0.8" stroke-linecap="square"/>
<line x1="61.40" y1="134.40" x2="96.20" y2="134.40" stroke="#f0d27a" stroke-width="0.8" stroke-linecap="square"/>
<line x1="75.00" y1="150.70" x2="75.00" y2="153.20" stroke="#a8361a" stroke-width="1.6" stroke-linecap="square"/>
<line x1="75.00" y1="150.70" x2="89.40" y2="150.70" stroke="#a8361a" stroke-width="1.6" stroke-linecap="square"/>
<line x1="81.80" y1="157.00" x2="103.00" y2="157.00" stroke="#c76a2a" stroke-width="1.2" stroke-linecap="square"/>
<line x1="78.00" y1="160.80" x2="78.00" y2="162.10" stroke="#c76a2a" stroke-width="1.0" stroke-linecap="square"/>
<line x1="78.00" y1="162.10" x2="84.30" y2="162.10" stroke="#c76a2a" stroke-width="1.0" stroke-linecap="square"/>
<line x1="58.00" y1="169.30" x2="82.60" y2="169.30" stroke="#f0d27a" stroke-width="0.8" stroke-linecap="square"/>
<line x1="42.00" y1="183.00" x2="64.80" y2="183.00" stroke="#f0d27a" stroke-width="0.8" stroke-linecap="square"/>
<line x1="42.00" y1="190.30" x2="86.00" y2="190.30" stroke="#f0d27a" stroke-width="0.8" stroke-linecap="square"/>
<line x1="48.70" y1="197.00" x2="58.00" y2="197.00" stroke="#c76a2a" stroke-width="1.3" stroke-linecap="square"/>
<line x1="68.20" y1="197.00" x2="108.00" y2="197.00" stroke="#dea052" stroke-width="1.0" stroke-linecap="square"/>
<line x1="63.00" y1="204.40" x2="98.70" y2="204.40" stroke="#f0d27a" stroke-width="0.8" stroke-linecap="square"/>
<line x1="45.00" y1="210.50" x2="108.00" y2="210.50" stroke="#dea052" stroke-width="1.0" stroke-linecap="square"/>
<line x1="44.80" y1="231.60" x2="56.40" y2="231.60" stroke="#f0d27a" stroke-width="0.8" stroke-linecap="square"/>
<line x1="32.00" y1="245.80" x2="110.00" y2="245.80" stroke="#f0d27a" stroke-width="0.8" stroke-linecap="square"/>
<rect x="102.70" y="33.55" width="9.80" height="7.3" rx="1.4" fill="#fff" stroke="#000" stroke-width="1.45"/>
<text x="107.60" y="39.40" font-size="6.3" text-anchor="middle" fill="#1a1a1a" textLength="6.80" lengthAdjust="spacingAndGlyphs">53</text>
<rect x="95.55" y="29.55" width="12.90" height="7.3" rx="1.4" fill="#fff" stroke="#000" stroke-width="1.45"/>
<text x="102.00" y="35.40" font-size="6.3" text-anchor="middle" fill="#1a1a1a" textLength="9.90" lengthAdjust="spacingAndGlyphs">137</text>
<rect x="110.80" y="25.15" width="6.60" height="7.3" rx="1.4" fill="#fff" stroke="#000" stroke-width="1.45"/>
<text x="114.10" y="31.00" font-size="6.3" text-anchor="middle" fill="#1a1a1a" textLength="3.50" lengthAdjust="spacingAndGlyphs">5</text>
<rect x="111.10" y="39.05" width="6.60" height="7.3" rx="1.4" fill="#fff" stroke="#000" stroke-width="1.45"/>
<text x="114.40" y="44.90" font-size="6.3" text-anchor="middle" fill="#1a1a1a" textLength="3.50" lengthAdjust="spacingAndGlyphs">5</text>
<rect x="92.05" y="42.25" width="12.90" height="7.3" rx="1.4" fill="#fff" stroke="#000" stroke-width="1.45"/>
<text x="98.50" y="48.10" font-size="6.3" text-anchor="middle" fill="#1a1a1a" textLength="9.90" lengthAdjust="spacingAndGlyphs">316</text>
<rect x="109.10" y="46.45" width="9.80" height="7.3" rx="1.4" fill="#fff" stroke="#000" stroke-width="1.45"/>
<text x="114.00" y="52.30" font-size="6.3" text-anchor="middle" fill="#1a1a1a" textLength="6.80" lengthAdjust="spacingAndGlyphs">17</text>
<rect x="95.30" y="50.35" width="9.80" height="7.3" rx="1.4" fill="#fff" stroke="#000" stroke-width="1.45"/>
<text x="100.20" y="56.20" font-size="6.3" text-anchor="middle" fill="#1a1a1a" textLength="6.80" lengthAdjust="spacingAndGlyphs">91</text>
<rect x="78.45" y="51.55" width="12.90" height="7.3" rx="1.4" fill="#fff" stroke="#000" stroke-width="1.45"/>
<text x="84.90" y="57.40" font-size="6.3" text-anchor="middle" fill="#1a1a1a" textLength="9.90" lengthAdjust="spacingAndGlyphs">382</text>
<rect x="111.30" y="54.25" width="6.60" height="7.3" rx="1.4" fill="#fff" stroke="#000" stroke-width="1.45"/>
<text x="114.60" y="60.10" font-size="6.3" text-anchor="middle" fill="#1a1a1a" textLength="3.50" lengthAdjust="spacingAndGlyphs">5</text>
<rect x="78.75" y="59.15" width="12.90" height="7.3" rx="1.4" fill="#fff" stroke="#000" stroke-width="1.45"/>
<text x="85.20" y="65.00" font-size="6.3" text-anchor="middle" fill="#1a1a1a" textLength="9.90" lengthAdjust="spacingAndGlyphs">390</text>
<rect x="103.30" y="60.35" width="9.80" height="7.3" rx="1.4" fill="#fff" stroke="#000" stroke-width="1.45"/>
<text x="108.20" y="66.20" font-size="6.3" text-anchor="middle" fill="#1a1a1a" textLength="6.80" lengthAdjust="spacingAndGlyphs">33</text>
<rect x="74.65" y="67.65" width="12.90" height="7.3" rx="1.4" fill="#fff" stroke="#000" stroke-width="1.45"/>
<text x="81.10" y="73.50" font-size="6.3" text-anchor="middle" fill="#1a1a1a" textLength="9.90" lengthAdjust="spacingAndGlyphs">527</text>
<rect x="100.90" y="67.65" width="6.60" height="7.3" rx="1.4" fill="#fff" stroke="#000" stroke-width="1.45"/>
<text x="104.20" y="73.50" font-size="6.3" text-anchor="middle" fill="#1a1a1a" textLength="3.50" lengthAdjust="spacingAndGlyphs">5</text>
<rect x="88.30" y="74.55" width="9.80" height="7.3" rx="1.4" fill="#fff" stroke="#000" stroke-width="1.45"/>
<text x="93.20" y="80.40" font-size="6.3" text-anchor="middle" fill="#1a1a1a" textLength="6.80" lengthAdjust="spacingAndGlyphs">72</text>
<rect x="66.85" y="82.35" width="12.90" height="7.3" rx="1.4" fill="#fff" stroke="#000" stroke-width="1.45"/>
<text x="73.30" y="88.20" font-size="6.3" text-anchor="middle" fill="#1a1a1a" textLength="9.90" lengthAdjust="spacingAndGlyphs">654</text>
<rect x="110.00" y="81.55" width="6.60" height="7.3" rx="1.4" fill="#fff" stroke="#000" stroke-width="1.45"/>
<text x="113.30" y="87.40" font-size="6.3" text-anchor="middle" fill="#1a1a1a" textLength="3.50" lengthAdjust="spacingAndGlyphs">5</text>
<rect x="100.40" y="88.85" width="9.80" height="7.3" rx="1.4" fill="#fff" stroke="#000" stroke-width="1.45"/>
<text x="105.30" y="94.70" font-size="6.3" text-anchor="middle" fill="#1a1a1a" textLength="6.80" lengthAdjust="spacingAndGlyphs">35</text>
<rect x="54.25" y="92.85" width="12.90" height="7.3" rx="1.4" fill="#fff" stroke="#000" stroke-width="1.45"/>
<text x="60.70" y="98.70" font-size="6.3" text-anchor="middle" fill="#1a1a1a" textLength="9.90" lengthAdjust="spacingAndGlyphs">673</text>
<rect x="110.00" y="95.75" width="6.60" height="7.3" rx="1.4" fill="#fff" stroke="#000" stroke-width="1.45"/>
<text x="113.30" y="101.60" font-size="6.3" text-anchor="middle" fill="#1a1a1a" textLength="3.50" lengthAdjust="spacingAndGlyphs">8</text>
<rect x="50.95" y="101.35" width="12.90" height="7.3" rx="1.4" fill="#fff" stroke="#000" stroke-width="1.45"/>
<text x="57.40" y="107.20" font-size="6.3" text-anchor="middle" fill="#1a1a1a" textLength="9.90" lengthAdjust="spacingAndGlyphs">777</text>
<rect x="74.10" y="109.05" width="9.80" height="7.3" rx="1.4" fill="#fff" stroke="#000" stroke-width="1.45"/>
<text x="79.00" y="114.90" font-size="6.3" text-anchor="middle" fill="#1a1a1a" textLength="6.80" lengthAdjust="spacingAndGlyphs">90</text>
<rect x="48.55" y="117.75" width="12.90" height="7.3" rx="1.4" fill="#fff" stroke="#000" stroke-width="1.45"/>
<text x="55.00" y="123.60" font-size="6.3" text-anchor="middle" fill="#1a1a1a" textLength="9.90" lengthAdjust="spacingAndGlyphs">858</text>
<rect x="82.70" y="123.75" width="6.60" height="7.3" rx="1.4" fill="#fff" stroke="#000" stroke-width="1.45"/>
<text x="86.00" y="129.60" font-size="6.3" text-anchor="middle" fill="#1a1a1a" textLength="3.50" lengthAdjust="spacingAndGlyphs">5</text>
<rect x="45.20" y="127.95" width="16.00" height="7.3" rx="1.4" fill="#fff" stroke="#000" stroke-width="1.45"/>
<text x="53.20" y="133.80" font-size="6.3" text-anchor="middle" fill="#1a1a1a" textLength="13.00" lengthAdjust="spacingAndGlyphs">1349</text>
<rect x="96.70" y="130.95" width="6.60" height="7.3" rx="1.4" fill="#fff" stroke="#000" stroke-width="1.45"/>
<text x="100.00" y="136.80" font-size="6.3" text-anchor="middle" fill="#1a1a1a" textLength="3.50" lengthAdjust="spacingAndGlyphs">6</text>
<rect x="47.15" y="137.65" width="12.90" height="7.3" rx="1.4" fill="#fff" stroke="#000" stroke-width="1.45"/>
<text x="53.60" y="143.50" font-size="6.3" text-anchor="middle" fill="#1a1a1a" textLength="9.90" lengthAdjust="spacingAndGlyphs">434</text>
<rect x="45.20" y="144.65" width="16.00" height="7.3" rx="1.4" fill="#fff" stroke="#000" stroke-width="1.45"/>
<text x="53.20" y="150.50" font-size="6.3" text-anchor="middle" fill="#1a1a1a" textLength="13.00" lengthAdjust="spacingAndGlyphs">1655</text>
<rect x="93.70" y="143.85" width="6.60" height="7.3" rx="1.4" fill="#fff" stroke="#000" stroke-width="1.45"/>
<text x="97.00" y="149.70" font-size="6.3" text-anchor="middle" fill="#1a1a1a" textLength="3.50" lengthAdjust="spacingAndGlyphs">5</text>
<rect x="89.75" y="147.85" width="12.90" height="7.3" rx="1.4" fill="#fff" stroke="#000" stroke-width="1.45"/>
<text x="96.20" y="153.70" font-size="6.3" text-anchor="middle" fill="#1a1a1a" textLength="9.90" lengthAdjust="spacingAndGlyphs">209</text>
<rect x="102.85" y="151.65" width="12.90" height="7.3" rx="1.4" fill="#fff" stroke="#000" stroke-width="1.45"/>
<text x="109.30" y="157.50" font-size="6.3" text-anchor="middle" fill="#1a1a1a" textLength="9.90" lengthAdjust="spacingAndGlyphs">184</text>
<rect x="68.75" y="153.35" width="12.90" height="7.3" rx="1.4" fill="#fff" stroke="#000" stroke-width="1.45"/>
<text x="75.20" y="159.20" font-size="6.3" text-anchor="middle" fill="#1a1a1a" textLength="9.90" lengthAdjust="spacingAndGlyphs">272</text>
<rect x="84.50" y="158.45" width="9.80" height="7.3" rx="1.4" fill="#fff" stroke="#000" stroke-width="1.45"/>
<text x="89.40" y="164.30" font-size="6.3" text-anchor="middle" fill="#1a1a1a" textLength="6.80" lengthAdjust="spacingAndGlyphs">13</text>
<rect x="42.00" y="162.65" width="16.00" height="7.3" rx="1.4" fill="#fff" stroke="#000" stroke-width="1.45"/>
<text x="50.00" y="168.50" font-size="6.3" text-anchor="middle" fill="#1a1a1a" textLength="13.00" lengthAdjust="spacingAndGlyphs">1711</text>
<rect x="83.10" y="165.65" width="6.60" height="7.3" rx="1.4" fill="#fff" stroke="#000" stroke-width="1.45"/>
<text x="86.40" y="171.50" font-size="6.3" text-anchor="middle" fill="#1a1a1a" textLength="3.50" lengthAdjust="spacingAndGlyphs">5</text>
<rect x="36.70" y="170.95" width="16.00" height="7.3" rx="1.4" fill="#fff" stroke="#000" stroke-width="1.45"/>
<text x="44.70" y="176.80" font-size="6.3" text-anchor="middle" fill="#1a1a1a" textLength="13.00" lengthAdjust="spacingAndGlyphs">1747</text>
<rect x="54.80" y="172.65" width="9.80" height="7.3" rx="1.4" fill="#fff" stroke="#000" stroke-width="1.45"/>
<text x="59.70" y="178.50" font-size="6.3" text-anchor="middle" fill="#1a1a1a" textLength="6.80" lengthAdjust="spacingAndGlyphs">22</text>
<rect x="64.90" y="179.25" width="6.60" height="7.3" rx="1.4" fill="#fff" stroke="#000" stroke-width="1.45"/>
<text x="68.20" y="185.10" font-size="6.3" text-anchor="middle" fill="#1a1a1a" textLength="3.50" lengthAdjust="spacingAndGlyphs">5</text>
<rect x="86.10" y="186.65" width="6.60" height="7.3" rx="1.4" fill="#fff" stroke="#000" stroke-width="1.45"/>
<text x="89.40" y="192.50" font-size="6.3" text-anchor="middle" fill="#1a1a1a" textLength="3.50" lengthAdjust="spacingAndGlyphs">5</text>
<rect x="32.60" y="191.05" width="16.00" height="7.3" rx="1.4" fill="#fff" stroke="#000" stroke-width="1.45"/>
<text x="40.60" y="196.90" font-size="6.3" text-anchor="middle" fill="#1a1a1a" textLength="13.00" lengthAdjust="spacingAndGlyphs">1848</text>
<rect x="108.60" y="193.65" width="9.80" height="7.3" rx="1.4" fill="#fff" stroke="#000" stroke-width="1.45"/>
<text x="113.50" y="199.50" font-size="6.3" text-anchor="middle" fill="#1a1a1a" textLength="6.80" lengthAdjust="spacingAndGlyphs">11</text>
<rect x="58.20" y="197.15" width="9.80" height="7.3" rx="1.4" fill="#fff" stroke="#000" stroke-width="1.45"/>
<text x="63.10" y="203.00" font-size="6.3" text-anchor="middle" fill="#1a1a1a" textLength="6.80" lengthAdjust="spacingAndGlyphs">33</text>
<rect x="98.80" y="200.45" width="6.60" height="7.3" rx="1.4" fill="#fff" stroke="#000" stroke-width="1.45"/>
<text x="102.10" y="206.30" font-size="6.3" text-anchor="middle" fill="#1a1a1a" textLength="3.50" lengthAdjust="spacingAndGlyphs">6</text>
<rect x="40.20" y="202.15" width="9.80" height="7.3" rx="1.4" fill="#fff" stroke="#000" stroke-width="1.45"/>
<text x="45.10" y="208.00" font-size="6.3" text-anchor="middle" fill="#1a1a1a" textLength="6.80" lengthAdjust="spacingAndGlyphs">73</text>
<rect x="108.60" y="207.55" width="9.80" height="7.3" rx="1.4" fill="#fff" stroke="#000" stroke-width="1.45"/>
<text x="113.50" y="213.40" font-size="6.3" text-anchor="middle" fill="#1a1a1a" textLength="6.80" lengthAdjust="spacingAndGlyphs">14</text>
<rect x="31.20" y="212.05" width="16.00" height="7.3" rx="1.4" fill="#fff" stroke="#000" stroke-width="1.45"/>
<text x="39.20" y="217.90" font-size="6.3" text-anchor="middle" fill="#1a1a1a" textLength="13.00" lengthAdjust="spacingAndGlyphs">2001</text>
<rect x="34.80" y="221.25" width="9.80" height="7.3" rx="1.4" fill="#fff" stroke="#000" stroke-width="1.45"/>
<text x="39.70" y="227.10" font-size="6.3" text-anchor="middle" fill="#1a1a1a" textLength="6.80" lengthAdjust="spacingAndGlyphs">92</text>
<rect x="28.90" y="227.75" width="16.00" height="7.3" rx="1.4" fill="#fff" stroke="#000" stroke-width="1.45"/>
<text x="36.90" y="233.60" font-size="6.3" text-anchor="middle" fill="#1a1a1a" textLength="13.00" lengthAdjust="spacingAndGlyphs">2037</text>
<rect x="56.80" y="228.45" width="6.60" height="7.3" rx="1.4" fill="#fff" stroke="#000" stroke-width="1.45"/>
<text x="60.10" y="234.30" font-size="6.3" text-anchor="middle" fill="#1a1a1a" textLength="3.50" lengthAdjust="spacingAndGlyphs">7</text>
<rect x="27.00" y="235.45" width="16.00" height="7.3" rx="1.4" fill="#fff" stroke="#000" stroke-width="1.45"/>
<text x="35.00" y="241.30" font-size="6.3" text-anchor="middle" fill="#1a1a1a" textLength="13.00" lengthAdjust="spacingAndGlyphs">2047</text>
<rect x="43.80" y="235.45" width="6.60" height="7.3" rx="1.4" fill="#fff" stroke="#000" stroke-width="1.45"/>
<text x="47.10" y="241.30" font-size="6.3" text-anchor="middle" fill="#1a1a1a" textLength="3.50" lengthAdjust="spacingAndGlyphs">6</text>
<rect x="110.40" y="242.65" width="6.60" height="7.3" rx="1.4" fill="#fff" stroke="#000" stroke-width="1.45"/>
<text x="113.70" y="248.50" font-size="6.3" text-anchor="middle" fill="#1a1a1a" textLength="3.50" lengthAdjust="spacingAndGlyphs">5</text>
<rect x="33.10" y="249.15" width="6.60" height="7.3" rx="1.4" fill="#fff" stroke="#000" stroke-width="1.45"/>
<text x="36.40" y="255.00" font-size="6.3" text-anchor="middle" fill="#1a1a1a" textLength="3.50" lengthAdjust="spacingAndGlyphs">5</text>
<rect x="34.20" y="255.35" width="6.60" height="7.3" rx="1.4" fill="#fff" stroke="#000" stroke-width="1.45"/>
<text x="37.50" y="261.20" font-size="6.3" text-anchor="middle" fill="#1a1a1a" textLength="3.50" lengthAdjust="spacingAndGlyphs">1</text>
<rect x="19.80" y="255.25" width="16.00" height="7.3" rx="1.4" fill="#fff" stroke="#000" stroke-width="1.45"/>
<text x="27.80" y="261.10" font-size="6.3" text-anchor="middle" fill="#1a1a1a" textLength="13.00" lengthAdjust="spacingAndGlyphs">2133</text>
<rect x="26.80" y="263.15" width="9.80" height="7.3" rx="1.4" fill="#fff" stroke="#000" stroke-width="1.45"/>
<text x="31.70" y="269.00" font-size="6.3" text-anchor="middle" fill="#1a1a1a" textLength="6.80" lengthAdjust="spacingAndGlyphs">18</text>
</svg></body></html>
